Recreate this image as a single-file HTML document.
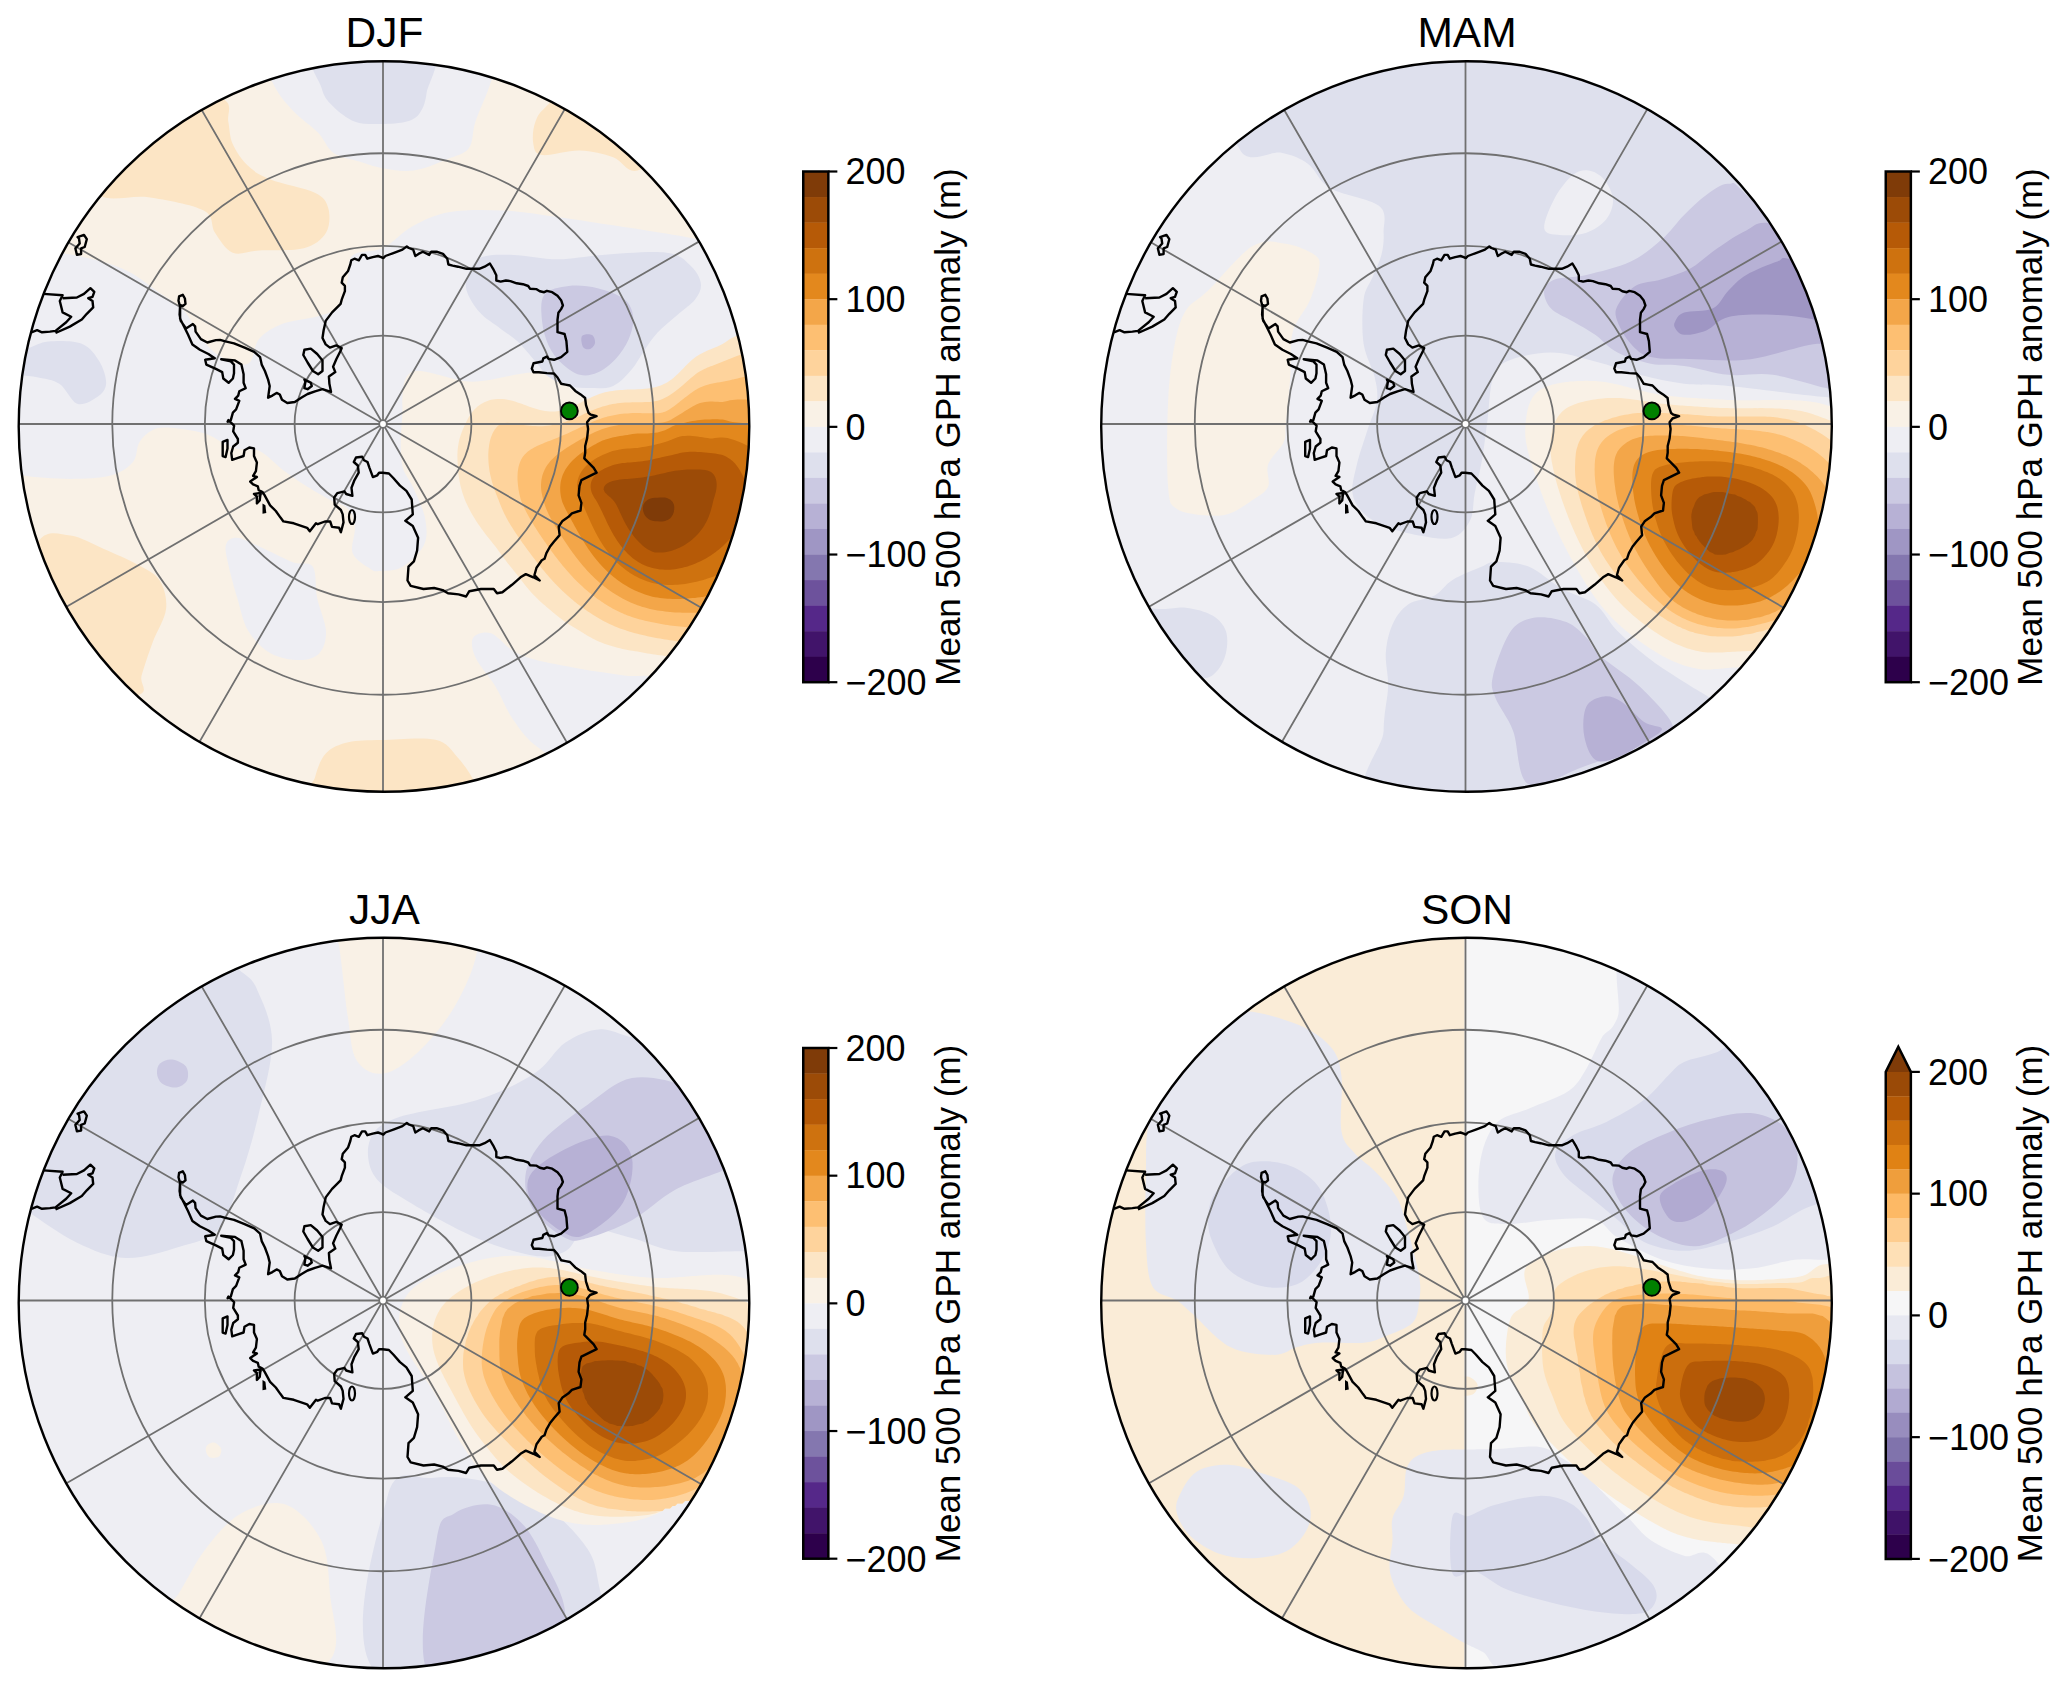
<!DOCTYPE html><html><head><meta charset="utf-8"><style>html,body{margin:0;padding:0;background:#fff;overflow:hidden}svg{display:block}</style></head><body>
<svg xmlns="http://www.w3.org/2000/svg" width="2067" height="1688" viewBox="0 0 2067 1688">
<defs><clipPath id="cc"><circle cx="384.0" cy="426.5" r="365.3"/></clipPath>
<g id="coast"><path d="M180.1 305.5 L179.6 314.5 L180.7 320.9 L186.0 328.4 L192.9 324.1 L195.1 326.3 L195.6 331.6 L200.9 339.1 L207.3 342.5 L215.9 340.1 L220.1 339.9 L225.4 341.4 L234.0 343.3 L244.6 347.6 L254.2 351.8 L260.1 357.2 L261.7 364.6 L264.9 371.0 L268.1 379.6 L269.7 386.0 L268.1 397.7 L272.4 395.6 L276.6 392.9 L279.8 394.5 L282.0 399.8 L287.3 403.0 L294.8 402.0 L301.2 397.7 L307.6 394.0 L315.0 391.3 L322.5 389.2 L331.0 391.8 L329.4 383.8 L328.9 376.4 L335.3 372.1 L333.1 366.8 L336.3 359.3 L340.6 350.8 L341.7 348.1 L336.3 345.4 L329.9 347.6 L325.7 344.4 L322.5 338.0 L323.6 330.5 L325.7 320.9 L332.1 312.4 L340.6 303.9 L341.7 299.7 L344.9 291.2 L344.9 285.9 L341.7 282.7 L342.8 277.3 L348.1 270.9 L350.3 264.5 L351.3 260.3 L354.5 258.7 L358.8 260.3 L362.0 254.9 L365.2 254.9 L367.3 258.7 L372.7 257.1 L378.0 256.0 L381.2 257.1 L383.3 258.1 L385.4 256.0 L394.0 252.8 L402.5 249.6 L406.8 246.4 L408.9 248.0 L413.2 249.6 L415.3 256.0 L418.5 253.9 L422.8 251.7 L429.2 254.9 L431.3 251.7 L436.6 251.7 L443.0 253.9 L447.3 258.7 L448.4 264.5 L452.6 265.6 L458.0 266.7 L466.5 268.8 L472.9 268.8 L479.3 268.8 L484.6 266.7 L489.9 263.5 L493.1 268.8 L496.3 275.2 L496.3 280.5 L500.6 281.6 L505.9 280.5 L510.4 281.1 L516.7 283.3 L522.9 284.2 L528.2 286.0 L530.0 288.7 L536.2 289.1 L539.8 291.3 L544.2 292.2 L546.9 290.9 L552.2 292.2 L557.5 295.8 L561.1 300.2 L562.9 305.5 L561.1 309.1 L558.4 312.7 L557.5 319.8 L557.5 326.9 L557.5 332.2 L564.6 334.0 L566.4 341.1 L567.3 351.8 L561.1 357.1 L554.0 359.8 L548.7 358.9 L546.9 356.6 L543.3 358.4 L542.4 361.5 L533.5 363.3 L531.8 368.6 L533.5 372.2 L538.9 372.2 L546.9 373.1 L554.0 373.5 L557.5 377.5 L561.1 383.7 L565.5 384.6 L570.0 385.5 L575.3 390.9 L580.6 394.4 L585.1 398.0 L586.0 405.1 L588.6 413.1 L590.9 414.7 L596.6 416.2 L590.0 418.5 L587.1 422.3 L588.1 429.0 L587.1 438.4 L585.2 446.0 L585.2 452.7 L584.3 458.3 L589.0 463.1 L593.7 467.8 L596.6 472.6 L589.0 476.4 L581.4 480.1 L579.5 485.8 L578.6 495.3 L581.4 502.9 L580.5 510.5 L571.9 513.3 L568.2 517.1 L562.5 520.9 L558.7 526.6 L559.6 535.1 L553.9 541.8 L550.1 546.5 L546.4 553.1 L544.5 558.8 L541.8 560.2 L536.5 567.7 L534.4 575.2 L539.7 580.5 L533.3 577.3 L525.8 574.1 L520.5 577.3 L512.0 584.8 L502.4 592.2 L497.0 593.3 L493.8 589.0 L481.0 589.0 L469.3 591.2 L466.1 596.5 L458.6 594.4 L448.0 593.3 L442.7 590.1 L434.1 588.0 L423.5 589.0 L410.7 585.8 L407.5 580.5 L408.5 566.6 L413.9 561.3 L417.1 550.6 L418.1 537.8 L412.8 526.1 L405.3 520.8 L412.8 514.4 L411.7 499.5 L406.4 490.9 L400.0 485.6 L393.3 478.0 L388.9 473.5 L382.6 472.7 L379.1 472.7 L377.3 475.3 L372.9 477.1 L369.3 467.3 L367.5 462.0 L364.0 460.2 L362.2 456.7 L356.0 457.5 L353.8 462.0 L357.8 465.5 L358.7 472.7 L354.2 480.7 L351.5 487.8 L352.4 495.8 L346.2 494.0 L344.4 491.3 L337.3 493.1 L334.2 497.5 L334.7 504.6 L340.9 510.0 L342.7 514.4 L343.5 522.4 L340.9 532.2 L339.1 527.8 L332.0 526.9 L330.2 521.5 L324.9 521.5 L317.8 524.2 L316.0 523.3 L309.8 531.3 L307.1 527.8 L293.8 523.3 L283.4 521.4 L280.5 517.6 L275.8 511.0 L270.1 505.3 L264.4 494.9 L262.5 492.0 L258.7 490.1 L257.8 486.3 L253.1 484.4 L250.2 481.6 L256.9 476.9 L253.1 475.9 L255.9 471.2 L256.9 462.6 L254.0 456.0 L254.0 448.4 L249.3 447.5 L244.5 450.3 L243.6 456.0 L237.9 457.9 L232.2 459.8 L231.3 453.2 L233.2 446.5 L237.9 442.7 L237.9 439.0 L233.2 431.4 L234.1 425.7 L228.4 420.0 L227.6 421.7 L230.8 420.1 L232.9 412.6 L236.1 409.4 L239.3 400.9 L235.0 398.8 L238.2 395.6 L239.3 391.3 L245.7 388.1 L243.6 382.8 L243.6 374.2 L241.4 364.6 L235.0 360.4 L221.2 359.3 L230.8 361.4 L234.0 364.6 L234.0 373.2 L232.9 378.5 L228.6 382.8 L223.3 378.5 L222.2 372.1 L215.9 368.9 L206.3 364.6 L205.2 359.8 L214.8 358.2 L208.4 354.0 L199.9 349.7 L192.4 344.4 L188.1 334.8 L183.9 326.3 L180.1 318.8 L180.1 305.5Z M179.1 296.4 L182.8 294.8 L184.9 298.5 L185.5 303.9 L182.8 306.0 L179.6 304.9 L178.5 300.7Z M304.4 349.7 L310.8 348.6 L317.2 354.0 L322.5 360.4 L322.5 371.0 L318.2 374.2 L312.9 371.0 L307.6 362.5 L303.3 355.0Z M304.4 379.6 L310.8 382.8 L311.8 386.0 L307.6 389.2 L304.4 388.1 L305.4 381.7Z M222.7 441.8 L227.5 439.9 L227.5 448.4 L225.6 457.0 L222.7 456.0 L222.7 448.4Z M254.0 493.9 L260.6 493.0 L259.7 500.5 L256.9 503.4 L256.9 496.7Z M77.6 237.1 L84.0 234.9 L86.8 239.2 L84.7 247.0 L81.1 248.4 L81.1 254.1 L76.9 254.8 L75.4 248.4 L79.7 243.5 L79.0 238.5Z M43.5 293.9 L62.6 295.3 L59.8 301.0 L62.6 312.4 L71.2 316.7 L66.2 322.3 L55.5 330.9 L49.9 331.6 L42.0 332.3 L37.1 330.2 L31.4 332.3 M62.6 298.2 L76.9 297.5 L84.0 293.9 L90.4 288.2 L94.3 291.8 L92.5 296.8 L88.2 298.2 L92.5 301.0 L93.2 307.4 L86.8 313.8 L81.8 319.5 L69.8 326.6 L55.5 333.0" fill="none" stroke="#000" stroke-width="2.4" stroke-linejoin="round"/><path d="M262.5 503.4 L265.4 505.3 L266.3 512.9 L262.5 513.8Z" fill="#000"/><g fill="none" stroke="#000" stroke-width="2.2"><ellipse cx="352" cy="517" rx="3" ry="7"/></g></g>
<g id="grid" fill="none" stroke="#707070" stroke-width="1.8"><path d="M-17.00 424.00 L783.00 424.00 M36.59 224.00 L729.41 624.00 M183.00 77.59 L583.00 770.41 M383.00 24.00 L383.00 824.00 M583.00 77.59 L183.00 770.41 M729.41 224.00 L36.59 624.00"/><circle cx="383.0" cy="424.0" r="88.40"/><circle cx="383.0" cy="424.0" r="178.16"/><circle cx="383.0" cy="424.0" r="270.74"/><circle cx="383.0" cy="424.0" r="3.8" fill="#fff" stroke-width="1.8"/></g>
</defs>
<g transform="translate(0.0,0.0)">
<text x="384.5" y="47" font-family="Liberation Sans, sans-serif" font-size="42.5" text-anchor="middle">DJF</text>
<g clip-path="url(#cc)">
<rect x="0" y="0" width="800" height="820" fill="#f9f1e6"/><path d="M260.0 40.0 C222.1 47.1 267.2 71.0 272.7 82.8 C278.1 94.5 285.1 102.2 292.7 110.5 C300.3 118.8 311.4 125.8 318.2 132.8 C325.0 139.9 326.4 148.0 333.3 152.8 C340.2 157.6 351.3 159.1 359.4 161.6 C367.4 164.1 372.6 166.5 381.6 168.0 C390.6 169.5 402.5 171.9 413.3 170.5 C424.1 169.1 437.4 163.1 446.6 159.4 C455.9 155.7 464.0 154.6 468.8 148.3 C473.6 142.0 471.8 132.7 475.5 121.6 C479.2 110.5 486.9 95.2 491.0 81.6 C495.1 68.0 538.5 46.9 500.0 40.0 C461.5 33.1 297.9 32.9 260.0 40.0Z" fill="#eeeef3"/><path d="M259.0 339.0 C264.2 332.7 272.7 327.7 282.0 324.0 C291.3 320.3 306.2 319.3 315.0 317.0 C323.8 314.7 330.2 313.0 335.0 310.0 C339.8 307.0 341.8 304.5 344.0 299.0 C346.2 293.5 346.5 284.3 348.0 277.0 C349.5 269.7 347.2 259.8 353.0 255.0 C358.8 250.2 373.0 252.8 383.0 248.0 C393.0 243.2 401.8 232.0 413.0 226.0 C424.2 220.0 434.8 214.6 450.0 212.0 C465.2 209.4 486.1 209.7 504.0 210.5 C522.0 211.3 541.4 214.9 557.7 217.1 C574.0 219.3 587.2 221.6 602.0 223.8 C616.8 226.0 630.6 227.8 646.5 230.4 C662.4 233.0 683.7 236.0 697.6 239.3 C711.5 242.6 719.6 239.9 730.0 250.0 C740.4 260.1 758.3 285.8 760.0 300.0 C761.7 314.2 746.9 327.0 740.0 335.0 C733.1 343.0 732.6 339.0 718.8 347.8 C705.0 356.6 677.5 379.3 657.0 388.0 C636.5 396.7 611.0 400.5 595.6 400.0 C580.2 399.5 575.1 389.4 564.8 384.8 C554.5 380.2 549.5 373.0 534.0 372.5 C518.5 372.0 492.5 381.7 472.0 381.7 C451.5 381.7 422.7 366.1 411.0 372.5 C399.3 378.9 403.5 404.8 402.0 420.0 C400.5 435.2 400.2 452.8 402.0 464.0 C403.8 475.2 409.2 478.0 413.0 487.0 C416.8 496.0 423.2 508.3 425.0 518.0 C426.8 527.7 427.8 536.8 424.0 545.0 C420.2 553.2 409.3 562.7 402.0 567.0 C394.7 571.3 385.2 570.7 380.0 571.0 C374.8 571.3 375.1 571.9 370.5 568.9 C365.9 565.9 355.3 560.3 352.7 553.3 C350.1 546.2 355.7 534.0 355.0 526.6 C354.3 519.2 352.4 513.3 348.3 508.9 C344.2 504.5 337.9 504.1 330.5 500.0 C323.1 495.9 311.9 489.6 303.8 484.4 C295.7 479.2 289.0 474.4 281.6 468.9 C274.2 463.3 266.8 454.4 259.4 451.1 C252.0 447.8 242.8 450.0 237.2 448.9 C231.6 447.8 231.7 447.0 226.1 444.4 C220.5 441.8 213.1 436.1 203.8 433.3 C194.5 430.5 179.0 428.4 170.5 427.8 C162.0 427.2 157.9 427.6 152.7 430.0 C147.5 432.4 142.7 436.8 139.4 442.2 C136.1 447.6 137.6 456.6 132.8 462.2 C128.0 467.8 120.9 472.7 110.5 475.5 C100.1 478.3 85.3 478.9 70.5 478.9 C55.7 478.9 32.6 477.0 21.7 475.5 C10.8 474.0 7.8 507.6 5.0 470.0 C2.2 432.4 -5.2 286.0 5.0 250.0 C15.2 214.0 46.7 250.8 66.1 253.8 C85.5 256.9 106.0 261.8 121.6 268.3 C137.2 274.8 149.0 285.7 159.4 292.7 C169.8 299.7 177.2 303.5 183.9 310.5 C190.6 317.5 194.2 327.9 199.4 334.9 C204.6 341.9 208.7 347.9 215.0 352.7 C221.3 357.5 231.3 362.3 237.2 363.8 C243.1 365.3 246.9 365.7 250.5 361.6 C254.1 357.5 253.8 345.3 259.0 339.0Z" fill="#eeeef3"/><path d="M226.0 544.4 C227.5 540.0 231.6 537.4 237.2 537.8 C242.8 538.2 250.1 542.5 259.4 546.6 C268.6 550.7 283.8 558.9 292.7 562.2 C301.6 565.5 308.6 560.7 312.7 566.6 C316.8 572.5 314.9 587.0 317.1 597.7 C319.3 608.4 325.6 621.8 326.0 631.0 C326.4 640.2 323.8 648.4 319.4 653.2 C315.0 658.0 307.5 660.0 299.4 660.0 C291.2 660.0 279.0 658.0 270.5 653.2 C262.0 648.4 253.9 640.2 248.3 631.0 C242.8 621.8 240.5 608.8 237.2 597.7 C233.9 586.6 230.2 573.3 228.3 564.4 C226.4 555.5 224.5 548.8 226.0 544.4Z" fill="#eeeef3"/><path d="M473.3 637.6 C475.9 633.5 484.4 631.0 491.0 633.2 C497.6 635.4 505.8 646.6 513.2 651.0 C520.6 655.4 524.4 656.8 535.5 659.8 C546.6 662.8 565.1 666.1 579.9 668.7 C594.7 671.3 610.9 673.5 624.3 675.4 C637.6 677.3 650.7 672.6 660.0 680.0 C669.3 687.4 690.0 703.3 680.0 720.0 C670.0 736.7 623.4 775.2 600.0 780.0 C576.6 784.8 554.4 758.7 539.9 748.7 C525.4 738.7 520.6 730.2 513.2 719.8 C505.8 709.4 501.8 696.9 495.5 686.5 C489.2 676.1 479.2 665.8 475.5 657.6 C471.8 649.5 470.7 641.7 473.3 637.6Z" fill="#eeeef3"/><path d="M318.0 50.0 C300.3 56.3 319.2 78.7 321.6 88.0 C324.1 97.3 327.1 100.4 332.7 106.0 C338.3 111.6 346.9 118.7 355.0 121.7 C363.1 124.7 373.0 124.0 381.6 124.0 C390.2 124.0 400.2 123.5 406.6 121.6 C413.0 119.7 416.7 117.5 420.0 112.7 C423.3 107.9 425.3 103.2 426.6 92.8 C427.9 82.3 446.1 57.1 428.0 50.0 C409.9 42.9 335.7 43.7 318.0 50.0Z" fill="#dee0ed"/><path d="M5.0 355.0 C8.9 351.1 21.1 350.5 28.3 348.3 C35.5 346.1 39.4 342.4 48.3 341.6 C57.2 340.9 73.2 340.5 81.7 343.8 C90.2 347.1 95.3 354.9 99.4 361.6 C103.5 368.3 106.5 377.9 106.1 383.8 C105.7 389.7 102.0 393.8 97.2 397.1 C92.4 400.4 83.5 406.0 77.2 403.8 C70.9 401.6 66.1 388.2 59.4 383.8 C52.7 379.4 46.3 379.2 37.2 377.2 C28.1 375.2 10.4 375.7 5.0 372.0 C-0.4 368.3 1.1 358.9 5.0 355.0Z" fill="#dee0ed"/><path d="M482.2 257.1 C489.6 254.2 500.6 254.5 513.2 254.9 C525.8 255.3 542.9 259.3 557.7 259.3 C572.5 259.3 584.0 256.0 602.1 254.9 C620.2 253.8 651.7 250.8 666.5 252.7 C681.3 254.5 685.2 260.8 690.9 266.0 C696.6 271.2 700.2 278.1 700.9 283.7 C701.6 289.2 699.2 294.1 695.3 299.3 C691.4 304.5 683.9 309.2 677.6 314.8 C671.3 320.4 663.2 326.7 657.6 332.6 C652.0 338.5 648.7 344.1 644.3 350.4 C639.9 356.7 636.2 364.4 631.0 370.3 C625.8 376.2 619.9 382.9 613.2 385.9 C606.5 388.9 598.4 388.1 591.0 388.1 C583.6 388.1 575.8 387.8 568.8 385.9 C561.8 384.0 554.3 381.1 548.8 377.0 C543.2 372.9 540.7 367.4 535.5 361.5 C530.3 355.6 523.6 347.1 517.7 341.5 C511.8 335.9 506.2 333.0 499.9 328.2 C493.6 323.4 485.4 318.9 479.9 312.6 C474.3 306.3 468.5 297.1 466.6 290.4 C464.8 283.7 466.2 278.2 468.8 272.6 C471.4 267.1 474.8 260.1 482.2 257.1Z" fill="#dee0ed"/><path d="M544.3 294.8 C548.8 288.9 559.9 287.1 568.8 286.0 C577.7 284.9 588.4 286.0 597.6 288.2 C606.9 290.4 618.4 294.5 624.3 299.3 C630.2 304.1 632.5 310.3 633.2 317.0 C633.9 323.7 631.7 332.3 628.7 339.3 C625.7 346.3 620.6 353.6 615.4 359.2 C610.2 364.8 603.5 370.0 597.6 372.6 C591.7 375.2 585.8 376.3 579.9 374.8 C574.0 373.3 567.3 368.5 562.1 363.7 C556.9 358.9 552.1 352.9 548.8 345.9 C545.5 338.9 542.9 330.0 542.1 321.5 C541.4 313.0 539.8 300.7 544.3 294.8Z" fill="#cbc9e2"/><path d="M582.0 336.0 C583.5 334.0 589.8 333.8 592.0 335.0 C594.2 336.2 595.3 340.7 595.0 343.0 C594.7 345.3 592.0 348.3 590.0 349.0 C588.0 349.7 584.3 349.2 583.0 347.0 C581.7 344.8 580.5 338.0 582.0 336.0Z" fill="#b7b1d5"/><path d="M99.4 195.0 C110.8 202.9 130.9 194.6 148.3 197.2 C165.7 199.8 192.7 204.6 203.8 210.5 C214.9 216.4 210.2 225.7 215.0 232.7 C219.8 239.7 225.3 249.7 232.7 252.7 C240.1 255.7 247.5 251.2 259.4 250.5 C271.2 249.8 292.7 251.3 303.8 248.3 C314.9 245.3 321.9 239.4 326.0 232.7 C330.1 226.0 330.2 215.0 328.3 208.3 C326.4 201.6 324.5 197.5 314.9 192.7 C305.3 187.9 281.6 183.8 270.5 179.4 C259.4 175.0 254.6 172.0 248.3 166.1 C242.0 160.2 236.0 151.3 232.7 143.9 C229.4 136.5 229.8 129.1 228.3 121.7 C226.8 114.3 233.4 104.7 223.8 99.4 C214.2 94.1 194.5 81.6 170.5 90.0 C146.5 98.4 91.8 132.5 80.0 150.0 C68.2 167.5 88.0 187.1 99.4 195.0Z" fill="#fce5c5"/><path d="M600.0 60.0 C578.1 54.0 559.5 93.6 548.8 103.9 C538.0 114.2 538.1 114.9 535.5 121.6 C532.9 128.2 532.2 138.2 533.3 143.8 C534.4 149.4 534.3 153.9 542.1 155.0 C549.9 156.1 568.0 150.1 579.9 150.5 C591.8 150.9 603.6 153.9 613.2 157.2 C622.8 160.5 626.5 173.4 637.6 170.5 C648.7 167.6 686.3 158.4 680.0 140.0 C673.7 121.6 621.9 66.0 600.0 60.0Z" fill="#fce5c5"/><path d="M20.0 600.0 C16.6 573.3 31.0 550.8 39.4 540.0 C47.8 529.2 59.8 534.0 70.5 535.5 C81.2 537.0 92.8 544.1 103.9 548.9 C115.0 553.7 127.9 559.2 137.2 564.4 C146.4 569.6 154.6 572.6 159.4 580.0 C164.2 587.4 167.2 598.4 166.1 608.8 C165.0 619.2 156.8 631.1 152.7 642.2 C148.6 653.3 144.2 666.6 141.6 675.5 C139.0 684.4 150.8 691.4 137.2 695.5 C123.6 699.6 79.5 715.9 60.0 700.0 C40.5 684.1 23.4 626.7 20.0 600.0Z" fill="#fce5c5"/><path d="M314.9 777.7 C317.6 768.2 320.4 759.1 326.0 753.2 C331.6 747.3 339.0 744.4 348.3 742.2 C357.6 740.0 367.1 740.4 381.6 740.0 C396.1 739.6 422.8 736.9 435.5 739.8 C448.2 742.7 451.0 750.2 457.7 757.6 C464.4 765.0 471.8 775.5 475.5 784.2 C479.2 792.9 507.6 805.7 480.0 810.0 C452.4 814.3 337.5 815.4 310.0 810.0 C282.5 804.6 312.2 787.2 314.9 777.7Z" fill="#fce5c5"/><clipPath id="clp40709"><path d="M440.0 380.0 C456.7 365.0 493.3 368.3 520.0 360.0 C546.7 351.7 570.0 345.0 600.0 330.0 C630.0 315.0 670.0 283.3 700.0 270.0 C730.0 256.7 765.0 178.3 780.0 250.0 C795.0 321.7 813.3 621.7 790.0 700.0 C766.7 778.3 688.3 726.7 640.0 720.0 C591.7 713.3 535.0 686.7 500.0 660.0 C465.0 633.3 443.3 595.0 430.0 560.0 C416.7 525.0 418.3 480.0 420.0 450.0 C421.7 420.0 423.3 395.0 440.0 380.0Z"/></clipPath><g clip-path="url(#clp40709)"><path d="M756.6 324.5 L757.5 323.8 L757.5 324.5 L757.5 327.0 L757.5 329.5 L757.5 332.0 L757.5 334.5 L757.5 337.0 L757.5 339.5 L757.5 342.0 L757.5 344.5 L757.5 347.0 L757.5 349.5 L757.5 352.0 L757.5 354.5 L757.5 357.0 L757.5 359.5 L757.5 362.0 L757.5 364.5 L757.5 367.0 L757.5 369.5 L757.5 372.0 L757.5 374.5 L757.5 377.0 L757.5 379.5 L757.5 382.0 L757.5 384.5 L757.5 387.0 L757.5 389.5 L757.5 392.0 L757.5 394.5 L757.5 397.0 L757.5 399.5 L757.5 402.0 L757.5 404.5 L757.5 407.0 L757.5 409.5 L757.5 412.0 L757.5 414.5 L757.5 417.0 L757.5 419.5 L757.5 422.0 L757.5 424.5 L757.5 427.0 L757.5 429.5 L757.5 432.0 L757.5 434.5 L757.5 437.0 L757.5 439.5 L757.5 442.0 L757.5 444.5 L757.5 447.0 L757.5 449.5 L757.5 452.0 L757.5 454.5 L757.5 457.0 L757.5 459.5 L757.5 462.0 L757.5 464.5 L757.5 467.0 L757.5 469.5 L757.5 472.0 L757.5 474.5 L757.5 477.0 L757.5 479.5 L757.5 482.0 L757.5 484.5 L757.5 487.0 L757.5 489.5 L757.5 492.0 L757.5 494.5 L757.5 497.0 L757.5 499.5 L757.5 502.0 L757.5 504.5 L757.5 507.0 L757.5 509.5 L757.5 512.0 L757.5 514.5 L757.5 517.0 L757.5 519.5 L757.5 522.0 L757.5 524.5 L757.5 527.0 L757.5 529.5 L757.5 532.0 L757.5 534.5 L757.5 537.0 L757.5 539.5 L757.5 542.0 L757.5 544.5 L757.5 547.0 L757.5 549.5 L757.5 552.0 L757.5 554.5 L757.5 557.0 L757.5 559.5 L757.5 562.0 L757.5 564.5 L757.5 567.0 L757.5 569.5 L757.5 572.0 L757.5 574.5 L757.5 577.0 L757.5 579.5 L757.5 582.0 L757.5 584.5 L757.5 587.0 L757.5 589.5 L757.5 592.0 L757.5 594.5 L757.5 597.0 L757.5 599.5 L757.5 602.0 L757.5 604.5 L757.5 607.0 L757.5 609.5 L757.5 612.0 L757.5 614.5 L757.5 617.0 L757.5 619.5 L757.5 622.0 L757.5 624.5 L757.5 627.0 L757.5 629.5 L757.5 632.0 L757.5 634.5 L757.5 637.0 L757.5 639.5 L757.5 642.0 L757.5 644.5 L757.5 647.0 L757.5 649.5 L757.5 652.0 L757.5 654.5 L757.5 657.0 L757.5 659.5 L757.5 662.0 L757.5 664.5 L757.5 667.0 L757.5 669.5 L757.5 672.0 L757.5 674.5 L757.5 677.0 L757.5 679.5 L757.5 681.8 L755.0 681.0 L752.5 680.2 L750.5 679.5 L750.0 679.4 L747.5 678.6 L745.0 677.7 L742.7 677.0 L742.5 676.9 L740.0 676.1 L737.5 675.3 L735.0 674.5 L735.0 674.5 L732.5 673.7 L730.0 672.9 L727.5 672.1 L727.1 672.0 L725.0 671.4 L722.5 670.6 L720.0 669.8 L718.8 669.5 L717.5 669.1 L715.0 668.4 L712.5 667.7 L710.0 667.0 L709.8 667.0 L707.5 666.4 L705.0 665.8 L702.5 665.1 L700.0 664.5 L700.0 664.5 L697.5 663.9 L695.0 663.3 L692.5 662.7 L690.0 662.0 L689.9 662.0 L687.5 661.4 L685.0 660.7 L682.5 660.1 L680.3 659.5 L680.0 659.4 L677.5 658.8 L675.0 658.2 L672.5 657.6 L670.1 657.0 L670.0 657.0 L667.5 656.5 L665.0 656.0 L662.5 655.6 L660.0 655.2 L657.5 654.9 L655.0 654.6 L654.1 654.5 L652.5 654.3 L650.0 653.8 L647.5 653.4 L645.0 652.9 L642.5 652.5 L640.0 652.0 L639.8 652.0 L637.5 651.6 L635.0 651.2 L632.5 650.8 L630.0 650.4 L627.5 649.9 L625.5 649.5 L625.0 649.4 L622.5 648.9 L620.0 648.3 L617.5 647.7 L615.0 647.0 L615.0 647.0 L612.5 646.3 L610.0 645.6 L607.5 644.8 L606.7 644.5 L605.0 643.9 L602.5 643.0 L600.1 642.0 L600.0 642.0 L597.5 640.9 L595.0 639.7 L594.6 639.5 L592.5 638.4 L590.0 637.1 L589.9 637.0 L587.5 635.7 L585.6 634.5 L585.0 634.2 L582.5 632.6 L581.5 632.0 L580.0 631.1 L577.5 629.6 L577.4 629.5 L575.0 628.1 L573.2 627.0 L572.5 626.6 L570.0 625.0 L569.2 624.5 L567.5 623.4 L565.5 622.0 L565.0 621.7 L562.5 619.9 L562.0 619.5 L560.0 618.0 L558.7 617.0 L557.5 616.1 L555.5 614.5 L555.0 614.1 L552.5 612.0 L552.5 612.0 L550.0 609.8 L549.6 609.5 L547.5 607.7 L546.6 607.0 L545.0 605.6 L543.7 604.5 L542.5 603.4 L540.9 602.0 L540.0 601.2 L538.2 599.5 L537.5 598.8 L535.7 597.0 L535.0 596.3 L533.2 594.5 L532.5 593.7 L530.9 592.0 L530.0 590.9 L528.7 589.5 L527.5 588.0 L526.6 587.0 L525.0 585.0 L524.6 584.5 L522.7 582.0 L522.5 581.8 L520.7 579.5 L520.0 578.5 L518.8 577.0 L517.5 575.3 L516.9 574.5 L515.0 572.2 L514.8 572.0 L512.8 569.5 L512.5 569.1 L510.8 567.0 L510.0 566.0 L508.8 564.5 L507.5 562.9 L506.8 562.0 L505.0 559.6 L504.9 559.5 L503.1 557.0 L502.5 556.2 L501.2 554.5 L500.0 552.8 L499.4 552.0 L497.6 549.5 L497.5 549.3 L495.8 547.0 L495.0 546.0 L493.8 544.5 L492.5 542.9 L491.8 542.0 L490.0 539.8 L489.8 539.5 L487.8 537.0 L487.5 536.7 L485.8 534.5 L485.0 533.4 L483.9 532.0 L482.5 530.1 L482.0 529.5 L480.3 527.0 L480.0 526.6 L478.5 524.5 L477.5 523.0 L476.8 522.0 L475.2 519.5 L475.0 519.1 L473.7 517.0 L472.5 515.0 L472.2 514.5 L470.8 512.0 L470.0 510.5 L469.5 509.5 L468.2 507.0 L467.5 505.6 L467.0 504.5 L465.8 502.0 L465.0 500.0 L464.8 499.5 L463.9 497.0 L463.0 494.5 L462.5 492.9 L462.2 492.0 L461.5 489.5 L460.8 487.0 L460.2 484.5 L460.0 483.3 L459.7 482.0 L459.3 479.5 L458.9 477.0 L458.5 474.5 L458.2 472.0 L458.0 469.5 L457.8 467.0 L457.7 464.5 L457.6 462.0 L457.5 460.5 L457.5 459.5 L457.4 457.0 L457.4 454.5 L457.5 453.2 L457.5 452.0 L457.7 449.5 L458.0 447.0 L458.4 444.5 L458.8 442.0 L459.4 439.5 L460.0 437.3 L460.1 437.0 L460.9 434.5 L461.8 432.0 L462.5 430.2 L462.8 429.5 L463.9 427.0 L465.0 424.7 L465.1 424.5 L466.3 422.0 L467.5 419.6 L467.5 419.5 L468.9 417.0 L470.0 415.2 L470.5 414.5 L472.3 412.0 L472.5 411.7 L474.4 409.5 L475.0 408.9 L477.0 407.0 L477.5 406.6 L480.0 404.7 L480.3 404.5 L482.5 403.2 L484.8 402.0 L485.0 401.9 L487.5 400.9 L490.0 400.1 L492.5 399.5 L492.8 399.5 L495.0 399.2 L497.5 399.0 L500.0 398.9 L502.5 399.0 L505.0 399.3 L506.3 399.5 L507.5 399.7 L510.0 400.2 L512.5 400.8 L515.0 401.6 L516.4 402.0 L517.5 402.4 L520.0 403.2 L522.5 404.1 L523.4 404.5 L525.0 405.1 L527.5 406.0 L530.0 406.9 L530.2 407.0 L532.5 407.8 L535.0 408.6 L537.5 409.3 L538.1 409.5 L540.0 410.0 L542.5 410.5 L545.0 411.0 L547.5 411.3 L550.0 411.5 L552.5 411.5 L555.0 411.4 L557.5 411.2 L560.0 410.8 L562.5 410.3 L565.0 409.6 L565.3 409.5 L567.5 408.7 L570.0 407.8 L571.8 407.0 L572.5 406.7 L575.0 405.5 L577.0 404.5 L577.5 404.2 L580.0 402.9 L581.8 402.0 L582.5 401.6 L585.0 400.3 L586.7 399.5 L587.5 399.1 L590.0 397.9 L591.9 397.0 L592.5 396.7 L595.0 395.7 L597.5 394.7 L598.0 394.5 L600.0 393.8 L602.5 393.0 L605.0 392.3 L606.5 392.0 L607.5 391.8 L610.0 391.3 L612.5 390.9 L615.0 390.6 L617.5 390.3 L620.0 390.1 L622.5 389.9 L625.0 389.8 L627.5 389.6 L630.0 389.5 L631.5 389.5 L632.5 389.5 L635.0 389.4 L637.5 389.3 L640.0 389.2 L642.5 389.0 L645.0 388.8 L647.5 388.6 L650.0 388.2 L652.5 387.8 L655.0 387.2 L655.8 387.0 L657.5 386.5 L660.0 385.7 L662.5 384.7 L662.9 384.5 L665.0 383.5 L667.5 382.2 L667.8 382.0 L670.0 380.6 L671.5 379.5 L672.5 378.7 L674.5 377.0 L675.0 376.6 L677.2 374.5 L677.5 374.2 L679.8 372.0 L680.0 371.8 L682.2 369.5 L682.5 369.2 L684.7 367.0 L685.0 366.6 L687.1 364.5 L687.5 364.1 L689.7 362.0 L690.0 361.7 L692.4 359.5 L692.5 359.4 L695.0 357.4 L695.6 357.0 L697.5 355.7 L699.5 354.5 L700.0 354.2 L702.5 352.9 L704.4 352.0 L705.0 351.7 L707.5 350.6 L710.0 349.6 L710.2 349.5 L712.5 348.5 L715.0 347.5 L716.2 347.0 L717.5 346.4 L720.0 345.3 L721.5 344.5 L722.5 344.0 L725.0 342.4 L725.7 342.0 L727.5 340.8 L729.3 339.5 L730.0 339.1 L732.5 337.7 L733.9 337.0 L735.0 336.5 L737.5 335.4 L739.4 334.5 L740.0 334.2 L742.5 333.0 L744.6 332.0 L745.0 331.8 L747.5 330.4 L749.1 329.5 L750.0 329.0 L752.5 327.4 L753.1 327.0 L755.0 325.7 L756.6 324.5Z" fill="#fce5c5"/><path d="M749.7 352.0 L750.0 351.9 L752.5 351.2 L755.0 350.5 L757.5 349.8 L757.5 352.0 L757.5 354.5 L757.5 357.0 L757.5 359.5 L757.5 362.0 L757.5 364.5 L757.5 367.0 L757.5 369.5 L757.5 372.0 L757.5 374.5 L757.5 377.0 L757.5 379.5 L757.5 382.0 L757.5 384.5 L757.5 387.0 L757.5 389.5 L757.5 392.0 L757.5 394.5 L757.5 397.0 L757.5 399.5 L757.5 402.0 L757.5 404.5 L757.5 407.0 L757.5 409.5 L757.5 412.0 L757.5 414.5 L757.5 417.0 L757.5 419.5 L757.5 422.0 L757.5 424.5 L757.5 427.0 L757.5 429.5 L757.5 432.0 L757.5 434.5 L757.5 437.0 L757.5 439.5 L757.5 442.0 L757.5 444.5 L757.5 447.0 L757.5 449.5 L757.5 452.0 L757.5 454.5 L757.5 457.0 L757.5 459.5 L757.5 462.0 L757.5 464.5 L757.5 467.0 L757.5 469.5 L757.5 472.0 L757.5 474.5 L757.5 477.0 L757.5 479.5 L757.5 482.0 L757.5 484.5 L757.5 487.0 L757.5 489.5 L757.5 492.0 L757.5 494.5 L757.5 497.0 L757.5 499.5 L757.5 502.0 L757.5 504.5 L757.5 507.0 L757.5 509.5 L757.5 512.0 L757.5 514.5 L757.5 517.0 L757.5 519.5 L757.5 522.0 L757.5 524.5 L757.5 527.0 L757.5 529.5 L757.5 532.0 L757.5 534.5 L757.5 537.0 L757.5 539.5 L757.5 542.0 L757.5 544.5 L757.5 547.0 L757.5 549.5 L757.5 552.0 L757.5 554.5 L757.5 557.0 L757.5 559.5 L757.5 562.0 L757.5 564.5 L757.5 567.0 L757.5 569.5 L757.5 572.0 L757.5 574.5 L757.5 577.0 L757.5 579.5 L757.5 582.0 L757.5 584.5 L757.5 587.0 L757.5 589.5 L757.5 592.0 L757.5 594.5 L757.5 597.0 L757.5 599.5 L757.5 602.0 L757.5 604.5 L757.5 607.0 L757.5 609.5 L757.5 612.0 L757.5 614.5 L757.5 617.0 L757.5 619.5 L757.5 622.0 L757.5 624.5 L757.5 627.0 L757.5 629.5 L757.5 632.0 L757.5 634.5 L757.5 637.0 L757.5 639.5 L757.5 642.0 L757.5 644.5 L757.5 647.0 L757.5 649.5 L757.5 651.8 L755.0 651.5 L752.5 651.2 L750.0 650.9 L747.5 650.6 L745.0 650.3 L742.5 650.0 L740.0 649.7 L738.5 649.5 L737.5 649.4 L735.0 649.1 L732.5 648.7 L730.0 648.4 L727.5 648.1 L725.0 647.8 L722.5 647.4 L720.0 647.1 L719.3 647.0 L717.5 646.8 L715.0 646.4 L712.5 646.1 L710.0 645.8 L707.5 645.5 L705.0 645.1 L702.5 644.8 L700.4 644.5 L700.0 644.5 L697.5 644.1 L695.0 643.8 L692.5 643.4 L690.0 643.1 L687.5 642.7 L685.0 642.4 L682.5 642.0 L682.3 642.0 L680.0 641.7 L677.5 641.3 L675.0 640.9 L672.5 640.6 L670.0 640.2 L667.5 639.8 L665.4 639.5 L665.0 639.4 L662.5 639.0 L660.0 638.6 L657.5 638.2 L655.0 637.7 L652.5 637.2 L651.5 637.0 L650.0 636.7 L647.5 636.2 L645.0 635.6 L642.5 635.0 L640.3 634.5 L640.0 634.4 L637.5 633.8 L635.0 633.2 L632.5 632.5 L630.9 632.0 L630.0 631.7 L627.5 631.0 L625.0 630.1 L623.1 629.5 L622.5 629.3 L620.0 628.4 L617.5 627.4 L616.5 627.0 L615.0 626.4 L612.5 625.3 L610.7 624.5 L610.0 624.2 L607.5 623.0 L605.6 622.0 L605.0 621.7 L602.5 620.4 L600.9 619.5 L600.0 619.0 L597.5 617.5 L596.6 617.0 L595.0 616.0 L592.6 614.5 L592.5 614.5 L590.0 612.8 L588.7 612.0 L587.5 611.2 L585.1 609.5 L585.0 609.4 L582.5 607.6 L581.6 607.0 L580.0 605.8 L578.3 604.5 L577.5 603.9 L575.1 602.0 L575.0 601.9 L572.5 599.8 L572.1 599.5 L570.0 597.7 L569.2 597.0 L567.5 595.5 L566.4 594.5 L565.0 593.2 L563.7 592.0 L562.5 590.9 L561.0 589.5 L560.0 588.5 L558.5 587.0 L557.5 586.0 L556.1 584.5 L555.0 583.4 L553.7 582.0 L552.5 580.7 L551.4 579.5 L550.0 578.0 L549.1 577.0 L547.5 575.1 L547.0 574.5 L545.0 572.2 L544.9 572.0 L542.8 569.5 L542.5 569.2 L540.7 567.0 L540.0 566.1 L538.8 564.5 L537.5 562.9 L536.8 562.0 L535.0 559.7 L534.9 559.5 L532.9 557.0 L532.5 556.4 L531.0 554.5 L530.0 553.1 L529.2 552.0 L527.5 549.8 L527.3 549.5 L525.5 547.0 L525.0 546.3 L523.7 544.5 L522.5 542.9 L521.9 542.0 L520.1 539.5 L520.0 539.3 L518.4 537.0 L517.5 535.7 L516.7 534.5 L515.0 532.0 L515.0 532.0 L513.4 529.5 L512.5 528.1 L511.8 527.0 L510.2 524.5 L510.0 524.1 L508.7 522.0 L507.5 519.8 L507.3 519.5 L506.0 517.0 L505.0 515.1 L504.7 514.5 L503.5 512.0 L502.5 509.8 L502.4 509.5 L501.3 507.0 L500.3 504.5 L500.0 503.7 L499.3 502.0 L498.4 499.5 L497.5 497.4 L497.4 497.0 L496.3 494.5 L495.4 492.0 L495.0 491.0 L494.4 489.5 L493.6 487.0 L492.8 484.5 L492.5 483.5 L492.0 482.0 L491.4 479.5 L490.8 477.0 L490.2 474.5 L490.0 473.4 L489.7 472.0 L489.3 469.5 L489.0 467.0 L488.7 464.5 L488.5 462.0 L488.4 459.5 L488.3 457.0 L488.3 454.5 L488.4 452.0 L488.6 449.5 L488.9 447.0 L489.2 444.5 L489.7 442.0 L490.0 440.8 L490.3 439.5 L491.1 437.0 L492.1 434.5 L492.5 433.5 L493.3 432.0 L494.8 429.5 L495.0 429.2 L496.8 427.0 L497.5 426.3 L499.7 424.5 L500.0 424.3 L502.5 423.3 L505.0 422.9 L507.5 422.8 L510.0 423.0 L512.5 423.2 L515.0 423.6 L517.5 424.0 L520.0 424.4 L520.7 424.5 L522.5 424.8 L525.0 425.2 L527.5 425.5 L530.0 425.8 L532.5 426.0 L535.0 426.1 L537.5 426.2 L540.0 426.2 L542.5 426.2 L545.0 426.0 L547.5 425.8 L550.0 425.5 L552.5 425.1 L555.0 424.6 L555.6 424.5 L557.5 424.1 L560.0 423.5 L562.5 422.8 L564.9 422.0 L565.0 422.0 L567.5 421.1 L570.0 420.2 L571.7 419.5 L572.5 419.2 L575.0 418.1 L577.5 417.0 L577.6 417.0 L580.0 415.9 L582.5 414.7 L583.0 414.5 L585.0 413.6 L587.5 412.5 L588.5 412.0 L590.0 411.3 L592.5 410.3 L594.4 409.5 L595.0 409.3 L597.5 408.3 L600.0 407.4 L601.3 407.0 L602.5 406.6 L605.0 405.9 L607.5 405.2 L610.0 404.6 L610.7 404.5 L612.5 404.1 L615.0 403.7 L617.5 403.3 L620.0 403.0 L622.5 402.8 L625.0 402.6 L627.5 402.5 L630.0 402.4 L632.5 402.3 L635.0 402.2 L637.5 402.2 L640.0 402.2 L642.5 402.2 L645.0 402.1 L647.5 402.0 L647.9 402.0 L650.0 401.9 L652.5 401.6 L655.0 401.2 L657.5 400.7 L660.0 400.0 L661.3 399.5 L662.5 399.0 L665.0 397.8 L666.5 397.0 L667.5 396.5 L670.0 394.9 L670.6 394.5 L672.5 393.3 L674.3 392.0 L675.0 391.5 L677.5 389.6 L677.6 389.5 L680.0 387.5 L680.7 387.0 L682.5 385.4 L683.6 384.5 L685.0 383.2 L686.4 382.0 L687.5 381.0 L689.3 379.5 L690.0 378.8 L692.2 377.0 L692.5 376.7 L695.0 374.7 L695.2 374.5 L697.5 372.8 L698.8 372.0 L700.0 371.2 L702.5 369.9 L703.4 369.5 L705.0 368.7 L707.5 367.6 L709.1 367.0 L710.0 366.6 L712.5 365.7 L715.0 364.7 L715.5 364.5 L717.5 363.7 L720.0 362.8 L721.9 362.0 L722.5 361.8 L725.0 360.8 L727.5 359.7 L728.0 359.5 L730.0 358.7 L732.5 357.7 L734.3 357.0 L735.0 356.7 L737.5 355.8 L740.0 355.0 L741.4 354.5 L742.5 354.1 L745.0 353.4 L747.5 352.6 L749.7 352.0Z" fill="#fed39c"/><path d="M743.6 377.0 L745.0 376.7 L747.5 376.2 L750.0 375.8 L752.5 375.3 L755.0 374.9 L757.5 374.6 L757.5 377.0 L757.5 379.5 L757.5 382.0 L757.5 384.5 L757.5 387.0 L757.5 389.5 L757.5 392.0 L757.5 394.5 L757.5 397.0 L757.5 399.5 L757.5 402.0 L757.5 404.5 L757.5 407.0 L757.5 409.5 L757.5 412.0 L757.5 414.5 L757.5 417.0 L757.5 419.5 L757.5 422.0 L757.5 424.5 L757.5 427.0 L757.5 429.5 L757.5 432.0 L757.5 434.5 L757.5 437.0 L757.5 439.5 L757.5 442.0 L757.5 444.5 L757.5 447.0 L757.5 449.5 L757.5 452.0 L757.5 454.5 L757.5 457.0 L757.5 459.5 L757.5 462.0 L757.5 464.5 L757.5 467.0 L757.5 469.5 L757.5 472.0 L757.5 474.5 L757.5 477.0 L757.5 479.5 L757.5 482.0 L757.5 484.5 L757.5 487.0 L757.5 489.5 L757.5 492.0 L757.5 494.5 L757.5 497.0 L757.5 499.5 L757.5 502.0 L757.5 504.5 L757.5 507.0 L757.5 509.5 L757.5 512.0 L757.5 514.5 L757.5 517.0 L757.5 519.5 L757.5 522.0 L757.5 524.5 L757.5 527.0 L757.5 529.5 L757.5 532.0 L757.5 534.5 L757.5 537.0 L757.5 539.5 L757.5 542.0 L757.5 544.5 L757.5 547.0 L757.5 549.5 L757.5 552.0 L757.5 554.5 L757.5 557.0 L757.5 559.5 L757.5 562.0 L757.5 564.5 L757.5 567.0 L757.5 569.5 L757.5 572.0 L757.5 574.5 L757.5 577.0 L757.5 579.5 L757.5 582.0 L757.5 584.5 L757.5 587.0 L757.5 589.5 L757.5 592.0 L757.5 594.5 L757.5 597.0 L757.5 599.5 L757.5 602.0 L757.5 604.5 L757.5 607.0 L757.5 609.5 L757.5 612.0 L757.5 614.5 L757.5 617.0 L757.5 619.5 L757.5 622.0 L757.5 624.5 L757.5 627.0 L757.5 627.8 L755.0 628.0 L752.5 628.1 L750.0 628.2 L747.5 628.2 L745.0 628.3 L742.5 628.4 L740.0 628.4 L737.5 628.5 L735.0 628.5 L732.5 628.5 L730.0 628.5 L727.5 628.6 L725.0 628.5 L722.5 628.5 L720.0 628.5 L717.5 628.5 L715.0 628.4 L712.5 628.4 L710.0 628.3 L707.5 628.2 L705.0 628.1 L702.5 628.1 L700.0 627.9 L697.5 627.8 L695.0 627.7 L692.5 627.5 L690.0 627.4 L687.5 627.2 L685.0 627.0 L685.0 627.0 L682.5 626.8 L680.0 626.6 L677.5 626.3 L675.0 626.0 L672.5 625.7 L670.0 625.4 L667.5 625.1 L665.0 624.7 L664.0 624.5 L662.5 624.3 L660.0 623.8 L657.5 623.3 L655.0 622.8 L652.5 622.3 L650.9 622.0 L650.0 621.8 L647.5 621.3 L645.0 620.8 L642.5 620.1 L640.0 619.5 L640.0 619.5 L637.5 618.8 L635.0 618.0 L632.5 617.2 L631.9 617.0 L630.0 616.3 L627.5 615.4 L625.3 614.5 L625.0 614.4 L622.5 613.3 L620.0 612.2 L619.7 612.0 L617.5 611.0 L615.0 609.7 L614.6 609.5 L612.5 608.4 L610.1 607.0 L610.0 607.0 L607.5 605.5 L605.9 604.5 L605.0 603.9 L602.5 602.3 L602.0 602.0 L600.0 600.6 L598.4 599.5 L597.5 598.9 L595.0 597.0 L595.0 597.0 L592.5 595.1 L591.7 594.5 L590.0 593.1 L588.6 592.0 L587.5 591.0 L585.7 589.5 L585.0 588.9 L582.9 587.0 L582.5 586.6 L580.2 584.5 L580.0 584.3 L577.6 582.0 L577.5 581.9 L575.1 579.5 L575.0 579.4 L572.7 577.0 L572.5 576.7 L570.4 574.5 L570.0 574.0 L568.2 572.0 L567.5 571.2 L566.0 569.5 L565.0 568.3 L563.9 567.0 L562.5 565.4 L561.8 564.5 L560.0 562.3 L559.8 562.0 L557.8 559.5 L557.5 559.1 L555.9 557.0 L555.0 555.9 L554.0 554.5 L552.5 552.5 L552.1 552.0 L550.3 549.5 L550.0 549.1 L548.4 547.0 L547.5 545.7 L546.7 544.5 L545.0 542.1 L544.9 542.0 L543.2 539.5 L542.5 538.5 L541.5 537.0 L540.0 534.8 L539.8 534.5 L538.1 532.0 L537.5 531.0 L536.5 529.5 L535.0 527.1 L534.9 527.0 L533.4 524.5 L532.5 523.0 L531.9 522.0 L530.5 519.5 L530.0 518.7 L529.0 517.0 L527.7 514.5 L527.5 514.2 L526.3 512.0 L525.1 509.5 L525.0 509.4 L523.9 507.0 L522.7 504.5 L522.5 504.0 L521.7 502.0 L520.8 499.5 L520.1 497.0 L520.0 496.6 L519.5 494.5 L519.0 492.0 L518.5 489.5 L518.2 487.0 L517.9 484.5 L517.7 482.0 L517.5 479.5 L517.5 477.1 L517.5 477.0 L517.5 476.9 L517.6 474.5 L517.7 472.0 L518.1 469.5 L518.5 467.0 L519.2 464.5 L520.0 462.2 L520.1 462.0 L521.2 459.5 L522.5 457.3 L522.7 457.0 L524.7 454.5 L525.0 454.2 L527.3 452.0 L527.5 451.8 L530.0 450.0 L530.7 449.5 L532.5 448.4 L535.0 447.0 L535.1 447.0 L537.5 445.8 L540.0 444.7 L540.5 444.5 L542.5 443.7 L545.0 442.6 L546.6 442.0 L547.5 441.6 L550.0 440.7 L552.5 439.7 L552.9 439.5 L555.0 438.7 L557.5 437.7 L559.1 437.0 L560.0 436.6 L562.5 435.6 L565.0 434.5 L565.0 434.5 L567.5 433.4 L570.0 432.3 L570.6 432.0 L572.5 431.1 L575.0 430.0 L576.0 429.5 L577.5 428.8 L580.0 427.6 L581.2 427.0 L582.5 426.4 L585.0 425.2 L586.5 424.5 L587.5 424.1 L590.0 422.9 L592.1 422.0 L592.5 421.8 L595.0 420.8 L597.5 419.8 L598.4 419.5 L600.0 418.9 L602.5 418.1 L605.0 417.3 L606.2 417.0 L607.5 416.6 L610.0 416.0 L612.5 415.4 L615.0 414.9 L617.5 414.5 L617.6 414.5 L620.0 414.1 L622.5 413.8 L625.0 413.6 L627.5 413.4 L630.0 413.2 L632.5 413.1 L635.0 413.1 L637.5 413.1 L640.0 413.1 L642.5 413.2 L645.0 413.2 L647.5 413.3 L650.0 413.3 L652.5 413.3 L655.0 413.3 L657.5 413.2 L660.0 412.9 L662.5 412.4 L664.0 412.0 L665.0 411.7 L667.5 410.6 L669.3 409.5 L670.0 409.1 L672.5 407.3 L673.0 407.0 L675.0 405.5 L676.3 404.5 L677.5 403.6 L679.5 402.0 L680.0 401.6 L682.5 399.6 L682.6 399.5 L685.0 397.6 L685.8 397.0 L687.5 395.7 L689.1 394.5 L690.0 393.8 L692.5 392.0 L692.5 392.0 L695.0 390.3 L696.4 389.5 L697.5 388.8 L700.0 387.6 L701.3 387.0 L702.5 386.5 L705.0 385.6 L707.5 384.8 L708.6 384.5 L710.0 384.1 L712.5 383.6 L715.0 383.1 L717.5 382.6 L720.0 382.2 L721.2 382.0 L722.5 381.8 L725.0 381.3 L727.5 380.8 L730.0 380.2 L732.5 379.6 L733.1 379.5 L735.0 379.0 L737.5 378.4 L740.0 377.8 L742.5 377.2 L743.6 377.0Z" fill="#fdbf72"/><path d="M704.9 402.0 L705.0 402.0 L707.5 401.7 L710.0 401.6 L712.5 401.6 L715.0 401.7 L717.5 401.8 L720.0 401.9 L722.5 401.9 L725.0 401.5 L727.5 400.9 L730.0 400.3 L732.5 399.9 L735.0 399.7 L737.5 399.6 L740.0 399.5 L742.5 399.5 L745.0 399.5 L747.5 399.5 L750.0 399.6 L752.5 399.6 L755.0 399.7 L757.5 399.8 L757.5 402.0 L757.5 404.5 L757.5 407.0 L757.5 409.5 L757.5 412.0 L757.5 414.5 L757.5 417.0 L757.5 419.5 L757.5 422.0 L757.5 424.5 L757.5 427.0 L757.5 429.5 L757.5 432.0 L757.5 434.5 L757.5 437.0 L757.5 439.5 L757.5 442.0 L757.5 444.5 L757.5 447.0 L757.5 449.5 L757.5 452.0 L757.5 454.5 L757.5 457.0 L757.5 459.5 L757.5 462.0 L757.5 464.5 L757.5 467.0 L757.5 469.5 L757.5 472.0 L757.5 474.5 L757.5 477.0 L757.5 479.5 L757.5 482.0 L757.5 484.5 L757.5 487.0 L757.5 489.5 L757.5 492.0 L757.5 494.5 L757.5 497.0 L757.5 499.5 L757.5 502.0 L757.5 504.5 L757.5 507.0 L757.5 509.5 L757.5 512.0 L757.5 514.5 L757.5 517.0 L757.5 519.5 L757.5 522.0 L757.5 524.5 L757.5 527.0 L757.5 529.5 L757.5 532.0 L757.5 534.5 L757.5 537.0 L757.5 539.5 L757.5 542.0 L757.5 544.5 L757.5 547.0 L757.5 549.5 L757.5 552.0 L757.5 554.5 L757.5 557.0 L757.5 559.5 L757.5 562.0 L757.5 564.5 L757.5 567.0 L757.5 569.5 L757.5 572.0 L757.5 574.5 L757.5 577.0 L757.5 579.5 L757.5 582.0 L757.5 584.5 L757.5 587.0 L757.5 589.5 L757.5 592.0 L757.5 594.5 L757.5 597.0 L757.5 599.5 L757.5 602.0 L757.5 604.5 L757.5 605.1 L755.0 605.7 L752.5 606.2 L750.0 606.7 L748.4 607.0 L747.5 607.2 L745.0 607.6 L742.5 608.1 L740.0 608.5 L737.5 608.9 L735.0 609.3 L733.3 609.5 L732.5 609.6 L730.0 610.0 L727.5 610.3 L725.0 610.6 L722.5 610.9 L720.0 611.1 L717.5 611.4 L715.0 611.6 L712.5 611.8 L710.2 612.0 L710.0 612.0 L707.5 612.2 L705.0 612.3 L702.5 612.5 L700.0 612.6 L697.5 612.7 L695.0 612.7 L692.5 612.8 L690.0 612.8 L687.5 612.8 L685.0 612.8 L682.5 612.7 L680.0 612.6 L677.5 612.5 L675.0 612.4 L672.5 612.2 L670.4 612.0 L670.0 612.0 L667.5 611.7 L665.0 611.5 L662.5 611.1 L660.0 610.8 L657.5 610.4 L655.0 610.0 L652.5 609.5 L652.5 609.5 L650.0 608.9 L647.5 608.3 L645.0 607.6 L642.9 607.0 L642.5 606.9 L640.0 606.1 L637.5 605.2 L635.7 604.5 L635.0 604.3 L632.5 603.2 L630.0 602.2 L629.7 602.0 L627.5 601.0 L625.0 599.8 L624.5 599.5 L622.5 598.5 L620.0 597.1 L619.9 597.0 L617.5 595.6 L615.7 594.5 L615.0 594.1 L612.5 592.5 L611.8 592.0 L610.0 590.7 L608.3 589.5 L607.5 588.9 L605.0 587.0 L604.9 587.0 L602.5 585.1 L601.8 584.5 L600.0 583.0 L598.9 582.0 L597.5 580.8 L596.1 579.5 L595.0 578.5 L593.5 577.0 L592.5 576.0 L590.9 574.5 L590.0 573.5 L588.5 572.0 L587.5 570.9 L586.2 569.5 L585.0 568.1 L584.0 567.0 L582.5 565.2 L581.9 564.5 L580.0 562.2 L579.8 562.0 L577.9 559.5 L577.5 559.0 L575.9 557.0 L575.0 555.8 L574.1 554.5 L572.5 552.4 L572.2 552.0 L570.4 549.5 L570.0 548.9 L568.7 547.0 L567.5 545.2 L567.0 544.5 L565.3 542.0 L565.0 541.6 L563.6 539.5 L562.5 537.8 L562.0 537.0 L560.4 534.5 L560.0 533.9 L558.8 532.0 L557.5 529.9 L557.2 529.5 L555.7 527.0 L555.0 525.9 L554.2 524.5 L552.7 522.0 L552.5 521.6 L551.3 519.5 L550.0 517.0 L550.0 517.0 L548.7 514.5 L547.6 512.0 L547.5 511.8 L546.5 509.5 L545.5 507.0 L545.0 505.4 L544.7 504.5 L543.9 502.0 L543.2 499.5 L542.5 497.0 L542.5 496.9 L542.0 494.5 L541.5 492.0 L541.2 489.5 L541.0 487.0 L541.0 484.5 L541.2 482.0 L541.5 479.5 L542.0 477.0 L542.5 475.1 L542.7 474.5 L543.6 472.0 L544.7 469.5 L545.0 468.9 L546.0 467.0 L547.5 464.8 L547.7 464.5 L549.7 462.0 L550.0 461.6 L551.9 459.5 L552.5 458.9 L554.5 457.0 L555.0 456.6 L557.4 454.5 L557.5 454.4 L560.0 452.5 L560.7 452.0 L562.5 450.7 L564.2 449.5 L565.0 449.0 L567.5 447.3 L568.0 447.0 L570.0 445.7 L572.0 444.5 L572.5 444.2 L575.0 442.7 L576.2 442.0 L577.5 441.2 L580.0 439.8 L580.5 439.5 L582.5 438.4 L585.0 437.0 L585.0 437.0 L587.5 435.7 L589.8 434.5 L590.0 434.4 L592.5 433.2 L595.0 432.0 L595.0 432.0 L597.5 430.9 L600.0 429.9 L601.1 429.5 L602.5 429.0 L605.0 428.2 L607.5 427.5 L609.2 427.0 L610.0 426.8 L612.5 426.2 L615.0 425.7 L617.5 425.2 L620.0 424.7 L621.4 424.5 L622.5 424.3 L625.0 424.0 L627.5 423.7 L630.0 423.4 L632.5 423.2 L635.0 423.1 L637.5 423.0 L640.0 423.0 L642.5 423.1 L645.0 423.2 L647.5 423.2 L650.0 423.3 L652.5 423.3 L655.0 423.2 L657.5 423.1 L660.0 422.8 L662.5 422.5 L664.9 422.0 L665.0 422.0 L667.5 421.3 L670.0 420.3 L671.4 419.5 L672.5 418.8 L675.0 417.2 L675.4 417.0 L677.5 415.7 L679.5 414.5 L680.0 414.2 L682.5 412.7 L683.6 412.0 L685.0 411.1 L687.5 409.6 L687.7 409.5 L690.0 408.1 L691.8 407.0 L692.5 406.6 L695.0 405.2 L696.3 404.5 L697.5 403.9 L700.0 403.0 L702.5 402.4 L704.9 402.0Z" fill="#f3a649"/><path d="M706.5 419.5 L707.5 419.4 L710.0 419.4 L712.5 419.3 L715.0 419.3 L717.5 419.3 L720.0 419.4 L721.5 419.5 L722.5 419.6 L725.0 420.1 L727.5 420.8 L730.0 421.5 L732.5 422.0 L732.7 422.0 L735.0 422.3 L737.5 422.5 L740.0 422.7 L742.5 423.0 L745.0 423.3 L747.5 423.6 L750.0 424.0 L752.5 424.4 L752.8 424.5 L755.0 424.9 L757.5 425.5 L757.5 427.0 L757.5 429.5 L757.5 432.0 L757.5 434.5 L757.5 437.0 L757.5 439.5 L757.5 442.0 L757.5 444.5 L757.5 447.0 L757.5 449.5 L757.5 452.0 L757.5 454.5 L757.5 457.0 L757.5 459.5 L757.5 462.0 L757.5 464.5 L757.5 467.0 L757.5 469.5 L757.5 472.0 L757.5 474.5 L757.5 477.0 L757.5 479.5 L757.5 482.0 L757.5 484.5 L757.5 487.0 L757.5 489.5 L757.5 492.0 L757.5 494.5 L757.5 497.0 L757.5 499.5 L757.5 502.0 L757.5 504.5 L757.5 507.0 L757.5 509.5 L757.5 512.0 L757.5 514.5 L757.5 517.0 L757.5 519.5 L757.5 522.0 L757.5 524.5 L757.5 527.0 L757.5 529.5 L757.5 532.0 L757.5 534.5 L757.5 537.0 L757.5 539.5 L757.5 542.0 L757.5 544.5 L757.5 547.0 L757.5 549.5 L757.5 552.0 L757.5 554.5 L757.5 557.0 L757.5 559.5 L757.5 562.0 L757.5 564.5 L757.5 567.0 L757.5 569.5 L757.5 572.0 L757.5 574.5 L757.5 577.0 L757.5 579.5 L757.5 580.9 L755.0 582.0 L755.0 582.0 L752.5 583.1 L750.0 584.1 L749.0 584.5 L747.5 585.1 L745.0 586.0 L742.5 586.9 L742.2 587.0 L740.0 587.8 L737.5 588.6 L735.0 589.4 L734.7 589.5 L732.5 590.2 L730.0 590.9 L727.5 591.6 L726.0 592.0 L725.0 592.3 L722.5 592.9 L720.0 593.5 L717.5 594.1 L715.6 594.5 L715.0 594.6 L712.5 595.1 L710.0 595.6 L707.5 596.1 L705.0 596.5 L702.5 596.9 L701.7 597.0 L700.0 597.2 L697.5 597.6 L695.0 597.9 L692.5 598.1 L690.0 598.3 L687.5 598.5 L685.0 598.7 L682.5 598.8 L680.0 598.9 L677.5 598.9 L675.0 598.9 L672.5 598.9 L670.0 598.8 L667.5 598.7 L665.0 598.5 L662.5 598.3 L660.0 598.0 L657.5 597.6 L655.0 597.2 L654.0 597.0 L652.5 596.7 L650.0 596.0 L647.5 595.3 L645.0 594.5 L645.0 594.5 L642.5 593.6 L640.0 592.6 L638.5 592.0 L637.5 591.6 L635.0 590.5 L633.0 589.5 L632.5 589.2 L630.0 587.9 L628.3 587.0 L627.5 586.5 L625.0 585.1 L624.1 584.5 L622.5 583.5 L620.3 582.0 L620.0 581.8 L617.5 580.0 L616.8 579.5 L615.0 578.1 L613.6 577.0 L612.5 576.1 L610.6 574.5 L610.0 573.9 L607.9 572.0 L607.5 571.7 L605.3 569.5 L605.0 569.2 L602.8 567.0 L602.5 566.7 L600.5 564.5 L600.0 563.9 L598.3 562.0 L597.5 561.1 L596.2 559.5 L595.0 558.0 L594.2 557.0 L592.5 554.7 L592.3 554.5 L590.5 552.0 L590.0 551.3 L588.7 549.5 L587.5 547.7 L587.1 547.0 L585.4 544.5 L585.0 543.8 L583.9 542.0 L582.5 539.8 L582.3 539.5 L580.8 537.0 L580.0 535.5 L579.4 534.5 L578.0 532.0 L577.5 531.2 L576.6 529.5 L575.2 527.0 L575.0 526.7 L573.8 524.5 L572.5 522.1 L572.4 522.0 L571.1 519.5 L570.0 517.5 L569.7 517.0 L568.4 514.5 L567.5 512.9 L567.0 512.0 L565.7 509.5 L565.0 508.0 L564.5 507.0 L563.4 504.5 L562.5 502.4 L562.3 502.0 L561.6 499.5 L561.0 497.0 L560.6 494.5 L560.3 492.0 L560.2 489.5 L560.2 487.0 L560.4 484.5 L560.7 482.0 L561.3 479.5 L562.0 477.0 L562.5 475.6 L562.9 474.5 L564.1 472.0 L565.0 470.3 L565.4 469.5 L567.1 467.0 L567.5 466.4 L569.0 464.5 L570.0 463.3 L571.1 462.0 L572.5 460.6 L573.6 459.5 L575.0 458.2 L576.3 457.0 L577.5 456.0 L579.4 454.5 L580.0 454.1 L582.5 452.2 L582.8 452.0 L585.0 450.5 L586.5 449.5 L587.5 448.9 L590.0 447.3 L590.5 447.0 L592.5 445.8 L594.8 444.5 L595.0 444.4 L597.5 443.0 L599.5 442.0 L600.0 441.8 L602.5 440.6 L605.0 439.7 L605.6 439.5 L607.5 438.9 L610.0 438.2 L612.5 437.6 L615.0 437.1 L615.4 437.0 L617.5 436.6 L620.0 436.1 L622.5 435.7 L625.0 435.3 L627.5 434.9 L629.7 434.5 L630.0 434.5 L632.5 434.1 L635.0 433.8 L637.5 433.5 L640.0 433.4 L642.5 433.4 L645.0 433.5 L647.5 433.4 L650.0 433.3 L652.5 433.1 L655.0 432.8 L657.5 432.4 L659.3 432.0 L660.0 431.8 L662.5 431.1 L665.0 430.2 L666.5 429.5 L667.5 429.0 L670.0 427.7 L671.1 427.0 L672.5 426.3 L675.0 425.3 L677.5 424.5 L677.5 424.5 L680.0 423.9 L682.5 423.3 L685.0 422.7 L687.5 422.1 L688.0 422.0 L690.0 421.6 L692.5 421.1 L695.0 420.7 L697.5 420.3 L700.0 420.0 L702.5 419.8 L705.0 419.6 L706.5 419.5Z" fill="#e3881d"/><path d="M678.6 437.0 L680.0 436.6 L682.5 436.1 L685.0 435.9 L687.5 435.8 L690.0 435.8 L692.5 435.9 L695.0 436.2 L697.5 436.5 L700.0 436.9 L700.7 437.0 L702.5 437.3 L705.0 437.7 L707.5 438.1 L710.0 438.4 L712.5 438.4 L715.0 438.1 L717.5 437.8 L720.0 437.5 L722.5 437.4 L725.0 437.7 L727.5 438.1 L730.0 438.7 L732.5 439.4 L732.7 439.5 L735.0 440.3 L737.5 441.2 L739.6 442.0 L740.0 442.2 L742.5 443.3 L745.0 444.4 L745.1 444.5 L747.5 445.7 L749.7 447.0 L750.0 447.2 L752.5 448.7 L753.7 449.5 L755.0 450.4 L757.2 452.0 L757.5 452.2 L757.5 454.5 L757.5 457.0 L757.5 459.5 L757.5 462.0 L757.5 464.5 L757.5 467.0 L757.5 469.5 L757.5 472.0 L757.5 474.5 L757.5 477.0 L757.5 479.5 L757.5 482.0 L757.5 484.5 L757.5 487.0 L757.5 489.5 L757.5 492.0 L757.5 494.5 L757.5 497.0 L757.5 499.5 L757.5 502.0 L757.5 504.5 L757.5 507.0 L757.5 509.5 L757.5 512.0 L757.5 514.5 L757.5 517.0 L757.5 519.5 L757.5 522.0 L757.5 524.5 L757.5 527.0 L757.5 529.5 L757.5 532.0 L757.5 534.5 L757.5 537.0 L757.5 539.5 L757.5 542.0 L757.5 544.5 L757.5 547.0 L757.5 549.5 L757.5 550.2 L755.5 552.0 L755.0 552.4 L752.6 554.5 L752.5 554.5 L750.0 556.5 L749.4 557.0 L747.5 558.4 L746.0 559.5 L745.0 560.2 L742.5 561.9 L742.3 562.0 L740.0 563.5 L738.4 564.5 L737.5 565.0 L735.0 566.5 L734.2 567.0 L732.5 567.9 L730.0 569.2 L729.5 569.5 L727.5 570.5 L725.0 571.7 L724.4 572.0 L722.5 572.9 L720.0 574.0 L718.7 574.5 L717.5 575.0 L715.0 576.0 L712.5 576.9 L712.3 577.0 L710.0 577.8 L707.5 578.6 L705.0 579.4 L704.8 579.5 L702.5 580.2 L700.0 580.8 L697.5 581.5 L695.3 582.0 L695.0 582.1 L692.5 582.6 L690.0 583.1 L687.5 583.5 L685.0 583.9 L682.5 584.2 L680.0 584.5 L679.6 584.5 L677.5 584.7 L675.0 584.8 L672.5 584.9 L670.0 584.9 L667.5 584.9 L665.0 584.8 L662.5 584.6 L661.9 584.5 L660.0 584.3 L657.5 583.9 L655.0 583.4 L652.5 582.9 L650.0 582.2 L649.5 582.0 L647.5 581.4 L645.0 580.5 L642.5 579.5 L642.5 579.5 L640.0 578.4 L637.5 577.2 L637.2 577.0 L635.0 575.9 L632.6 574.5 L632.5 574.4 L630.0 572.9 L628.7 572.0 L627.5 571.2 L625.2 569.5 L625.0 569.3 L622.5 567.3 L622.1 567.0 L620.0 565.2 L619.2 564.5 L617.5 562.9 L616.6 562.0 L615.0 560.3 L614.2 559.5 L612.5 557.6 L611.9 557.0 L610.0 554.7 L609.8 554.5 L607.9 552.0 L607.5 551.5 L606.0 549.5 L605.0 548.1 L604.2 547.0 L602.6 544.5 L602.5 544.4 L601.0 542.0 L600.0 540.4 L599.5 539.5 L598.0 537.0 L597.5 536.0 L596.7 534.5 L595.3 532.0 L595.0 531.3 L594.1 529.5 L592.9 527.0 L592.5 526.2 L591.7 524.5 L590.5 522.0 L590.0 520.8 L589.4 519.5 L588.3 517.0 L587.5 515.2 L587.2 514.5 L586.1 512.0 L585.0 509.5 L585.0 509.5 L583.9 507.0 L582.7 504.5 L582.5 503.9 L581.6 502.0 L580.5 499.5 L580.0 498.3 L579.4 497.0 L578.5 494.5 L577.8 492.0 L577.5 490.5 L577.3 489.5 L577.1 487.0 L577.1 484.5 L577.4 482.0 L577.5 481.4 L577.9 479.5 L578.7 477.0 L579.8 474.5 L580.0 474.1 L581.2 472.0 L582.5 470.1 L582.9 469.5 L585.0 467.0 L585.0 467.0 L587.5 464.6 L587.6 464.5 L590.0 462.5 L590.7 462.0 L592.5 460.7 L594.3 459.5 L595.0 459.1 L597.5 457.6 L598.7 457.0 L600.0 456.3 L602.5 455.1 L603.8 454.5 L605.0 453.9 L607.5 452.9 L609.8 452.0 L610.0 451.9 L612.5 451.1 L615.0 450.5 L617.5 449.9 L619.7 449.5 L620.0 449.4 L622.5 449.1 L625.0 448.8 L627.5 448.5 L630.0 448.4 L632.5 448.2 L635.0 448.1 L637.5 447.9 L640.0 447.6 L642.5 447.1 L643.2 447.0 L645.0 446.7 L647.5 446.2 L650.0 445.7 L652.5 445.2 L655.0 444.7 L655.9 444.5 L657.5 444.1 L660.0 443.5 L662.5 442.8 L665.0 442.0 L665.1 442.0 L667.5 441.2 L670.0 440.3 L672.1 439.5 L672.5 439.3 L675.0 438.3 L677.5 437.3 L678.6 437.0Z" fill="#ce720f"/><path d="M687.1 452.0 L687.5 452.0 L690.0 451.8 L692.5 451.7 L695.0 451.8 L697.5 451.9 L699.9 452.0 L700.0 452.0 L702.5 452.2 L705.0 452.4 L707.5 452.7 L710.0 452.9 L712.5 453.2 L715.0 453.5 L717.5 453.9 L720.0 454.4 L720.5 454.5 L722.5 455.1 L725.0 456.1 L726.8 457.0 L727.5 457.4 L730.0 459.0 L730.6 459.5 L732.5 461.1 L733.5 462.0 L735.0 463.6 L735.8 464.5 L737.5 466.7 L737.7 467.0 L739.4 469.5 L740.0 470.6 L740.8 472.0 L742.2 474.5 L742.5 475.1 L743.4 477.0 L744.5 479.5 L745.0 481.0 L745.4 482.0 L746.1 484.5 L746.7 487.0 L747.1 489.5 L747.4 492.0 L747.5 492.9 L747.6 494.5 L747.7 497.0 L747.6 499.5 L747.5 500.2 L747.3 502.0 L747.0 504.5 L746.5 507.0 L746.0 509.5 L745.3 512.0 L745.0 512.8 L744.4 514.5 L743.5 517.0 L742.5 519.4 L742.4 519.5 L741.3 522.0 L740.0 524.4 L740.0 524.5 L738.5 527.0 L737.5 528.7 L737.0 529.5 L735.3 532.0 L735.0 532.4 L733.5 534.5 L732.5 535.7 L731.5 537.0 L730.0 538.7 L729.4 539.5 L727.5 541.5 L727.0 542.0 L725.0 544.0 L724.5 544.5 L722.5 546.4 L721.8 547.0 L720.0 548.6 L718.9 549.5 L717.5 550.6 L715.7 552.0 L715.0 552.5 L712.5 554.3 L712.1 554.5 L710.0 555.9 L708.2 557.0 L707.5 557.4 L705.0 558.9 L703.9 559.5 L702.5 560.2 L700.0 561.5 L698.9 562.0 L697.5 562.6 L695.0 563.7 L693.0 564.5 L692.5 564.7 L690.0 565.6 L687.5 566.4 L685.5 567.0 L685.0 567.1 L682.5 567.8 L680.0 568.3 L677.5 568.8 L675.0 569.2 L672.5 569.5 L672.5 569.5 L670.0 569.7 L667.5 569.8 L665.0 569.8 L662.5 569.6 L661.4 569.5 L660.0 569.4 L657.5 569.0 L655.0 568.5 L652.5 567.9 L650.0 567.2 L649.3 567.0 L647.5 566.4 L645.0 565.5 L642.8 564.5 L642.5 564.4 L640.0 563.0 L638.2 562.0 L637.5 561.5 L635.0 559.8 L634.5 559.5 L632.5 557.9 L631.4 557.0 L630.0 555.8 L628.6 554.5 L627.5 553.4 L626.2 552.0 L625.0 550.7 L623.9 549.5 L622.5 547.8 L621.8 547.0 L620.0 544.7 L619.9 544.5 L618.1 542.0 L617.5 541.2 L616.4 539.5 L615.0 537.3 L614.8 537.0 L613.3 534.5 L612.5 533.1 L611.9 532.0 L610.6 529.5 L610.0 528.4 L609.3 527.0 L608.0 524.5 L607.5 523.4 L606.8 522.0 L605.7 519.5 L605.0 518.1 L604.5 517.0 L603.3 514.5 L602.5 512.7 L602.2 512.0 L600.9 509.5 L600.0 507.6 L599.7 507.0 L598.4 504.5 L597.5 502.8 L597.1 502.0 L595.6 499.5 L595.0 498.7 L593.9 497.0 L592.6 494.5 L592.5 494.4 L591.5 492.0 L590.9 489.5 L590.6 487.0 L590.7 484.5 L591.2 482.0 L592.2 479.5 L592.5 478.9 L593.7 477.0 L595.0 475.4 L595.8 474.5 L597.5 472.9 L598.7 472.0 L600.0 471.1 L602.5 469.7 L602.8 469.5 L605.0 468.3 L607.5 467.2 L607.9 467.0 L610.0 466.2 L612.5 465.3 L615.0 464.6 L615.3 464.5 L617.5 464.0 L620.0 463.5 L622.5 463.1 L625.0 462.9 L627.5 462.6 L630.0 462.4 L632.5 462.3 L635.0 462.1 L635.8 462.0 L637.5 461.8 L640.0 461.6 L642.5 461.2 L645.0 460.8 L647.5 460.4 L650.0 459.9 L651.9 459.5 L652.5 459.4 L655.0 458.8 L657.5 458.3 L660.0 457.7 L662.5 457.1 L663.0 457.0 L665.0 456.5 L667.5 456.0 L670.0 455.4 L672.5 454.9 L674.1 454.5 L675.0 454.3 L677.5 453.7 L680.0 453.1 L682.5 452.6 L685.0 452.2 L687.1 452.0Z" fill="#b65a07"/><path d="M690.0 469.5 L690.0 469.5 L692.5 469.4 L695.0 469.4 L697.5 469.4 L699.7 469.5 L700.0 469.5 L702.5 469.7 L705.0 470.1 L707.5 470.6 L710.0 471.4 L711.0 472.0 L712.5 473.2 L713.7 474.5 L715.0 476.7 L715.2 477.0 L716.0 479.5 L716.5 482.0 L716.7 484.5 L716.6 487.0 L716.3 489.5 L715.8 492.0 L715.1 494.5 L715.0 494.9 L714.4 497.0 L713.6 499.5 L713.0 502.0 L712.5 503.9 L712.4 504.5 L711.8 507.0 L711.1 509.5 L710.4 512.0 L710.0 513.1 L709.5 514.5 L708.6 517.0 L707.5 519.5 L707.5 519.5 L706.3 522.0 L705.0 524.3 L704.9 524.5 L703.4 527.0 L702.5 528.2 L701.6 529.5 L700.0 531.6 L699.7 532.0 L697.5 534.5 L697.5 534.5 L695.0 537.0 L695.0 537.0 L692.5 539.3 L692.3 539.5 L690.0 541.3 L689.1 542.0 L687.5 543.1 L685.4 544.5 L685.0 544.7 L682.5 546.2 L680.9 547.0 L680.0 547.4 L677.5 548.6 L675.3 549.5 L675.0 549.6 L672.5 550.4 L670.0 551.2 L667.5 551.8 L666.3 552.0 L665.0 552.2 L662.5 552.5 L660.0 552.6 L657.5 552.6 L655.0 552.4 L653.4 552.0 L652.5 551.8 L650.0 550.6 L648.0 549.5 L647.5 549.2 L645.0 547.5 L644.4 547.0 L642.5 545.4 L641.5 544.5 L640.0 543.1 L638.9 542.0 L637.5 540.6 L636.5 539.5 L635.0 537.8 L634.4 537.0 L632.5 534.6 L632.4 534.5 L630.6 532.0 L630.0 531.1 L628.9 529.5 L627.5 527.2 L627.4 527.0 L625.9 524.5 L625.0 522.8 L624.6 522.0 L623.3 519.5 L622.5 517.8 L622.1 517.0 L621.0 514.5 L620.0 512.4 L619.8 512.0 L618.7 509.5 L617.5 507.1 L617.5 507.0 L616.2 504.5 L615.0 502.5 L614.6 502.0 L612.6 499.5 L612.5 499.4 L610.0 497.1 L609.9 497.0 L607.5 494.9 L607.1 494.5 L605.0 492.4 L604.7 492.0 L603.6 489.5 L604.0 487.0 L605.0 485.4 L605.8 484.5 L607.5 483.2 L609.8 482.0 L610.0 481.9 L612.5 481.1 L615.0 480.4 L617.5 479.9 L620.0 479.6 L620.5 479.5 L622.5 479.3 L625.0 479.1 L627.5 478.9 L630.0 478.7 L632.5 478.5 L635.0 478.3 L637.5 478.1 L640.0 477.8 L642.5 477.4 L645.0 477.0 L645.0 477.0 L647.5 476.6 L650.0 476.2 L652.5 475.7 L655.0 475.2 L657.5 474.6 L658.1 474.5 L660.0 474.1 L662.5 473.5 L665.0 472.9 L667.5 472.3 L668.8 472.0 L670.0 471.7 L672.5 471.2 L675.0 470.8 L677.5 470.5 L680.0 470.2 L682.5 470.0 L685.0 469.8 L687.5 469.6 L690.0 469.5Z" fill="#9c4b07"/><path d="M648.2 499.5 L650.0 498.7 L652.5 498.0 L655.0 497.7 L657.5 497.7 L660.0 497.5 L662.5 497.4 L665.0 497.6 L667.5 498.2 L670.0 499.4 L670.2 499.5 L672.5 501.7 L672.7 502.0 L673.9 504.5 L674.3 507.0 L674.2 509.5 L673.8 512.0 L672.9 514.5 L672.5 515.2 L671.3 517.0 L670.0 518.4 L668.5 519.5 L667.5 520.1 L665.0 521.0 L662.5 521.4 L660.0 521.4 L657.5 521.2 L655.0 521.2 L652.5 520.8 L650.0 520.0 L649.2 519.5 L647.5 518.3 L646.1 517.0 L645.0 515.5 L644.4 514.5 L643.4 512.0 L642.9 509.5 L642.9 507.0 L643.5 504.5 L645.0 502.0 L645.0 502.0 L647.5 499.9 L648.2 499.5Z" fill="#7f3b08"/></g>
<use href="#grid"/><use href="#coast"/>
</g>
<circle cx="569.4" cy="410.9" r="8.4" fill="#008000" stroke="#000" stroke-width="1.9"/>
<circle cx="384.0" cy="426.5" r="365.3" fill="none" stroke="#000" stroke-width="2.4"/>
<rect x="803.25" y="171.50" width="25.10" height="25.84" fill="#7f3b08"/>
<rect x="803.25" y="197.03" width="25.10" height="25.84" fill="#9c4b07"/>
<rect x="803.25" y="222.57" width="25.10" height="25.84" fill="#b65a07"/>
<rect x="803.25" y="248.11" width="25.10" height="25.84" fill="#ce720f"/>
<rect x="803.25" y="273.64" width="25.10" height="25.84" fill="#e3881d"/>
<rect x="803.25" y="299.18" width="25.10" height="25.84" fill="#f3a649"/>
<rect x="803.25" y="324.71" width="25.10" height="25.84" fill="#fdbf72"/>
<rect x="803.25" y="350.25" width="25.10" height="25.84" fill="#fed39c"/>
<rect x="803.25" y="375.78" width="25.10" height="25.84" fill="#fce5c5"/>
<rect x="803.25" y="401.32" width="25.10" height="25.84" fill="#f9f1e6"/>
<rect x="803.25" y="426.85" width="25.10" height="25.84" fill="#eeeef3"/>
<rect x="803.25" y="452.39" width="25.10" height="25.84" fill="#dee0ed"/>
<rect x="803.25" y="477.92" width="25.10" height="25.84" fill="#cbc9e2"/>
<rect x="803.25" y="503.46" width="25.10" height="25.84" fill="#b7b1d5"/>
<rect x="803.25" y="528.99" width="25.10" height="25.84" fill="#9f96c4"/>
<rect x="803.25" y="554.53" width="25.10" height="25.84" fill="#8477af"/>
<rect x="803.25" y="580.06" width="25.10" height="25.84" fill="#6d529c"/>
<rect x="803.25" y="605.60" width="25.10" height="25.84" fill="#552889"/>
<rect x="803.25" y="631.13" width="25.10" height="25.84" fill="#41146a"/>
<rect x="803.25" y="656.67" width="25.10" height="25.84" fill="#2d004b"/>
<rect x="803.25" y="171.5" width="25.10" height="510.70" fill="none" stroke="#000" stroke-width="2.5"/>
<path d="M828.35 171.50 H837.35" stroke="#000" stroke-width="2.2"/>
<text x="845.5" y="184.30" font-family="Liberation Sans, sans-serif" font-size="36">200</text>
<path d="M828.35 299.18 H837.35" stroke="#000" stroke-width="2.2"/>
<text x="845.5" y="311.98" font-family="Liberation Sans, sans-serif" font-size="36">100</text>
<path d="M828.35 426.85 H837.35" stroke="#000" stroke-width="2.2"/>
<text x="845.5" y="439.65" font-family="Liberation Sans, sans-serif" font-size="36">0</text>
<path d="M828.35 554.53 H837.35" stroke="#000" stroke-width="2.2"/>
<text x="845.5" y="567.33" font-family="Liberation Sans, sans-serif" font-size="36">−100</text>
<path d="M828.35 682.20 H837.35" stroke="#000" stroke-width="2.2"/>
<text x="845.5" y="695.00" font-family="Liberation Sans, sans-serif" font-size="36">−200</text>
<text transform="translate(959.5,427.0) rotate(-90)" x="0" y="0" font-family="Liberation Sans, sans-serif" font-size="35" text-anchor="middle">Mean 500 hPa GPH anomaly (m)</text>
</g>
<g transform="translate(1082.5,0.0)">
<text x="384.5" y="47" font-family="Liberation Sans, sans-serif" font-size="42.5" text-anchor="middle">MAM</text>
<g clip-path="url(#cc)">
<rect x="0" y="0" width="800" height="820" fill="#eeeef3"/><path d="M85.6 401.6 C86.7 377.8 89.3 359.0 92.3 343.8 C95.3 328.6 97.9 319.4 103.4 310.5 C109.0 301.6 114.5 301.2 125.6 290.5 C136.7 279.8 157.1 253.9 170.1 246.1 C183.1 238.3 193.1 242.3 203.4 243.8 C213.8 245.3 226.6 250.9 232.2 255.0 C237.8 259.1 237.4 260.9 236.7 268.3 C236.0 275.7 232.2 288.7 227.8 299.4 C223.4 310.1 213.3 319.7 210.0 332.7 C206.7 345.7 208.9 361.9 207.8 377.2 C206.7 392.5 204.4 413.6 203.3 424.4 C202.2 435.2 204.1 435.5 201.1 442.2 C198.1 448.9 188.2 457.0 185.6 464.4 C183.0 471.8 188.2 480.8 185.6 486.7 C183.0 492.6 176.3 495.6 170.0 500.0 C163.7 504.4 155.2 510.7 147.8 513.3 C140.4 515.9 134.5 516.2 125.6 515.5 C116.7 514.8 101.2 513.7 94.5 508.9 C87.8 504.1 87.1 504.6 85.6 486.7 C84.1 468.8 84.5 425.4 85.6 401.6Z" fill="#f9f1e6"/><path d="M150.0 40.0 C44.5 58.0 148.5 129.5 156.7 148.3 C164.8 167.1 187.4 150.2 198.9 152.8 C210.4 155.4 217.4 158.0 225.6 163.9 C233.8 169.8 236.0 181.3 247.8 188.3 C259.7 195.3 287.8 198.7 296.7 206.1 C305.6 213.5 300.7 224.5 301.1 232.7 C301.5 240.8 300.8 247.6 298.9 255.0 C297.0 262.4 293.0 269.8 290.0 277.2 C287.0 284.6 282.6 288.3 281.1 299.4 C279.6 310.5 279.2 330.8 281.1 343.8 C283.0 356.8 290.0 367.6 292.2 377.2 C294.4 386.8 295.6 392.8 294.4 401.6 C293.2 410.4 288.3 419.5 285.0 430.0 C281.7 440.5 276.9 453.8 274.4 464.4 C271.9 474.9 268.9 485.2 270.0 493.3 C271.1 501.4 275.6 507.7 281.1 513.3 C286.7 518.8 294.0 522.9 303.3 526.6 C312.6 530.3 325.6 533.6 336.7 535.5 C347.8 537.4 361.5 540.4 370.0 537.8 C378.5 535.2 384.1 527.4 387.8 520.0 C391.5 512.6 390.2 503.3 392.2 493.3 C394.1 483.3 397.4 472.2 399.5 460.0 C401.6 447.8 403.2 433.3 405.0 420.0 C406.8 406.7 406.9 389.8 410.0 380.0 C413.1 370.2 414.2 366.1 423.9 361.5 C433.6 356.9 453.5 352.6 468.3 352.6 C483.1 352.6 497.9 357.8 512.7 361.5 C527.5 365.2 542.4 371.1 557.2 374.8 C572.0 378.5 586.8 381.9 601.6 383.7 C616.4 385.5 622.3 383.7 646.0 385.9 C669.7 388.1 719.7 395.1 743.7 397.0 C767.7 398.9 782.3 456.5 790.0 397.0 C797.7 337.5 896.7 99.5 790.0 40.0 C683.3 -19.5 255.6 21.9 150.0 40.0Z" fill="#dee0ed"/><path d="M461.7 228.2 C461.0 221.9 468.0 206.0 472.8 197.1 C477.6 188.2 484.9 179.3 490.5 174.9 C496.1 170.5 500.9 169.8 506.1 170.5 C511.3 171.2 517.5 174.6 521.6 179.4 C525.7 184.2 530.1 192.7 530.5 199.3 C530.9 206.0 528.2 213.7 523.8 219.3 C519.4 224.9 511.7 230.1 503.9 232.7 C496.1 235.3 484.2 235.7 477.2 234.9 C470.2 234.2 462.4 234.5 461.7 228.2Z" fill="#eeeef3"/><path d="M461.7 290.4 C462.4 285.6 465.8 281.9 472.8 279.3 C479.8 276.7 491.3 277.9 503.9 274.9 C516.5 271.9 535.7 267.4 548.3 261.5 C560.9 255.6 570.5 247.1 579.4 239.3 C588.3 231.5 594.2 222.3 601.6 214.9 C609.0 207.5 616.4 200.1 623.8 194.9 C631.2 189.7 639.0 183.4 646.0 183.8 C653.0 184.2 647.0 177.7 666.0 197.1 C685.0 216.5 744.3 267.9 760.0 300.0 C775.7 332.1 762.7 375.3 760.0 390.0 C757.3 404.7 755.3 390.6 743.7 388.1 C732.1 385.6 706.7 377.0 690.4 374.8 C674.1 372.6 660.8 376.3 646.0 374.8 C631.2 373.3 614.6 367.8 601.6 365.9 C588.6 364.0 579.4 365.9 568.3 363.7 C557.2 361.5 544.3 357.4 535.0 352.6 C525.7 347.8 520.1 340.0 512.7 334.8 C505.3 329.6 497.9 325.9 490.5 321.5 C483.1 317.1 473.1 313.4 468.3 308.2 C463.5 303.0 460.9 295.2 461.7 290.4Z" fill="#cbc9e2"/><path d="M534.9 306.0 C537.9 300.1 545.3 290.4 552.7 286.0 C560.1 281.6 570.1 282.3 579.4 279.3 C588.6 276.3 599.0 273.4 608.2 268.2 C617.5 263.0 625.6 254.5 634.9 248.2 C644.2 241.9 654.5 234.5 663.8 230.4 C673.0 226.3 672.7 220.5 690.4 223.8 C708.1 227.1 756.7 229.0 770.0 250.0 C783.3 271.0 775.9 334.4 770.0 350.0 C764.1 365.6 751.8 342.2 734.8 343.7 C717.8 345.2 688.6 356.6 668.2 359.2 C647.9 361.8 629.4 359.6 612.7 359.2 C596.1 358.8 579.0 359.6 568.3 357.0 C557.6 354.4 553.8 349.6 548.3 343.7 C542.8 337.8 537.2 327.8 535.0 321.5 C532.8 315.2 531.9 311.9 534.9 306.0Z" fill="#b7b1d5"/><path d="M592.7 321.5 C594.2 318.9 595.3 314.8 601.6 312.6 C607.9 310.4 623.1 311.9 630.5 308.2 C637.9 304.5 640.5 295.9 646.0 290.4 C651.5 284.8 655.6 279.7 663.8 274.9 C671.9 270.1 687.5 264.1 694.9 261.5 C702.3 258.9 695.7 256.2 708.2 259.3 C720.7 262.4 759.7 268.2 770.0 280.0 C780.3 291.8 776.6 323.4 770.0 330.0 C763.4 336.6 743.7 321.8 730.4 319.3 C717.1 316.8 704.5 315.2 690.4 314.8 C676.3 314.4 657.1 314.4 646.0 317.0 C634.9 319.6 631.2 327.4 623.8 330.4 C616.4 333.4 606.8 335.2 601.6 334.8 C596.4 334.4 594.2 330.4 592.7 328.2 C591.2 326.0 591.2 324.1 592.7 321.5Z" fill="#9f96c4"/><path d="M399.5 566.6 C406.6 563.6 405.0 562.1 412.8 562.1 C420.6 562.1 435.0 562.2 446.1 566.6 C457.2 571.0 468.3 582.5 479.4 588.8 C490.5 595.1 503.4 597.3 512.7 604.3 C522.0 611.3 525.7 621.8 535.0 631.0 C544.3 640.2 557.2 651.3 568.3 659.8 C579.4 668.3 592.4 676.1 601.6 682.0 C610.9 687.9 616.4 690.9 623.8 695.4 C631.2 699.9 636.6 704.6 646.0 708.7 C655.4 712.8 687.7 703.1 680.0 720.0 C672.3 736.9 662.8 795.0 600.0 810.0 C537.2 825.0 353.1 823.2 303.3 810.0 C253.5 796.8 300.7 751.6 301.1 731.0 C301.5 710.4 305.2 699.6 305.6 686.6 C306.0 673.6 302.6 663.7 303.3 653.3 C304.0 642.9 306.3 632.5 310.0 624.4 C313.7 616.2 318.6 609.2 325.6 604.4 C332.6 599.6 344.8 599.6 352.2 595.5 C359.6 591.4 362.1 584.8 370.0 580.0 C377.9 575.2 392.4 569.6 399.5 566.6Z" fill="#dee0ed"/><path d="M410.6 675.4 C413.2 664.3 421.4 640.6 428.4 631.0 C435.4 621.4 443.6 619.1 452.8 617.6 C462.1 616.1 475.4 618.8 483.9 622.1 C492.4 625.4 498.3 632.1 503.9 637.6 C509.4 643.1 508.3 647.2 517.2 655.4 C526.1 663.5 545.0 674.6 557.2 686.5 C569.4 698.4 588.6 717.2 590.5 726.5 C592.4 735.8 583.1 735.4 568.3 742.0 C553.5 748.6 522.0 759.4 501.6 766.4 C481.2 773.4 457.9 790.1 446.1 784.2 C434.3 778.3 436.2 745.3 430.6 730.9 C425.1 716.5 416.1 706.9 412.8 697.6 C409.5 688.4 408.0 686.5 410.6 675.4Z" fill="#cbc9e2"/><path d="M503.9 706.5 C507.2 700.0 515.7 697.2 521.6 696.5 C527.5 695.8 532.7 697.8 539.4 702.0 C546.1 706.2 554.9 717.5 561.6 722.0 C568.3 726.5 578.6 725.7 579.4 728.7 C580.1 731.7 573.5 735.0 566.1 739.8 C558.7 744.6 543.9 754.3 535.0 757.6 C526.1 760.9 518.3 763.5 512.7 759.8 C507.1 756.1 503.1 744.2 501.6 735.3 C500.1 726.4 500.6 713.0 503.9 706.5Z" fill="#b7b1d5"/><path d="M5.0 600.0 C12.1 586.5 55.9 607.5 72.3 608.8 C88.7 610.1 93.8 606.6 103.4 607.7 C113.0 608.8 123.3 611.6 130.0 615.5 C136.7 619.4 141.2 624.8 143.4 631.1 C145.6 637.4 144.9 646.6 143.4 653.3 C141.9 660.0 138.2 667.0 134.5 671.1 C130.8 675.2 127.1 678.8 121.2 677.7 C115.3 676.6 105.6 670.3 98.9 664.4 C92.2 658.5 92.7 637.9 81.2 642.2 C69.7 646.5 42.7 697.0 30.0 690.0 C17.3 683.0 -2.0 613.5 5.0 600.0Z" fill="#dee0ed"/><clipPath id="clp98479"><path d="M430.0 400.0 C445.8 386.7 483.3 373.3 520.0 370.0 C556.7 366.7 603.3 376.7 650.0 380.0 C696.7 383.3 775.0 320.0 800.0 390.0 C825.0 460.0 816.7 743.3 800.0 800.0 C783.3 856.7 733.3 748.3 700.0 730.0 C666.7 711.7 633.3 710.0 600.0 690.0 C566.7 670.0 528.3 638.3 500.0 610.0 C471.7 581.7 442.5 546.7 430.0 520.0 C417.5 493.3 425.0 470.0 425.0 450.0 C425.0 430.0 414.2 413.3 430.0 400.0Z"/></clipPath><g clip-path="url(#clp98479)"><path d="M483.9 382.0 L485.0 381.9 L487.5 381.6 L490.0 381.4 L492.5 381.2 L495.0 381.1 L497.5 381.0 L500.0 380.9 L502.5 380.8 L505.0 380.8 L507.5 380.9 L510.0 380.9 L512.5 381.0 L515.0 381.2 L517.5 381.4 L520.0 381.7 L522.4 382.0 L522.5 382.0 L525.0 382.4 L527.5 382.9 L530.0 383.4 L532.5 383.9 L535.0 384.5 L535.0 384.5 L537.5 385.1 L540.0 385.7 L542.5 386.4 L544.9 387.0 L545.0 387.0 L547.5 387.7 L550.0 388.4 L552.5 389.0 L554.4 389.5 L555.0 389.7 L557.5 390.3 L560.0 391.0 L562.5 391.6 L564.3 392.0 L565.0 392.2 L567.5 392.7 L570.0 393.3 L572.5 393.8 L575.0 394.3 L576.5 394.5 L577.5 394.7 L580.0 395.1 L582.5 395.4 L585.0 395.7 L587.5 396.0 L590.0 396.3 L592.5 396.6 L595.0 396.8 L596.9 397.0 L597.5 397.0 L600.0 397.3 L602.5 397.5 L605.0 397.7 L607.5 397.8 L610.0 398.0 L612.5 398.1 L615.0 398.3 L617.5 398.4 L620.0 398.6 L622.5 398.7 L625.0 398.8 L627.5 399.0 L630.0 399.1 L632.5 399.2 L635.0 399.3 L637.5 399.5 L637.9 399.5 L640.0 399.6 L642.5 399.8 L645.0 399.9 L647.5 400.0 L650.0 400.1 L652.5 400.2 L655.0 400.3 L657.5 400.3 L660.0 400.3 L662.5 400.3 L665.0 400.3 L667.5 400.3 L670.0 400.3 L672.5 400.2 L675.0 400.2 L677.5 400.2 L680.0 400.1 L682.5 400.0 L685.0 400.0 L687.5 400.0 L690.0 400.0 L692.5 399.9 L695.0 400.0 L697.5 400.0 L700.0 400.0 L702.5 400.0 L705.0 400.1 L707.5 400.1 L710.0 400.2 L712.5 400.3 L715.0 400.5 L717.5 400.6 L720.0 400.8 L722.5 401.0 L725.0 401.3 L727.5 401.6 L730.0 401.9 L730.5 402.0 L732.5 402.3 L735.0 402.8 L737.5 403.3 L740.0 404.0 L742.0 404.5 L742.5 404.7 L745.0 405.4 L747.5 406.1 L750.0 406.9 L750.6 407.0 L752.5 407.5 L755.0 408.2 L757.5 408.8 L757.5 409.5 L757.5 412.0 L757.5 414.5 L757.5 417.0 L757.5 419.5 L757.5 422.0 L757.5 424.5 L757.5 427.0 L757.5 429.5 L757.5 432.0 L757.5 434.5 L757.5 437.0 L757.5 439.5 L757.5 442.0 L757.5 444.5 L757.5 447.0 L757.5 449.5 L757.5 452.0 L757.5 454.5 L757.5 457.0 L757.5 459.5 L757.5 462.0 L757.5 464.5 L757.5 467.0 L757.5 469.5 L757.5 472.0 L757.5 474.5 L757.5 477.0 L757.5 479.5 L757.5 482.0 L757.5 484.5 L757.5 487.0 L757.5 489.5 L757.5 492.0 L757.5 494.5 L757.5 497.0 L757.5 499.5 L757.5 502.0 L757.5 504.5 L757.5 507.0 L757.5 509.5 L757.5 512.0 L757.5 514.5 L757.5 517.0 L757.5 519.5 L757.5 522.0 L757.5 524.5 L757.5 527.0 L757.5 529.5 L757.5 532.0 L757.5 534.5 L757.5 537.0 L757.5 539.5 L757.5 542.0 L757.5 544.5 L757.5 547.0 L757.5 549.5 L757.5 552.0 L757.5 554.5 L757.5 557.0 L757.5 559.5 L757.5 562.0 L757.5 564.5 L757.5 567.0 L757.5 569.5 L757.5 572.0 L757.5 574.5 L757.5 577.0 L757.5 579.5 L757.5 582.0 L757.5 584.5 L757.5 587.0 L757.5 589.5 L757.5 592.0 L757.5 594.5 L757.5 597.0 L757.5 599.5 L757.5 602.0 L757.5 604.5 L757.5 607.0 L757.5 609.5 L757.5 612.0 L757.5 614.5 L757.5 617.0 L757.5 619.5 L757.5 622.0 L757.5 624.5 L757.5 627.0 L757.5 629.5 L757.5 632.0 L757.5 634.5 L757.5 637.0 L757.5 639.5 L757.5 642.0 L757.5 644.5 L757.5 647.0 L757.5 649.5 L757.5 652.0 L757.5 654.5 L757.5 657.0 L757.5 659.5 L757.5 662.0 L757.5 664.5 L757.5 667.0 L757.5 669.5 L757.5 669.7 L755.0 670.1 L752.5 670.4 L750.0 670.6 L747.5 670.8 L745.0 670.9 L742.5 671.1 L740.0 671.2 L737.5 671.3 L735.0 671.3 L732.5 671.3 L730.0 671.3 L727.5 671.2 L725.0 671.2 L722.5 671.2 L720.0 671.1 L717.5 671.0 L715.0 670.8 L712.5 670.7 L710.0 670.6 L707.5 670.5 L705.0 670.3 L702.5 670.1 L700.0 669.9 L697.5 669.7 L695.0 669.5 L694.3 669.5 L692.5 669.4 L690.0 669.2 L687.5 668.9 L685.0 668.7 L682.5 668.5 L680.0 668.4 L677.5 668.2 L675.0 668.0 L672.5 667.7 L670.0 667.6 L667.5 667.6 L665.0 667.4 L662.5 667.3 L660.0 667.2 L657.5 667.3 L655.0 667.4 L652.5 667.4 L650.0 667.6 L647.5 667.8 L645.0 668.0 L642.5 668.3 L640.0 668.5 L637.5 668.7 L635.0 668.9 L632.5 669.1 L630.0 669.3 L627.5 669.5 L627.4 669.5 L625.0 669.6 L622.5 669.6 L620.0 669.5 L619.7 669.5 L617.5 669.3 L615.0 668.8 L612.5 668.3 L610.0 667.7 L607.5 667.1 L607.2 667.0 L605.0 666.4 L602.5 665.7 L600.0 664.9 L598.9 664.5 L597.5 664.0 L595.0 663.1 L592.5 662.0 L592.4 662.0 L590.0 661.0 L587.5 659.8 L586.9 659.5 L585.0 658.6 L582.5 657.3 L581.9 657.0 L580.0 656.0 L577.5 654.6 L577.3 654.5 L575.0 653.1 L573.1 652.0 L572.5 651.6 L570.0 650.1 L569.1 649.5 L567.5 648.5 L565.3 647.0 L565.0 646.8 L562.5 645.1 L561.7 644.5 L560.0 643.3 L558.1 642.0 L557.5 641.5 L555.0 639.7 L554.7 639.5 L552.5 637.9 L551.3 637.0 L550.0 636.0 L548.1 634.5 L547.5 634.0 L545.0 632.0 L545.0 632.0 L542.5 630.0 L542.0 629.5 L540.0 627.8 L539.1 627.0 L537.5 625.6 L536.3 624.5 L535.0 623.3 L533.6 622.0 L532.5 620.9 L531.1 619.5 L530.0 618.4 L528.6 617.0 L527.5 615.8 L526.3 614.5 L525.0 613.1 L524.0 612.0 L522.5 610.3 L521.8 609.5 L520.0 607.3 L519.7 607.0 L517.7 604.5 L517.5 604.2 L515.8 602.0 L515.0 600.9 L514.0 599.5 L512.5 597.5 L512.2 597.0 L510.4 594.5 L510.0 593.9 L508.7 592.0 L507.5 590.2 L507.1 589.5 L505.4 587.0 L505.0 586.3 L503.8 584.5 L502.5 582.4 L502.3 582.0 L500.7 579.5 L500.0 578.3 L499.2 577.0 L497.7 574.5 L497.5 574.1 L496.2 572.0 L495.0 569.8 L494.8 569.5 L493.4 567.0 L492.5 565.5 L492.0 564.5 L490.6 562.0 L490.0 561.0 L489.2 559.5 L487.8 557.0 L487.5 556.4 L486.5 554.5 L485.2 552.0 L485.0 551.7 L483.9 549.5 L482.5 547.0 L482.5 546.9 L481.3 544.5 L480.0 542.0 L480.0 542.0 L478.7 539.5 L477.5 537.0 L477.5 537.0 L476.3 534.5 L475.1 532.0 L475.0 531.8 L473.9 529.5 L472.8 527.0 L472.5 526.4 L471.6 524.5 L470.5 522.0 L470.0 520.8 L469.4 519.5 L468.4 517.0 L467.5 514.9 L467.3 514.5 L466.3 512.0 L465.3 509.5 L465.0 508.8 L464.3 507.0 L463.3 504.5 L462.5 502.5 L462.3 502.0 L461.3 499.5 L460.4 497.0 L460.0 495.9 L459.5 494.5 L458.5 492.0 L457.6 489.5 L457.5 489.1 L456.8 487.0 L455.9 484.5 L455.0 482.0 L455.0 482.0 L454.2 479.5 L453.3 477.0 L452.5 474.5 L452.5 474.5 L451.7 472.0 L450.9 469.5 L450.1 467.0 L450.0 466.7 L449.3 464.5 L448.5 462.0 L447.8 459.5 L447.5 458.6 L447.0 457.0 L446.3 454.5 L445.7 452.0 L445.0 449.5 L445.0 449.3 L444.5 447.0 L444.0 444.5 L443.5 442.0 L443.2 439.5 L442.9 437.0 L442.8 434.5 L442.7 432.0 L442.7 429.5 L442.8 427.0 L443.0 424.5 L443.2 422.0 L443.5 419.5 L443.8 417.0 L444.2 414.5 L444.7 412.0 L445.0 410.4 L445.2 409.5 L445.9 407.0 L446.7 404.5 L447.5 402.4 L447.7 402.0 L448.9 399.5 L450.0 397.6 L450.4 397.0 L452.2 394.5 L452.5 394.2 L454.7 392.0 L455.0 391.7 L457.5 389.9 L458.1 389.5 L460.0 388.4 L462.5 387.2 L463.0 387.0 L465.0 386.2 L467.5 385.4 L470.0 384.6 L470.5 384.5 L472.5 384.0 L475.0 383.4 L477.5 383.0 L480.0 382.5 L482.5 382.2 L483.9 382.0Z" fill="#f9f1e6"/><path d="M512.1 399.5 L512.5 399.4 L515.0 399.1 L517.5 398.8 L520.0 398.5 L522.5 398.3 L525.0 398.1 L527.5 398.0 L530.0 397.9 L532.5 397.9 L535.0 398.0 L537.5 398.1 L540.0 398.3 L542.5 398.5 L545.0 398.8 L547.5 399.1 L550.0 399.4 L550.9 399.5 L552.5 399.7 L555.0 400.1 L557.5 400.5 L560.0 400.8 L562.5 401.2 L565.0 401.6 L567.5 402.0 L567.6 402.0 L570.0 402.4 L572.5 402.7 L575.0 403.1 L577.5 403.4 L580.0 403.7 L582.5 404.0 L585.0 404.2 L587.5 404.5 L587.8 404.5 L590.0 404.7 L592.5 404.9 L595.0 405.2 L597.5 405.4 L600.0 405.6 L602.5 405.8 L605.0 405.9 L607.5 406.1 L610.0 406.3 L612.5 406.5 L615.0 406.6 L617.5 406.8 L620.0 406.9 L620.8 407.0 L622.5 407.1 L625.0 407.2 L627.5 407.4 L630.0 407.5 L632.5 407.7 L635.0 407.8 L637.5 407.9 L640.0 408.0 L642.5 408.1 L645.0 408.1 L647.5 408.2 L650.0 408.2 L652.5 408.3 L655.0 408.2 L657.5 408.3 L660.0 408.3 L662.5 408.2 L665.0 408.2 L667.5 408.2 L670.0 408.2 L672.5 408.1 L675.0 408.2 L677.5 408.1 L680.0 408.1 L682.5 408.2 L685.0 408.2 L687.5 408.2 L690.0 408.3 L692.5 408.4 L695.0 408.5 L697.5 408.6 L700.0 408.8 L702.5 408.9 L705.0 409.1 L707.5 409.4 L708.5 409.5 L710.0 409.7 L712.5 410.0 L715.0 410.4 L717.5 410.8 L720.0 411.3 L722.5 411.9 L723.0 412.0 L725.0 412.5 L727.5 413.2 L730.0 414.0 L731.4 414.5 L732.5 414.9 L735.0 415.8 L737.5 416.8 L738.1 417.0 L740.0 417.7 L742.5 418.6 L744.8 419.5 L745.0 419.6 L747.5 420.5 L750.0 421.5 L751.3 422.0 L752.5 422.5 L755.0 423.6 L756.9 424.5 L757.5 424.8 L757.5 427.0 L757.5 429.5 L757.5 432.0 L757.5 434.5 L757.5 437.0 L757.5 439.5 L757.5 442.0 L757.5 444.5 L757.5 447.0 L757.5 449.5 L757.5 452.0 L757.5 454.5 L757.5 457.0 L757.5 459.5 L757.5 462.0 L757.5 464.5 L757.5 467.0 L757.5 469.5 L757.5 472.0 L757.5 474.5 L757.5 477.0 L757.5 479.5 L757.5 482.0 L757.5 484.5 L757.5 487.0 L757.5 489.5 L757.5 492.0 L757.5 494.5 L757.5 497.0 L757.5 499.5 L757.5 502.0 L757.5 504.5 L757.5 507.0 L757.5 509.5 L757.5 512.0 L757.5 514.5 L757.5 517.0 L757.5 519.5 L757.5 522.0 L757.5 524.5 L757.5 527.0 L757.5 529.5 L757.5 532.0 L757.5 534.5 L757.5 537.0 L757.5 539.5 L757.5 542.0 L757.5 544.5 L757.5 547.0 L757.5 549.5 L757.5 552.0 L757.5 554.5 L757.5 557.0 L757.5 559.5 L757.5 562.0 L757.5 564.5 L757.5 567.0 L757.5 569.5 L757.5 572.0 L757.5 574.5 L757.5 577.0 L757.5 579.5 L757.5 582.0 L757.5 584.5 L757.5 587.0 L757.5 589.5 L757.5 592.0 L757.5 594.5 L757.5 597.0 L757.5 599.5 L757.5 602.0 L757.5 604.5 L757.5 607.0 L757.5 609.5 L757.5 612.0 L757.5 614.5 L757.5 617.0 L757.5 619.5 L757.5 622.0 L757.5 624.5 L757.5 627.0 L757.5 629.5 L757.5 632.0 L757.5 634.5 L757.5 637.0 L757.5 639.5 L757.5 642.0 L757.5 642.6 L755.0 643.3 L752.5 643.9 L750.0 644.5 L750.0 644.5 L747.5 645.1 L745.0 645.5 L742.5 645.9 L740.0 646.3 L737.5 646.6 L735.0 646.9 L734.4 647.0 L732.5 647.2 L730.0 647.4 L727.5 647.6 L725.0 647.8 L722.5 648.0 L720.0 648.1 L717.5 648.3 L715.0 648.4 L712.5 648.5 L710.0 648.7 L707.5 648.9 L705.0 649.0 L702.5 649.1 L700.0 649.3 L697.5 649.5 L697.0 649.5 L695.0 649.6 L692.5 649.7 L690.0 649.9 L687.5 650.0 L685.0 650.2 L682.5 650.3 L680.0 650.4 L677.5 650.5 L675.0 650.7 L672.5 650.8 L670.0 650.9 L667.5 651.0 L665.0 651.1 L662.5 651.3 L660.0 651.3 L657.5 651.4 L655.0 651.6 L652.5 651.7 L650.0 651.8 L647.5 652.0 L647.1 652.0 L645.0 652.1 L642.5 652.2 L640.0 652.4 L637.5 652.5 L635.0 652.5 L632.5 652.6 L630.0 652.6 L627.5 652.6 L625.0 652.5 L622.5 652.3 L620.0 652.0 L619.9 652.0 L617.5 651.6 L615.0 651.0 L612.5 650.5 L610.0 649.8 L608.8 649.5 L607.5 649.1 L605.0 648.4 L602.5 647.5 L601.0 647.0 L600.0 646.6 L597.5 645.6 L595.0 644.6 L594.9 644.5 L592.5 643.4 L590.0 642.2 L589.5 642.0 L587.5 641.0 L585.0 639.6 L584.8 639.5 L582.5 638.2 L580.4 637.0 L580.0 636.7 L577.5 635.2 L576.4 634.5 L575.0 633.6 L572.5 632.0 L572.5 632.0 L570.0 630.3 L568.9 629.5 L567.5 628.5 L565.4 627.0 L565.0 626.7 L562.5 624.9 L562.0 624.5 L560.0 623.0 L558.7 622.0 L557.5 621.1 L555.5 619.5 L555.0 619.1 L552.5 617.0 L552.5 617.0 L550.0 614.9 L549.6 614.5 L547.5 612.6 L546.8 612.0 L545.0 610.3 L544.1 609.5 L542.5 607.9 L541.5 607.0 L540.0 605.5 L539.1 604.5 L537.5 602.9 L536.7 602.0 L535.0 600.2 L534.4 599.5 L532.5 597.4 L532.2 597.0 L530.0 594.5 L530.0 594.5 L528.0 592.0 L527.5 591.4 L526.0 589.5 L525.0 588.2 L524.1 587.0 L522.5 584.9 L522.2 584.5 L520.4 582.0 L520.0 581.5 L518.6 579.5 L517.5 577.9 L516.9 577.0 L515.2 574.5 L515.0 574.2 L513.5 572.0 L512.5 570.4 L511.9 569.5 L510.3 567.0 L510.0 566.4 L508.8 564.5 L507.5 562.3 L507.3 562.0 L505.9 559.5 L505.0 558.0 L504.4 557.0 L503.1 554.5 L502.5 553.5 L501.7 552.0 L500.4 549.5 L500.0 548.7 L499.1 547.0 L497.9 544.5 L497.5 543.8 L496.6 542.0 L495.4 539.5 L495.0 538.6 L494.3 537.0 L493.1 534.5 L492.5 533.2 L492.0 532.0 L490.9 529.5 L490.0 527.5 L489.8 527.0 L488.7 524.5 L487.7 522.0 L487.5 521.4 L486.7 519.5 L485.7 517.0 L485.0 515.1 L484.8 514.5 L483.8 512.0 L482.9 509.5 L482.5 508.5 L482.0 507.0 L481.1 504.5 L480.2 502.0 L480.0 501.4 L479.3 499.5 L478.5 497.0 L477.7 494.5 L477.5 494.0 L476.9 492.0 L476.1 489.5 L475.3 487.0 L475.0 485.9 L474.6 484.5 L473.9 482.0 L473.2 479.5 L472.6 477.0 L472.5 476.7 L472.0 474.5 L471.4 472.0 L470.8 469.5 L470.3 467.0 L470.0 465.6 L469.8 464.5 L469.3 462.0 L468.9 459.5 L468.6 457.0 L468.3 454.5 L468.1 452.0 L468.0 449.5 L467.9 447.0 L467.9 444.5 L468.1 442.0 L468.3 439.5 L468.6 437.0 L469.0 434.5 L469.4 432.0 L470.0 429.5 L470.0 429.5 L470.7 427.0 L471.5 424.5 L472.5 422.1 L472.5 422.0 L473.8 419.5 L475.0 417.4 L475.2 417.0 L477.0 414.5 L477.5 413.9 L479.3 412.0 L480.0 411.3 L482.2 409.5 L482.5 409.3 L485.0 407.6 L486.1 407.0 L487.5 406.3 L490.0 405.2 L491.6 404.5 L492.5 404.2 L495.0 403.3 L497.5 402.6 L499.6 402.0 L500.0 401.9 L502.5 401.3 L505.0 400.8 L507.5 400.3 L510.0 399.8 L512.1 399.5Z" fill="#fce5c5"/><path d="M545.2 414.5 L547.5 414.0 L550.0 413.6 L552.5 413.3 L555.0 413.1 L557.5 413.0 L560.0 412.8 L562.5 412.7 L565.0 412.7 L567.5 412.7 L570.0 412.7 L572.5 412.7 L575.0 412.8 L577.5 412.8 L580.0 412.9 L582.5 413.1 L585.0 413.2 L587.5 413.3 L590.0 413.5 L592.5 413.6 L595.0 413.7 L597.5 413.9 L600.0 414.0 L602.5 414.2 L605.0 414.3 L607.5 414.4 L608.2 414.5 L610.0 414.7 L612.5 414.9 L615.0 415.1 L617.5 415.3 L620.0 415.5 L622.5 415.7 L625.0 415.9 L627.5 416.0 L630.0 416.2 L632.5 416.3 L635.0 416.4 L637.5 416.4 L640.0 416.5 L642.5 416.5 L645.0 416.5 L647.5 416.5 L650.0 416.5 L652.5 416.5 L655.0 416.4 L657.5 416.5 L660.0 416.4 L662.5 416.4 L665.0 416.4 L667.5 416.4 L670.0 416.4 L672.5 416.4 L675.0 416.5 L677.5 416.5 L680.0 416.5 L682.5 416.6 L685.0 416.7 L687.5 416.8 L690.0 416.9 L690.8 417.0 L692.5 417.2 L695.0 417.6 L697.5 418.0 L700.0 418.4 L702.5 418.8 L705.0 419.2 L706.8 419.5 L707.5 419.7 L710.0 420.5 L712.5 421.3 L715.0 421.9 L715.2 422.0 L717.5 423.0 L720.0 424.0 L721.2 424.5 L722.5 425.1 L725.0 426.3 L726.5 427.0 L727.5 427.5 L730.0 428.8 L731.3 429.5 L732.5 430.1 L735.0 431.5 L735.8 432.0 L737.5 433.0 L740.0 434.5 L740.0 434.5 L742.5 436.2 L743.7 437.0 L745.0 437.9 L747.2 439.5 L747.5 439.7 L750.0 441.7 L750.4 442.0 L752.5 443.7 L753.4 444.5 L755.0 445.9 L756.1 447.0 L757.5 448.3 L757.5 449.5 L757.5 452.0 L757.5 454.5 L757.5 457.0 L757.5 459.5 L757.5 462.0 L757.5 464.5 L757.5 467.0 L757.5 469.5 L757.5 472.0 L757.5 474.5 L757.5 477.0 L757.5 479.5 L757.5 482.0 L757.5 484.5 L757.5 487.0 L757.5 489.5 L757.5 492.0 L757.5 494.5 L757.5 497.0 L757.5 499.5 L757.5 502.0 L757.5 504.5 L757.5 507.0 L757.5 509.5 L757.5 512.0 L757.5 514.5 L757.5 517.0 L757.5 519.5 L757.5 522.0 L757.5 524.5 L757.5 527.0 L757.5 529.5 L757.5 532.0 L757.5 534.5 L757.5 537.0 L757.5 539.5 L757.5 542.0 L757.5 544.5 L757.5 547.0 L757.5 549.5 L757.5 552.0 L757.5 554.5 L757.5 557.0 L757.5 559.5 L757.5 562.0 L757.5 564.5 L757.5 567.0 L757.5 569.5 L757.5 572.0 L757.5 574.5 L757.5 577.0 L757.5 579.5 L757.5 582.0 L757.5 584.5 L757.5 587.0 L757.5 589.5 L757.5 592.0 L757.5 594.5 L757.5 597.0 L757.5 599.5 L757.5 602.0 L757.5 604.5 L757.5 607.0 L757.5 609.5 L757.5 612.0 L757.5 614.5 L757.5 615.4 L755.0 616.4 L752.9 617.0 L752.5 617.1 L750.0 618.0 L747.5 618.7 L745.0 619.3 L743.6 619.5 L742.5 619.8 L740.0 620.5 L737.5 621.0 L735.0 621.4 L732.5 621.7 L730.0 621.9 L729.5 622.0 L727.5 622.5 L725.0 623.0 L722.5 623.4 L720.0 623.7 L717.5 624.0 L715.0 624.2 L712.5 624.3 L710.0 624.5 L709.6 624.5 L707.5 625.0 L705.0 625.6 L702.5 626.1 L700.0 626.4 L697.5 626.7 L695.0 626.9 L694.2 627.0 L692.5 627.6 L690.0 628.6 L687.5 629.1 L685.0 629.4 L684.4 629.5 L682.5 630.3 L680.0 631.2 L677.5 631.6 L675.0 631.9 L674.5 632.0 L672.5 632.8 L670.0 633.5 L667.5 634.0 L665.0 634.3 L662.5 634.5 L662.5 634.5 L660.0 635.3 L657.5 635.8 L655.0 636.1 L652.5 636.3 L650.0 636.4 L647.5 636.5 L645.0 636.6 L642.5 636.6 L640.0 636.6 L637.5 636.5 L635.0 636.5 L632.5 636.3 L630.0 636.2 L627.5 635.9 L625.0 635.5 L622.5 635.0 L620.7 634.5 L620.0 634.4 L617.5 634.1 L615.0 633.6 L612.5 632.9 L610.3 632.0 L610.0 631.9 L607.5 631.4 L605.0 630.5 L603.0 629.5 L602.5 629.3 L600.0 628.6 L597.5 627.1 L597.2 627.0 L595.0 626.2 L592.5 624.7 L592.1 624.5 L590.0 623.6 L587.6 622.0 L587.5 621.9 L585.0 620.7 L583.3 619.5 L582.5 619.0 L580.0 617.3 L579.5 617.0 L577.5 615.8 L575.8 614.5 L575.0 614.0 L572.5 612.0 L572.5 612.0 L570.0 610.3 L569.0 609.5 L567.5 608.4 L565.8 607.0 L565.0 606.3 L562.9 604.5 L562.5 604.2 L560.1 602.0 L560.0 601.9 L557.5 599.8 L557.2 599.5 L555.0 597.6 L554.4 597.0 L552.5 595.2 L551.8 594.5 L550.0 592.8 L549.2 592.0 L547.5 590.2 L546.8 589.5 L545.0 587.6 L544.4 587.0 L542.5 584.9 L542.1 584.5 L540.0 582.1 L539.9 582.0 L537.7 579.5 L537.5 579.2 L535.6 577.0 L535.0 576.3 L533.6 574.5 L532.5 573.1 L531.6 572.0 L530.0 569.9 L529.7 569.5 L527.9 567.0 L527.5 566.4 L526.2 564.5 L525.0 562.8 L524.5 562.0 L522.8 559.5 L522.5 559.0 L521.3 557.0 L520.0 554.9 L519.8 554.5 L518.3 552.0 L517.5 550.5 L517.0 549.5 L515.7 547.0 L515.0 545.7 L514.4 544.5 L513.2 542.0 L512.5 540.5 L512.1 539.5 L511.0 537.0 L510.0 534.9 L509.8 534.5 L508.8 532.0 L507.8 529.5 L507.5 528.8 L506.8 527.0 L505.9 524.5 L505.0 522.2 L504.9 522.0 L504.0 519.5 L503.2 517.0 L502.5 515.2 L502.3 514.5 L501.5 512.0 L500.6 509.5 L500.0 507.6 L499.8 507.0 L499.0 504.5 L498.3 502.0 L497.6 499.5 L497.5 499.3 L496.9 497.0 L496.2 494.5 L495.5 492.0 L495.0 489.7 L495.0 489.5 L494.4 487.0 L493.9 484.5 L493.5 482.0 L493.2 479.5 L492.9 477.0 L492.7 474.5 L492.6 472.0 L492.5 469.5 L492.5 467.0 L492.6 464.5 L492.7 462.0 L492.8 459.5 L493.0 457.0 L493.2 454.5 L493.5 452.0 L494.0 449.5 L494.8 447.0 L495.0 446.4 L495.5 444.5 L496.5 442.0 L497.5 440.2 L497.8 439.5 L499.4 437.0 L500.0 436.1 L501.2 434.5 L502.5 433.0 L503.4 432.0 L505.0 430.5 L506.1 429.5 L507.5 428.4 L509.8 427.0 L510.0 426.8 L512.5 425.1 L513.6 424.5 L515.0 423.7 L517.5 422.5 L518.9 422.0 L520.0 421.5 L522.5 420.3 L525.0 419.7 L525.5 419.5 L527.5 418.7 L530.0 417.8 L532.5 417.2 L533.5 417.0 L535.0 416.5 L537.5 415.8 L540.0 415.2 L542.5 414.8 L545.0 414.5 L545.2 414.5Z" fill="#fed39c"/><path d="M561.5 424.5 L562.5 424.4 L565.0 424.3 L567.5 424.2 L570.0 424.1 L572.5 424.0 L575.0 424.0 L577.5 424.0 L580.0 424.1 L582.5 424.1 L585.0 424.2 L587.5 424.3 L590.0 424.4 L591.5 424.5 L592.5 424.6 L595.0 424.7 L597.5 424.9 L600.0 425.0 L602.5 425.2 L605.0 425.4 L607.5 425.6 L610.0 425.8 L612.5 426.1 L615.0 426.3 L617.5 426.5 L620.0 426.8 L622.5 427.0 L622.7 427.0 L625.0 427.2 L627.5 427.4 L630.0 427.7 L632.5 427.9 L635.0 428.1 L637.5 428.3 L640.0 428.4 L642.5 428.6 L645.0 428.7 L647.5 428.9 L650.0 429.0 L652.5 429.1 L655.0 429.3 L657.5 429.4 L658.7 429.5 L660.0 429.6 L662.5 429.8 L665.0 429.9 L667.5 430.1 L670.0 430.3 L672.5 430.5 L675.0 430.8 L677.5 431.1 L680.0 431.4 L682.5 431.7 L684.2 432.0 L685.0 432.1 L687.5 432.6 L690.0 433.0 L692.5 433.6 L695.0 434.2 L696.4 434.5 L697.5 434.8 L700.0 435.5 L702.5 436.3 L704.4 437.0 L705.0 437.2 L707.5 438.2 L710.0 439.2 L710.7 439.5 L712.5 440.3 L715.0 441.4 L716.3 442.0 L717.5 442.6 L720.0 443.8 L721.3 444.5 L722.5 445.2 L725.0 446.6 L725.8 447.0 L727.5 448.0 L729.8 449.5 L730.0 449.6 L732.5 451.3 L733.5 452.0 L735.0 453.1 L736.9 454.5 L737.5 455.0 L739.9 457.0 L740.0 457.1 L742.5 459.3 L742.7 459.5 L745.0 461.7 L745.3 462.0 L747.5 464.3 L747.7 464.5 L749.9 467.0 L750.0 467.1 L751.9 469.5 L752.5 470.2 L753.8 472.0 L755.0 473.7 L755.5 474.5 L757.0 477.0 L757.5 477.9 L757.5 479.5 L757.5 482.0 L757.5 484.5 L757.5 487.0 L757.5 489.5 L757.5 492.0 L757.5 494.5 L757.5 497.0 L757.5 499.5 L757.5 502.0 L757.5 504.5 L757.5 507.0 L757.5 509.5 L757.5 512.0 L757.5 514.5 L757.5 517.0 L757.5 519.5 L757.5 522.0 L757.5 524.5 L757.5 527.0 L757.5 529.5 L757.5 532.0 L757.5 534.5 L757.5 537.0 L757.5 539.5 L757.5 542.0 L757.5 544.5 L757.5 547.0 L757.5 549.5 L757.5 552.0 L757.5 554.5 L757.5 557.0 L757.5 559.5 L757.5 562.0 L757.5 564.5 L757.5 567.0 L757.5 569.5 L757.5 572.0 L757.5 574.5 L757.5 577.0 L757.5 579.5 L757.5 582.0 L757.5 584.5 L757.5 587.0 L757.5 587.5 L756.2 589.5 L755.0 591.1 L754.2 592.0 L752.5 593.9 L751.9 594.5 L750.0 596.2 L749.1 597.0 L747.5 598.2 L745.7 599.5 L745.0 600.0 L742.5 601.5 L741.7 602.0 L740.0 602.9 L737.5 604.3 L737.0 604.5 L735.0 605.4 L732.5 606.6 L731.5 607.0 L730.0 607.6 L727.5 608.6 L725.2 609.5 L725.0 609.6 L722.5 610.5 L720.0 611.3 L718.2 612.0 L717.5 612.2 L715.0 613.0 L712.5 613.9 L710.6 614.5 L710.0 614.7 L707.5 615.5 L705.0 616.3 L702.7 617.0 L702.5 617.1 L700.0 617.8 L697.5 618.6 L695.0 619.3 L694.4 619.5 L692.5 620.0 L690.0 620.8 L687.5 621.5 L685.9 622.0 L685.0 622.3 L682.5 622.9 L680.0 623.6 L677.5 624.2 L676.2 624.5 L675.0 624.8 L672.5 625.4 L670.0 625.9 L667.5 626.4 L665.0 626.9 L664.2 627.0 L662.5 627.3 L660.0 627.6 L657.5 627.9 L655.0 628.2 L652.5 628.4 L650.0 628.5 L647.5 628.5 L645.0 628.5 L642.5 628.4 L640.0 628.3 L637.5 628.1 L635.0 627.9 L632.5 627.6 L630.0 627.3 L628.4 627.0 L627.5 626.8 L625.0 626.4 L622.5 625.8 L620.0 625.3 L617.5 624.6 L617.2 624.5 L615.0 623.9 L612.5 623.1 L610.0 622.2 L609.5 622.0 L607.5 621.2 L605.0 620.2 L603.4 619.5 L602.5 619.1 L600.0 617.9 L598.2 617.0 L597.5 616.6 L595.0 615.3 L593.7 614.5 L592.5 613.8 L590.0 612.3 L589.6 612.0 L587.5 610.6 L585.9 609.5 L585.0 608.8 L582.6 607.0 L582.5 607.0 L580.0 604.9 L579.5 604.5 L577.5 602.8 L576.6 602.0 L575.0 600.5 L573.9 599.5 L572.5 598.2 L571.3 597.0 L570.0 595.7 L568.8 594.5 L567.5 593.1 L566.4 592.0 L565.0 590.4 L564.1 589.5 L562.5 587.7 L561.9 587.0 L560.0 584.8 L559.7 584.5 L557.6 582.0 L557.5 581.9 L555.5 579.5 L555.0 578.9 L553.5 577.0 L552.5 575.8 L551.5 574.5 L550.0 572.5 L549.6 572.0 L547.8 569.5 L547.5 569.1 L546.0 567.0 L545.0 565.6 L544.2 564.5 L542.6 562.0 L542.5 561.9 L540.9 559.5 L540.0 558.0 L539.4 557.0 L537.9 554.5 L537.5 553.8 L536.4 552.0 L535.1 549.5 L535.0 549.4 L533.7 547.0 L532.5 544.6 L532.5 544.5 L531.3 542.0 L530.1 539.5 L530.0 539.2 L529.0 537.0 L527.9 534.5 L527.5 533.4 L526.9 532.0 L525.9 529.5 L525.0 527.1 L525.0 527.0 L524.0 524.5 L523.1 522.0 L522.5 520.2 L522.3 519.5 L521.4 517.0 L520.6 514.5 L520.0 512.7 L519.8 512.0 L519.0 509.5 L518.2 507.0 L517.5 504.5 L517.5 504.5 L516.8 502.0 L516.1 499.5 L515.5 497.0 L515.0 494.9 L514.9 494.5 L514.4 492.0 L513.9 489.5 L513.5 487.0 L513.1 484.5 L512.8 482.0 L512.6 479.5 L512.5 478.7 L512.4 477.0 L512.2 474.5 L512.2 472.0 L512.1 469.5 L512.2 467.0 L512.2 464.5 L512.4 462.0 L512.5 460.7 L512.6 459.5 L513.0 457.0 L513.5 454.5 L514.1 452.0 L515.0 449.6 L515.0 449.5 L516.1 447.0 L517.5 444.6 L517.6 444.5 L519.3 442.0 L520.0 441.2 L521.6 439.5 L522.5 438.6 L524.4 437.0 L525.0 436.5 L527.5 434.7 L527.8 434.5 L530.0 433.2 L532.1 432.0 L532.5 431.8 L535.0 430.6 L537.5 429.6 L537.7 429.5 L540.0 428.7 L542.5 427.8 L545.0 427.1 L545.5 427.0 L547.5 426.5 L550.0 426.0 L552.5 425.5 L555.0 425.2 L557.5 424.9 L560.0 424.6 L561.5 424.5Z" fill="#fdbf72"/><path d="M557.3 437.0 L557.5 437.0 L560.0 436.6 L562.5 436.3 L565.0 436.0 L567.5 435.8 L570.0 435.7 L572.5 435.6 L575.0 435.5 L577.5 435.4 L580.0 435.4 L582.5 435.5 L585.0 435.5 L587.5 435.6 L590.0 435.6 L592.5 435.7 L595.0 435.8 L597.5 436.0 L600.0 436.1 L602.5 436.3 L605.0 436.5 L607.5 436.7 L610.0 437.0 L610.3 437.0 L612.5 437.2 L615.0 437.5 L617.5 437.8 L620.0 438.1 L622.5 438.4 L625.0 438.7 L627.5 439.0 L630.0 439.3 L631.3 439.5 L632.5 439.6 L635.0 439.9 L637.5 440.3 L640.0 440.6 L642.5 440.9 L645.0 441.2 L647.5 441.6 L649.9 442.0 L650.0 442.0 L652.5 442.3 L655.0 442.6 L657.5 443.0 L660.0 443.4 L662.5 443.9 L665.0 444.4 L665.4 444.5 L667.5 444.8 L670.0 445.2 L672.5 445.7 L675.0 446.4 L676.9 447.0 L677.5 447.1 L680.0 447.6 L682.5 448.3 L685.0 449.1 L686.1 449.5 L687.5 449.8 L690.0 450.5 L692.5 451.4 L693.9 452.0 L695.0 452.3 L697.5 453.1 L700.0 454.2 L700.7 454.5 L702.5 455.1 L705.0 456.1 L706.7 457.0 L707.5 457.3 L710.0 458.4 L711.8 459.5 L712.5 459.8 L715.0 461.1 L716.4 462.0 L717.5 462.6 L720.0 464.4 L720.1 464.5 L722.5 466.0 L723.9 467.0 L725.0 467.8 L727.0 469.5 L727.5 469.9 L729.9 472.0 L730.0 472.1 L732.5 474.4 L732.6 474.5 L735.0 476.8 L735.2 477.0 L737.4 479.5 L737.5 479.6 L739.5 482.0 L740.0 482.7 L741.2 484.5 L742.5 486.7 L742.7 487.0 L744.0 489.5 L745.0 491.7 L745.1 492.0 L746.2 494.5 L747.2 497.0 L747.5 497.7 L748.2 499.5 L749.2 502.0 L750.0 503.9 L750.2 504.5 L751.2 507.0 L752.0 509.5 L752.5 510.9 L752.8 512.0 L753.5 514.5 L754.0 517.0 L754.4 519.5 L754.7 522.0 L754.7 524.5 L754.6 527.0 L754.3 529.5 L753.8 532.0 L753.3 534.5 L752.8 537.0 L752.5 538.0 L752.1 539.5 L751.3 542.0 L750.5 544.5 L750.0 545.9 L749.6 547.0 L748.7 549.5 L747.8 552.0 L747.5 552.8 L746.9 554.5 L746.0 557.0 L745.1 559.5 L745.0 559.7 L744.2 562.0 L743.3 564.5 L742.5 566.2 L742.2 567.0 L741.0 569.5 L740.0 571.4 L739.7 572.0 L738.2 574.5 L737.5 575.5 L736.5 577.0 L735.0 578.9 L734.5 579.5 L732.5 581.8 L732.3 582.0 L730.0 584.4 L729.9 584.5 L727.5 586.8 L727.3 587.0 L725.0 589.1 L724.6 589.5 L722.5 591.3 L721.7 592.0 L720.0 593.4 L718.6 594.5 L717.5 595.4 L715.4 597.0 L715.0 597.3 L712.5 599.2 L712.1 599.5 L710.0 601.0 L708.6 602.0 L707.5 602.7 L705.0 604.5 L705.0 604.5 L702.5 606.0 L701.1 607.0 L700.0 607.6 L697.5 609.2 L697.1 609.5 L695.0 610.4 L692.6 612.0 L692.5 612.0 L690.0 612.8 L687.5 614.0 L686.4 614.5 L685.0 614.8 L682.5 615.5 L680.0 616.4 L678.3 617.0 L677.5 617.2 L675.0 617.5 L672.5 617.9 L670.0 618.5 L667.5 619.3 L666.6 619.5 L665.0 619.7 L662.5 619.9 L660.0 620.1 L657.5 620.2 L655.0 620.4 L652.5 620.5 L650.0 620.5 L647.5 620.5 L645.0 620.4 L642.5 620.2 L640.0 620.0 L637.5 619.8 L635.0 619.6 L634.4 619.5 L632.5 619.0 L630.0 618.4 L627.5 617.8 L625.0 617.3 L623.6 617.0 L622.5 616.7 L620.0 615.7 L617.5 615.0 L615.8 614.5 L615.0 614.2 L612.5 613.0 L610.0 612.2 L609.6 612.0 L607.5 610.9 L605.0 609.8 L604.3 609.5 L602.5 608.4 L600.0 607.2 L599.6 607.0 L597.5 605.5 L595.7 604.5 L595.0 604.0 L592.5 602.3 L592.1 602.0 L590.0 600.2 L589.1 599.5 L587.5 598.0 L586.4 597.0 L585.0 595.6 L583.9 594.5 L582.5 593.0 L581.6 592.0 L580.0 590.2 L579.4 589.5 L577.5 587.2 L577.3 587.0 L575.5 584.5 L575.0 583.9 L573.6 582.0 L572.5 580.5 L571.8 579.5 L570.0 577.1 L569.9 577.0 L568.2 574.5 L567.5 573.4 L566.5 572.0 L565.0 569.8 L564.8 569.5 L563.2 567.0 L562.5 565.9 L561.6 564.5 L560.0 562.0 L560.0 561.9 L558.5 559.5 L557.5 557.7 L557.1 557.0 L555.6 554.5 L555.0 553.3 L554.3 552.0 L552.9 549.5 L552.5 548.6 L551.6 547.0 L550.4 544.5 L550.0 543.6 L549.2 542.0 L548.1 539.5 L547.5 538.1 L547.0 537.0 L546.0 534.5 L545.0 532.0 L545.0 532.0 L544.0 529.5 L543.1 527.0 L542.5 525.3 L542.2 524.5 L541.3 522.0 L540.5 519.5 L540.0 517.9 L539.7 517.0 L538.9 514.5 L538.1 512.0 L537.5 509.7 L537.4 509.5 L536.7 507.0 L536.0 504.5 L535.4 502.0 L535.0 500.1 L534.8 499.5 L534.3 497.0 L533.7 494.5 L533.3 492.0 L532.9 489.5 L532.6 487.0 L532.5 486.5 L532.2 484.5 L531.9 482.0 L531.7 479.5 L531.5 477.0 L531.3 474.5 L531.2 472.0 L531.2 469.5 L531.2 467.0 L531.4 464.5 L531.7 462.0 L532.1 459.5 L532.5 457.7 L532.7 457.0 L533.6 454.5 L534.8 452.0 L535.0 451.6 L536.5 449.5 L537.5 448.3 L538.7 447.0 L540.0 445.8 L541.5 444.5 L542.5 443.7 L544.8 442.0 L545.0 441.9 L547.5 440.6 L549.5 439.5 L550.0 439.3 L552.5 438.5 L555.0 437.7 L557.3 437.0Z" fill="#f3a649"/><path d="M580.5 449.5 L582.5 449.3 L585.0 449.2 L587.5 449.0 L590.0 449.0 L592.5 448.9 L595.0 448.8 L597.5 448.8 L600.0 448.8 L602.5 448.8 L605.0 448.8 L607.5 448.9 L610.0 448.9 L612.5 449.0 L615.0 449.1 L617.5 449.2 L620.0 449.4 L621.9 449.5 L622.5 449.5 L625.0 449.7 L627.5 449.9 L630.0 450.1 L632.5 450.4 L635.0 450.6 L637.5 450.9 L640.0 451.2 L642.5 451.5 L645.0 451.8 L646.7 452.0 L647.5 452.1 L650.0 452.5 L652.5 452.8 L655.0 453.2 L657.5 453.6 L660.0 454.1 L662.3 454.5 L662.5 454.5 L665.0 455.0 L667.5 455.6 L670.0 456.2 L672.5 456.8 L673.3 457.0 L675.0 457.4 L677.5 458.1 L680.0 458.9 L682.0 459.5 L682.5 459.7 L685.0 460.5 L687.5 461.3 L689.3 462.0 L690.0 462.3 L692.5 463.2 L695.0 464.3 L695.5 464.5 L697.5 465.4 L700.0 466.6 L700.8 467.0 L702.5 467.9 L705.0 469.3 L705.3 469.5 L707.5 470.9 L709.2 472.0 L710.0 472.6 L712.5 474.4 L712.6 474.5 L715.0 476.5 L715.6 477.0 L717.5 478.7 L718.3 479.5 L720.0 481.2 L720.7 482.0 L722.5 484.0 L722.9 484.5 L724.8 487.0 L725.0 487.3 L726.4 489.5 L727.5 491.5 L727.8 492.0 L728.9 494.5 L729.9 497.0 L730.0 497.2 L730.8 499.5 L731.6 502.0 L732.4 504.5 L732.5 504.9 L733.1 507.0 L733.7 509.5 L734.3 512.0 L734.8 514.5 L735.0 515.9 L735.2 517.0 L735.4 519.5 L735.5 522.0 L735.4 524.5 L735.2 527.0 L735.0 528.7 L734.9 529.5 L734.4 532.0 L733.9 534.5 L733.3 537.0 L732.6 539.5 L732.5 539.8 L731.8 542.0 L731.1 544.5 L730.2 547.0 L730.0 547.6 L729.4 549.5 L728.5 552.0 L727.6 554.5 L727.5 554.7 L726.6 557.0 L725.5 559.5 L725.0 560.6 L724.3 562.0 L723.0 564.5 L722.5 565.3 L721.4 567.0 L720.0 569.1 L719.7 569.5 L717.8 572.0 L717.5 572.4 L715.7 574.5 L715.0 575.3 L713.5 577.0 L712.5 578.1 L711.2 579.5 L710.0 580.7 L708.7 582.0 L707.5 583.1 L706.0 584.5 L705.0 585.4 L703.2 587.0 L702.5 587.6 L700.1 589.5 L700.0 589.6 L697.5 591.4 L696.6 592.0 L695.0 593.1 L692.7 594.5 L692.5 594.6 L690.0 596.1 L688.2 597.0 L687.5 597.4 L685.0 598.6 L682.8 599.5 L682.5 599.6 L680.0 600.6 L677.5 601.4 L675.4 602.0 L675.0 602.1 L672.5 602.7 L670.0 603.3 L667.5 603.8 L665.0 604.2 L663.4 604.5 L662.5 604.6 L660.0 605.0 L657.5 605.2 L655.0 605.4 L652.5 605.6 L650.0 605.6 L647.5 605.6 L645.0 605.6 L642.5 605.4 L640.0 605.2 L637.5 604.9 L635.0 604.5 L634.9 604.5 L632.5 604.1 L630.0 603.5 L627.5 602.8 L625.0 602.1 L624.7 602.0 L622.5 601.2 L620.0 600.3 L618.1 599.5 L617.5 599.2 L615.0 598.1 L612.8 597.0 L612.5 596.8 L610.0 595.5 L608.3 594.5 L607.5 594.0 L605.0 592.4 L604.4 592.0 L602.5 590.7 L600.9 589.5 L600.0 588.8 L597.9 587.0 L597.5 586.7 L595.1 584.5 L595.0 584.4 L592.7 582.0 L592.5 581.8 L590.4 579.5 L590.0 579.0 L588.3 577.0 L587.5 576.1 L586.3 574.5 L585.0 572.9 L584.3 572.0 L582.5 569.6 L582.4 569.5 L580.6 567.0 L580.0 566.1 L578.8 564.5 L577.5 562.6 L577.1 562.0 L575.5 559.5 L575.0 558.8 L573.9 557.0 L572.5 554.7 L572.4 554.5 L570.9 552.0 L570.0 550.5 L569.5 549.5 L568.1 547.0 L567.5 545.9 L566.8 544.5 L565.5 542.0 L565.0 540.9 L564.4 539.5 L563.2 537.0 L562.5 535.2 L562.2 534.5 L561.2 532.0 L560.2 529.5 L560.0 528.8 L559.3 527.0 L558.5 524.5 L557.6 522.0 L557.5 521.6 L556.8 519.5 L556.1 517.0 L555.4 514.5 L555.0 513.2 L554.7 512.0 L554.0 509.5 L553.4 507.0 L552.8 504.5 L552.5 503.0 L552.3 502.0 L551.8 499.5 L551.4 497.0 L551.1 494.5 L550.7 492.0 L550.5 489.5 L550.2 487.0 L550.0 484.5 L550.0 483.7 L549.9 482.0 L549.8 479.5 L549.8 477.0 L549.9 474.5 L550.0 473.2 L550.1 472.0 L550.5 469.5 L551.0 467.0 L551.8 464.5 L552.5 463.0 L553.0 462.0 L554.6 459.5 L555.0 459.1 L556.9 457.0 L557.5 456.5 L560.0 454.8 L560.6 454.5 L562.5 453.5 L565.0 452.5 L566.5 452.0 L567.5 451.7 L570.0 451.1 L572.5 450.5 L575.0 450.1 L577.5 449.8 L580.0 449.5 L580.5 449.5Z" fill="#e3881d"/><path d="M604.9 462.0 L605.0 462.0 L607.5 461.8 L610.0 461.7 L612.5 461.5 L615.0 461.4 L617.5 461.3 L620.0 461.2 L622.5 461.2 L625.0 461.2 L627.5 461.2 L630.0 461.2 L632.5 461.3 L635.0 461.4 L637.5 461.6 L640.0 461.8 L642.5 461.9 L643.0 462.0 L645.0 462.3 L647.5 462.7 L650.0 463.1 L652.5 463.5 L655.0 463.9 L657.5 464.2 L659.1 464.5 L660.0 464.7 L662.5 465.4 L665.0 466.0 L667.5 466.5 L669.9 467.0 L670.0 467.0 L672.5 468.0 L675.0 468.7 L677.5 469.4 L677.9 469.5 L680.0 470.4 L682.5 471.4 L684.4 472.0 L685.0 472.3 L687.5 473.5 L690.0 474.5 L690.0 474.5 L692.5 476.1 L694.3 477.0 L695.0 477.4 L697.5 479.1 L698.1 479.5 L700.0 481.0 L701.3 482.0 L702.5 483.1 L704.0 484.5 L705.0 485.5 L706.4 487.0 L707.5 488.4 L708.4 489.5 L710.0 491.7 L710.2 492.0 L711.6 494.5 L712.5 496.3 L712.8 497.0 L713.7 499.5 L714.5 502.0 L715.0 503.7 L715.2 504.5 L715.6 507.0 L715.9 509.5 L716.1 512.0 L716.3 514.5 L716.4 517.0 L716.3 519.5 L716.2 522.0 L716.0 524.5 L715.8 527.0 L715.4 529.5 L715.0 532.0 L715.0 532.0 L714.5 534.5 L713.9 537.0 L713.3 539.5 L712.6 542.0 L712.5 542.4 L711.8 544.5 L711.0 547.0 L710.0 549.5 L710.0 549.6 L708.9 552.0 L707.7 554.5 L707.5 554.9 L706.3 557.0 L705.0 559.3 L704.9 559.5 L703.2 562.0 L702.5 563.0 L701.5 564.5 L700.0 566.7 L699.8 567.0 L697.9 569.5 L697.5 570.0 L695.8 572.0 L695.0 572.9 L693.6 574.5 L692.5 575.6 L691.0 577.0 L690.0 577.9 L688.0 579.5 L687.5 579.9 L685.0 581.5 L684.1 582.0 L682.5 582.8 L680.0 584.0 L678.9 584.5 L677.5 585.0 L675.0 585.9 L672.5 586.8 L671.9 587.0 L670.0 587.5 L667.5 588.0 L665.0 588.6 L662.5 589.1 L660.2 589.5 L660.0 589.5 L657.5 589.8 L655.0 590.0 L652.5 590.1 L650.0 590.2 L647.5 590.3 L645.0 590.2 L642.5 590.1 L640.0 590.0 L637.5 589.7 L635.9 589.5 L635.0 589.4 L632.5 588.8 L630.0 588.1 L627.5 587.4 L626.5 587.0 L625.0 586.4 L622.5 585.2 L621.0 584.5 L620.0 584.0 L617.5 582.5 L616.7 582.0 L615.0 580.9 L613.0 579.5 L612.5 579.1 L610.0 577.3 L609.7 577.0 L607.5 575.1 L606.8 574.5 L605.0 572.9 L604.1 572.0 L602.5 570.4 L601.7 569.5 L600.0 567.7 L599.4 567.0 L597.5 564.9 L597.2 564.5 L595.1 562.0 L595.0 561.9 L593.1 559.5 L592.5 558.6 L591.3 557.0 L590.0 555.2 L589.5 554.5 L587.8 552.0 L587.5 551.5 L586.2 549.5 L585.0 547.5 L584.7 547.0 L583.3 544.5 L582.5 543.1 L581.9 542.0 L580.6 539.5 L580.0 538.2 L579.5 537.0 L578.4 534.5 L577.5 532.4 L577.3 532.0 L576.4 529.5 L575.5 527.0 L575.0 525.4 L574.7 524.5 L574.0 522.0 L573.2 519.5 L572.5 517.0 L572.5 517.0 L571.9 514.5 L571.3 512.0 L570.8 509.5 L570.3 507.0 L570.0 505.4 L569.9 504.5 L569.5 502.0 L569.3 499.5 L569.0 497.0 L568.8 494.5 L568.7 492.0 L568.6 489.5 L568.5 487.0 L568.5 484.5 L568.6 482.0 L568.8 479.5 L569.2 477.0 L569.8 474.5 L570.0 474.0 L570.9 472.0 L572.5 469.5 L572.5 469.5 L575.0 468.0 L576.9 467.0 L577.5 466.8 L580.0 466.0 L582.5 465.3 L585.0 464.6 L585.5 464.5 L587.5 464.2 L590.0 463.8 L592.5 463.4 L595.0 463.1 L597.5 462.8 L600.0 462.5 L602.5 462.3 L604.9 462.0Z" fill="#ce720f"/><path d="M620.8 477.0 L622.5 476.8 L625.0 476.6 L627.5 476.5 L630.0 476.4 L632.5 476.4 L635.0 476.5 L637.5 476.6 L640.0 476.8 L641.9 477.0 L642.5 477.1 L645.0 477.4 L647.5 477.7 L650.0 478.1 L652.5 478.6 L655.0 479.1 L656.6 479.5 L657.5 479.7 L660.0 480.4 L662.5 481.1 L665.0 481.9 L665.3 482.0 L667.5 482.8 L670.0 483.8 L671.8 484.5 L672.5 484.8 L675.0 486.0 L677.0 487.0 L677.5 487.3 L680.0 488.8 L681.1 489.5 L682.5 490.5 L684.5 492.0 L685.0 492.4 L687.3 494.5 L687.5 494.7 L689.6 497.0 L690.0 497.6 L691.4 499.5 L692.5 501.4 L692.8 502.0 L693.9 504.5 L694.8 507.0 L695.0 508.0 L695.3 509.5 L695.8 512.0 L696.0 514.5 L696.2 517.0 L696.2 519.5 L696.1 522.0 L695.9 524.5 L695.6 527.0 L695.2 529.5 L695.0 530.7 L694.7 532.0 L694.2 534.5 L693.5 537.0 L692.6 539.5 L692.5 539.9 L691.7 542.0 L690.5 544.5 L690.0 545.5 L689.2 547.0 L687.7 549.5 L687.5 549.8 L685.9 552.0 L685.0 553.1 L683.9 554.5 L682.5 556.1 L681.7 557.0 L680.0 558.8 L679.3 559.5 L677.5 561.1 L676.4 562.0 L675.0 563.1 L672.9 564.5 L672.5 564.7 L670.0 566.1 L668.1 567.0 L667.5 567.3 L665.0 568.3 L662.5 569.2 L661.5 569.5 L660.0 570.0 L657.5 570.6 L655.0 571.2 L652.5 571.7 L650.6 572.0 L650.0 572.1 L647.5 572.4 L645.0 572.6 L642.5 572.7 L640.0 572.7 L637.5 572.6 L635.0 572.3 L633.7 572.0 L632.5 571.8 L630.0 571.0 L627.5 570.1 L626.3 569.5 L625.0 568.8 L622.5 567.3 L622.0 567.0 L620.0 565.6 L618.5 564.5 L617.5 563.7 L615.5 562.0 L615.0 561.5 L612.9 559.5 L612.5 559.1 L610.4 557.0 L610.0 556.5 L608.2 554.5 L607.5 553.6 L606.2 552.0 L605.0 550.5 L604.2 549.5 L602.5 547.1 L602.4 547.0 L600.8 544.5 L600.0 543.3 L599.2 542.0 L597.8 539.5 L597.5 539.0 L596.5 537.0 L595.3 534.5 L595.0 533.7 L594.3 532.0 L593.4 529.5 L592.6 527.0 L592.5 526.6 L591.9 524.5 L591.3 522.0 L590.7 519.5 L590.2 517.0 L590.0 515.9 L589.7 514.5 L589.4 512.0 L589.1 509.5 L589.0 507.0 L589.0 504.5 L589.1 502.0 L589.2 499.5 L589.4 497.0 L589.7 494.5 L590.0 492.4 L590.1 492.0 L590.7 489.5 L591.8 487.0 L592.5 486.0 L594.1 484.5 L595.0 483.9 L597.5 482.5 L598.5 482.0 L600.0 481.4 L602.5 480.5 L605.0 479.8 L606.1 479.5 L607.5 479.2 L610.0 478.6 L612.5 478.2 L615.0 477.8 L617.5 477.4 L620.0 477.1 L620.8 477.0Z" fill="#b65a07"/><path d="M631.7 492.0 L632.5 492.0 L635.0 491.9 L637.5 491.9 L640.0 492.0 L640.2 492.0 L642.5 492.6 L645.0 493.3 L647.5 493.8 L650.0 494.2 L652.5 494.5 L652.6 494.5 L655.0 495.9 L657.5 496.7 L658.4 497.0 L660.0 498.0 L662.5 499.2 L663.2 499.5 L665.0 500.9 L667.5 502.0 L667.5 502.0 L670.0 504.4 L670.1 504.5 L672.5 507.0 L672.5 507.0 L673.3 509.5 L674.7 512.0 L675.0 513.0 L675.2 514.5 L675.4 517.0 L675.4 519.5 L675.4 522.0 L675.3 524.5 L675.2 527.0 L675.0 529.1 L674.9 529.5 L673.6 532.0 L672.8 534.5 L672.5 535.6 L671.6 537.0 L670.2 539.5 L670.0 539.8 L667.9 542.0 L667.5 542.3 L665.1 544.5 L665.0 544.6 L662.5 545.9 L661.0 547.0 L660.0 547.4 L657.5 548.9 L656.5 549.5 L655.0 550.0 L652.5 551.1 L650.9 552.0 L650.0 552.2 L647.5 552.8 L645.0 553.8 L643.2 554.5 L642.5 554.6 L640.0 554.8 L637.5 554.8 L635.0 554.8 L632.5 554.6 L632.3 554.5 L630.0 552.9 L627.5 552.0 L627.4 552.0 L625.0 549.8 L624.7 549.5 L622.5 547.4 L622.1 547.0 L620.0 544.8 L619.7 544.5 L617.5 542.1 L617.4 542.0 L615.8 539.5 L615.0 538.4 L614.4 537.0 L612.5 534.7 L612.4 534.5 L611.7 532.0 L610.3 529.5 L610.0 528.5 L609.8 527.0 L609.5 524.5 L609.3 522.0 L609.0 519.5 L608.8 517.0 L608.9 514.5 L609.4 512.0 L609.9 509.5 L610.0 509.2 L611.1 507.0 L612.0 504.5 L612.5 503.0 L613.0 502.0 L614.6 499.5 L615.0 499.0 L617.0 497.0 L617.5 496.7 L620.0 495.4 L621.6 494.5 L622.5 494.3 L625.0 493.8 L627.5 493.1 L630.0 492.3 L631.7 492.0Z" fill="#9c4b07"/></g>
<use href="#grid"/><use href="#coast"/>
</g>
<circle cx="569.4" cy="410.9" r="8.4" fill="#008000" stroke="#000" stroke-width="1.9"/>
<circle cx="384.0" cy="426.5" r="365.3" fill="none" stroke="#000" stroke-width="2.4"/>
<rect x="803.25" y="171.50" width="25.10" height="25.84" fill="#7f3b08"/>
<rect x="803.25" y="197.03" width="25.10" height="25.84" fill="#9c4b07"/>
<rect x="803.25" y="222.57" width="25.10" height="25.84" fill="#b65a07"/>
<rect x="803.25" y="248.11" width="25.10" height="25.84" fill="#ce720f"/>
<rect x="803.25" y="273.64" width="25.10" height="25.84" fill="#e3881d"/>
<rect x="803.25" y="299.18" width="25.10" height="25.84" fill="#f3a649"/>
<rect x="803.25" y="324.71" width="25.10" height="25.84" fill="#fdbf72"/>
<rect x="803.25" y="350.25" width="25.10" height="25.84" fill="#fed39c"/>
<rect x="803.25" y="375.78" width="25.10" height="25.84" fill="#fce5c5"/>
<rect x="803.25" y="401.32" width="25.10" height="25.84" fill="#f9f1e6"/>
<rect x="803.25" y="426.85" width="25.10" height="25.84" fill="#eeeef3"/>
<rect x="803.25" y="452.39" width="25.10" height="25.84" fill="#dee0ed"/>
<rect x="803.25" y="477.92" width="25.10" height="25.84" fill="#cbc9e2"/>
<rect x="803.25" y="503.46" width="25.10" height="25.84" fill="#b7b1d5"/>
<rect x="803.25" y="528.99" width="25.10" height="25.84" fill="#9f96c4"/>
<rect x="803.25" y="554.53" width="25.10" height="25.84" fill="#8477af"/>
<rect x="803.25" y="580.06" width="25.10" height="25.84" fill="#6d529c"/>
<rect x="803.25" y="605.60" width="25.10" height="25.84" fill="#552889"/>
<rect x="803.25" y="631.13" width="25.10" height="25.84" fill="#41146a"/>
<rect x="803.25" y="656.67" width="25.10" height="25.84" fill="#2d004b"/>
<rect x="803.25" y="171.5" width="25.10" height="510.70" fill="none" stroke="#000" stroke-width="2.5"/>
<path d="M828.35 171.50 H837.35" stroke="#000" stroke-width="2.2"/>
<text x="845.5" y="184.30" font-family="Liberation Sans, sans-serif" font-size="36">200</text>
<path d="M828.35 299.18 H837.35" stroke="#000" stroke-width="2.2"/>
<text x="845.5" y="311.98" font-family="Liberation Sans, sans-serif" font-size="36">100</text>
<path d="M828.35 426.85 H837.35" stroke="#000" stroke-width="2.2"/>
<text x="845.5" y="439.65" font-family="Liberation Sans, sans-serif" font-size="36">0</text>
<path d="M828.35 554.53 H837.35" stroke="#000" stroke-width="2.2"/>
<text x="845.5" y="567.33" font-family="Liberation Sans, sans-serif" font-size="36">−100</text>
<path d="M828.35 682.20 H837.35" stroke="#000" stroke-width="2.2"/>
<text x="845.5" y="695.00" font-family="Liberation Sans, sans-serif" font-size="36">−200</text>
<text transform="translate(959.5,427.0) rotate(-90)" x="0" y="0" font-family="Liberation Sans, sans-serif" font-size="35" text-anchor="middle">Mean 500 hPa GPH anomaly (m)</text>
</g>
<g transform="translate(0.0,876.5)">
<text x="384.5" y="47" font-family="Liberation Sans, sans-serif" font-size="42.5" text-anchor="middle">JJA</text>
<g clip-path="url(#cc)">
<rect x="0" y="0" width="800" height="820" fill="#eeeef3"/><path d="M5.0 320.0 C3.0 342.5 15.9 327.2 27.8 334.9 C39.7 342.6 60.3 358.2 76.6 366.0 C92.9 373.8 108.5 380.8 125.5 381.5 C142.5 382.2 163.2 375.2 178.8 370.4 C194.4 365.6 208.4 364.5 218.8 352.6 C229.2 340.8 234.3 318.6 241.0 299.3 C247.7 280.1 253.6 259.3 258.8 237.1 C264.0 214.9 272.1 186.0 272.1 166.0 C272.1 146.0 264.0 128.9 258.8 117.1 C253.6 105.2 254.1 104.4 241.0 94.9 C227.9 85.4 213.5 42.5 180.0 60.0 C146.5 77.5 69.2 156.7 40.0 200.0 C10.8 243.3 7.0 297.5 5.0 320.0Z" fill="#dee0ed"/><path d="M160.0 187.0 C162.5 184.7 167.7 182.5 172.0 183.0 C176.3 183.5 183.5 186.5 186.0 190.0 C188.5 193.5 188.7 200.5 187.0 204.0 C185.3 207.5 180.2 210.5 176.0 211.0 C171.8 211.5 165.2 209.3 162.0 207.0 C158.8 204.7 157.3 200.3 157.0 197.0 C156.7 193.7 157.5 189.3 160.0 187.0Z" fill="#cbc9e2"/><path d="M330.0 40.0 C308.1 44.7 335.9 51.7 338.8 68.3 C341.8 84.9 344.7 120.2 347.7 139.4 C350.7 158.7 350.7 174.2 356.6 183.8 C362.5 193.4 372.8 198.6 383.2 197.1 C393.6 195.6 406.9 186.0 418.8 174.9 C430.7 163.8 444.7 146.8 454.3 130.5 C463.9 114.2 473.9 92.3 476.5 77.2 C479.1 62.1 494.4 46.2 470.0 40.0 C445.6 33.8 351.9 35.3 330.0 40.0Z" fill="#f9f1e6"/><path d="M369.9 263.8 C373.6 254.2 378.7 248.2 396.5 241.5 C414.3 234.8 453.5 231.2 476.5 223.8 C499.5 216.4 519.5 206.7 534.3 197.1 C549.1 187.5 554.3 173.4 565.4 166.0 C576.5 158.6 588.3 153.4 600.9 152.7 C613.5 152.0 624.4 162.0 640.9 161.6 C657.4 161.2 676.8 126.9 700.0 150.0 C723.2 173.1 766.7 261.7 780.0 300.0 C793.3 338.3 785.4 367.5 780.0 380.0 C774.6 392.5 764.8 375.7 747.5 374.8 C730.2 373.9 695.8 377.0 676.5 374.8 C657.2 372.6 646.8 365.2 632.0 361.5 C617.2 357.8 598.7 350.4 587.6 352.6 C576.5 354.8 574.3 370.4 565.4 374.8 C556.5 379.2 549.1 381.5 534.3 379.3 C519.5 377.1 497.2 370.4 476.5 361.5 C455.8 352.6 426.9 336.4 409.9 326.0 C392.9 315.6 381.0 309.7 374.3 299.3 C367.6 288.9 366.2 273.4 369.9 263.8Z" fill="#dee0ed"/><path d="M525.4 299.3 C526.9 287.5 532.8 275.7 543.2 263.8 C553.6 252.0 572.8 238.6 587.6 228.2 C602.4 217.8 615.7 204.5 632.0 201.6 C648.3 198.7 670.6 203.8 685.4 210.5 C700.2 217.2 711.3 229.7 720.9 241.5 C730.5 253.3 750.5 269.6 743.1 281.5 C735.7 293.4 695.0 302.2 676.5 312.6 C658.0 323.0 646.8 335.6 632.0 343.7 C617.2 351.8 598.7 358.5 587.6 361.5 C576.5 364.5 574.3 365.9 565.4 361.5 C556.5 357.1 541.0 345.3 534.3 334.9 C527.6 324.5 523.9 311.1 525.4 299.3Z" fill="#cbc9e2"/><path d="M529.8 299.3 C535.0 289.7 552.1 279.3 565.4 272.6 C578.7 265.9 598.7 257.8 609.8 259.3 C620.9 260.8 629.8 270.4 632.0 281.5 C634.2 292.6 630.5 313.4 623.1 326.0 C615.7 338.6 597.2 351.8 587.6 357.0 C578.0 362.2 574.3 361.4 565.4 357.0 C556.5 352.6 540.2 340.0 534.3 330.4 C528.4 320.8 524.6 308.9 529.8 299.3Z" fill="#b7b1d5"/><path d="M387.7 619.2 C396.4 586.1 415.1 603.6 432.1 601.4 C449.1 599.2 471.4 601.4 489.9 605.9 C508.4 610.4 526.9 617.0 543.2 628.1 C559.5 639.2 578.0 657.7 587.6 672.5 C597.2 687.3 595.5 695.8 600.9 717.0 C606.3 738.2 656.8 786.2 620.0 800.0 C583.2 813.8 418.7 830.1 380.0 800.0 C341.3 769.9 379.0 652.3 387.7 619.2Z" fill="#dee0ed"/><path d="M436.5 663.6 C440.6 636.4 445.4 642.9 454.3 637.0 C463.2 631.1 478.8 626.6 489.9 628.1 C501.0 629.6 512.1 637.0 521.0 645.9 C529.9 654.8 535.8 665.8 543.2 681.4 C550.6 697.0 565.4 719.4 565.4 739.2 C565.4 759.0 565.8 789.9 543.2 800.0 C520.6 810.1 447.8 822.7 430.0 800.0 C412.2 777.3 432.4 690.8 436.5 663.6Z" fill="#cbc9e2"/><path d="M178.8 716.9 C188.1 702.3 195.1 685.8 205.5 672.5 C215.9 659.2 227.7 644.3 241.0 636.9 C254.3 629.5 272.2 623.6 285.5 628.1 C298.8 632.6 313.6 648.8 321.0 663.6 C328.4 678.4 328.4 696.9 329.9 716.9 C331.4 736.9 343.2 768.1 329.9 783.6 C316.6 799.1 280.0 813.9 250.0 810.0 C220.0 806.1 161.9 775.5 150.0 760.0 C138.1 744.5 169.6 731.5 178.8 716.9Z" fill="#f9f1e6"/><path d="M207.0 569.0 C208.3 567.5 211.7 565.5 214.0 566.0 C216.3 566.5 220.2 569.7 221.0 572.0 C221.8 574.3 220.8 578.5 219.0 580.0 C217.2 581.5 212.2 581.8 210.0 581.0 C207.8 580.2 206.5 577.0 206.0 575.0 C205.5 573.0 205.7 570.5 207.0 569.0Z" fill="#f9f1e6"/><clipPath id="clp17897"><path d="M400.0 400.0 C420.8 383.3 478.3 371.7 520.0 370.0 C561.7 368.3 603.3 386.7 650.0 390.0 C696.7 393.3 775.0 321.7 800.0 390.0 C825.0 458.3 820.0 738.3 800.0 800.0 C780.0 861.7 720.0 780.0 680.0 760.0 C640.0 740.0 595.0 703.3 560.0 680.0 C525.0 656.7 495.0 643.3 470.0 620.0 C445.0 596.7 422.5 565.0 410.0 540.0 C397.5 515.0 396.7 493.3 395.0 470.0 C393.3 446.7 379.2 416.7 400.0 400.0Z"/></clipPath><g clip-path="url(#clp17897)"><path d="M506.6 379.5 L507.5 379.4 L510.0 379.3 L512.5 379.2 L515.0 379.2 L517.5 379.2 L520.0 379.3 L522.5 379.4 L524.2 379.5 L525.0 379.6 L527.5 379.8 L530.0 380.1 L532.5 380.4 L535.0 380.8 L537.5 381.3 L540.0 381.7 L541.2 382.0 L542.5 382.3 L545.0 382.8 L547.5 383.4 L550.0 383.9 L552.4 384.5 L552.5 384.5 L555.0 385.1 L557.5 385.8 L560.0 386.4 L562.5 387.0 L562.5 387.0 L565.0 387.6 L567.5 388.2 L570.0 388.9 L572.5 389.4 L572.7 389.5 L575.0 390.0 L577.5 390.6 L580.0 391.1 L582.5 391.6 L584.5 392.0 L585.0 392.1 L587.5 392.6 L590.0 393.0 L592.5 393.4 L595.0 393.8 L597.5 394.3 L598.9 394.5 L600.0 394.7 L602.5 395.1 L605.0 395.5 L607.5 395.9 L610.0 396.4 L612.5 396.8 L613.9 397.0 L615.0 397.2 L617.5 397.5 L620.0 397.9 L622.5 398.3 L625.0 398.6 L627.5 399.0 L630.0 399.3 L631.9 399.5 L632.5 399.6 L635.0 399.9 L637.5 400.1 L640.0 400.4 L642.5 400.6 L645.0 400.8 L647.5 401.0 L650.0 401.2 L652.5 401.4 L655.0 401.5 L657.5 401.5 L660.0 401.6 L662.5 401.6 L665.0 401.5 L667.5 401.5 L670.0 401.3 L672.5 401.1 L675.0 401.0 L677.5 400.8 L680.0 400.6 L682.5 400.4 L685.0 400.2 L687.5 400.0 L690.0 399.8 L692.5 399.6 L693.5 399.5 L695.0 399.4 L697.5 399.2 L700.0 399.0 L702.5 398.8 L705.0 398.7 L707.5 398.5 L710.0 398.4 L712.5 398.3 L715.0 398.3 L717.5 398.2 L720.0 398.2 L722.5 398.3 L725.0 398.4 L727.5 398.6 L730.0 398.8 L732.5 399.1 L735.0 399.5 L735.2 399.5 L737.5 400.0 L740.0 400.6 L742.5 401.3 L744.6 402.0 L745.0 402.1 L747.5 403.0 L750.0 403.9 L751.6 404.5 L752.5 404.8 L755.0 405.8 L757.5 406.8 L757.5 407.0 L757.5 409.5 L757.5 412.0 L757.5 414.5 L757.5 417.0 L757.5 419.5 L757.5 422.0 L757.5 424.5 L757.5 427.0 L757.5 429.5 L757.5 432.0 L757.5 434.5 L757.5 437.0 L757.5 439.5 L757.5 442.0 L757.5 444.5 L757.5 447.0 L757.5 449.5 L757.5 452.0 L757.5 454.5 L757.5 457.0 L757.5 459.5 L757.5 462.0 L757.5 464.5 L757.5 467.0 L757.5 469.5 L757.5 472.0 L757.5 474.5 L757.5 477.0 L757.5 479.5 L757.5 482.0 L757.5 484.5 L757.5 487.0 L757.5 489.5 L757.5 492.0 L757.5 494.5 L757.5 497.0 L757.5 499.5 L757.5 502.0 L757.5 504.5 L757.5 507.0 L757.5 509.5 L757.5 512.0 L757.5 514.5 L757.5 517.0 L757.5 519.5 L757.5 522.0 L757.5 524.5 L757.5 527.0 L757.5 529.5 L757.5 532.0 L757.5 534.5 L757.5 537.0 L757.5 539.5 L757.5 542.0 L757.5 544.5 L757.5 547.0 L757.5 549.5 L757.5 552.0 L757.5 554.5 L757.5 557.0 L757.5 559.5 L757.5 562.0 L757.5 564.5 L757.5 567.0 L757.5 569.5 L757.5 572.0 L757.5 574.5 L757.5 577.0 L757.5 579.5 L757.5 582.0 L757.5 584.5 L757.5 587.0 L757.5 589.5 L757.5 592.0 L757.5 594.5 L757.5 597.0 L757.5 599.5 L757.5 602.0 L757.5 604.5 L757.5 607.0 L757.5 609.5 L757.5 612.0 L757.5 614.5 L757.5 617.0 L757.5 619.5 L757.5 622.0 L757.5 624.5 L757.5 627.0 L757.5 629.5 L757.5 632.0 L757.5 632.4 L755.0 632.1 L754.3 632.0 L752.5 631.7 L750.0 631.3 L747.5 630.9 L745.0 630.4 L742.5 629.9 L740.7 629.5 L740.0 629.4 L737.5 628.8 L735.0 628.2 L732.5 627.6 L730.0 627.1 L729.5 627.0 L727.5 626.6 L725.0 626.0 L722.5 625.4 L720.0 625.0 L717.5 624.6 L716.8 624.5 L715.0 624.1 L712.5 623.8 L710.0 623.5 L707.5 623.2 L705.0 623.1 L702.5 623.2 L700.0 623.2 L697.5 622.5 L695.0 622.0 L692.5 624.5 L692.5 624.5 L690.0 624.5 L687.5 624.5 L685.0 624.5 L682.5 627.0 L682.5 627.0 L680.0 627.0 L677.5 627.0 L675.0 629.5 L675.0 629.5 L672.5 629.5 L670.0 632.0 L670.0 632.0 L667.5 632.0 L665.0 632.0 L662.5 634.5 L662.5 634.8 L660.0 635.8 L657.7 637.0 L657.5 637.2 L655.0 638.2 L652.5 639.1 L651.3 639.5 L650.0 640.1 L647.5 641.0 L645.0 641.8 L644.2 642.0 L642.5 642.6 L640.0 643.3 L637.5 643.9 L635.0 644.4 L634.6 644.5 L632.5 644.9 L630.0 645.3 L627.5 645.7 L625.0 646.1 L622.5 646.4 L620.0 646.7 L617.9 647.0 L617.5 647.1 L615.0 647.3 L612.5 647.6 L610.0 647.8 L607.5 648.0 L605.0 648.1 L602.5 648.3 L600.0 648.4 L597.5 648.4 L595.0 648.4 L592.5 648.4 L590.0 648.3 L587.5 648.2 L585.0 648.1 L582.5 647.9 L580.0 647.6 L577.5 647.3 L575.5 647.0 L575.0 646.9 L572.5 646.5 L570.0 646.0 L567.5 645.5 L565.0 644.9 L563.5 644.5 L562.5 644.2 L560.0 643.5 L557.5 642.7 L555.3 642.0 L555.0 641.9 L552.5 641.0 L550.0 640.1 L548.5 639.5 L547.5 639.1 L545.0 638.1 L542.5 637.0 L542.5 637.0 L540.0 635.9 L537.5 634.7 L537.0 634.5 L535.0 633.6 L532.5 632.3 L531.8 632.0 L530.0 631.1 L527.5 629.8 L526.9 629.5 L525.0 628.4 L522.5 627.1 L522.3 627.0 L520.0 625.7 L517.9 624.5 L517.5 624.2 L515.0 622.8 L513.7 622.0 L512.5 621.2 L510.0 619.7 L509.7 619.5 L507.5 618.1 L505.9 617.0 L505.0 616.4 L502.5 614.7 L502.2 614.5 L500.0 612.9 L498.7 612.0 L497.5 611.1 L495.5 609.5 L495.0 609.1 L492.5 607.0 L492.5 607.0 L490.0 604.8 L489.7 604.5 L487.5 602.4 L487.1 602.0 L485.0 599.8 L484.7 599.5 L482.5 597.0 L482.5 597.0 L480.4 594.5 L480.0 594.0 L478.4 592.0 L477.5 590.8 L476.5 589.5 L475.0 587.4 L474.7 587.0 L472.9 584.5 L472.5 583.9 L471.2 582.0 L470.0 580.2 L469.5 579.5 L467.9 577.0 L467.5 576.5 L466.2 574.5 L465.0 572.7 L464.5 572.0 L462.9 569.5 L462.5 568.9 L461.2 567.0 L460.0 565.0 L459.7 564.5 L458.2 562.0 L457.5 560.8 L456.8 559.5 L455.4 557.0 L455.0 556.2 L454.1 554.5 L452.8 552.0 L452.5 551.4 L451.5 549.5 L450.3 547.0 L450.0 546.5 L449.0 544.5 L447.8 542.0 L447.5 541.4 L446.6 539.5 L445.4 537.0 L445.0 536.3 L444.1 534.5 L442.9 532.0 L442.5 531.3 L441.6 529.5 L440.3 527.0 L440.0 526.5 L439.0 524.5 L437.6 522.0 L437.5 521.9 L436.2 519.5 L435.0 517.5 L434.7 517.0 L433.2 514.5 L432.5 513.4 L431.6 512.0 L430.0 509.6 L430.0 509.5 L428.3 507.0 L427.5 505.8 L426.6 504.5 L425.0 502.2 L424.9 502.0 L423.2 499.5 L422.5 498.5 L421.5 497.0 L420.0 494.9 L419.8 494.5 L418.1 492.0 L417.5 491.2 L416.4 489.5 L415.0 487.4 L414.7 487.0 L413.1 484.5 L412.5 483.5 L411.5 482.0 L410.0 479.5 L410.0 479.5 L408.5 477.0 L407.5 475.1 L407.1 474.5 L405.8 472.0 L405.0 470.3 L404.6 469.5 L403.5 467.0 L402.5 464.6 L402.4 464.5 L401.6 462.0 L400.9 459.5 L400.3 457.0 L400.0 455.2 L399.9 454.5 L399.5 452.0 L399.2 449.5 L399.1 447.0 L399.0 444.5 L399.1 442.0 L399.3 439.5 L399.6 437.0 L400.0 435.0 L400.1 434.5 L400.7 432.0 L401.5 429.5 L402.4 427.0 L402.5 426.8 L403.5 424.5 L404.8 422.0 L405.0 421.7 L406.4 419.5 L407.5 417.9 L408.1 417.0 L410.0 414.7 L410.2 414.5 L412.5 412.2 L412.7 412.0 L415.0 410.0 L415.7 409.5 L417.5 408.2 L419.2 407.0 L420.0 406.5 L422.5 404.9 L423.2 404.5 L425.0 403.5 L427.5 402.1 L427.8 402.0 L430.0 400.9 L432.5 399.7 L432.9 399.5 L435.0 398.6 L437.5 397.5 L438.6 397.0 L440.0 396.4 L442.5 395.5 L444.9 394.5 L445.0 394.5 L447.5 393.5 L450.0 392.6 L451.8 392.0 L452.5 391.8 L455.0 390.9 L457.5 390.1 L459.2 389.5 L460.0 389.2 L462.5 388.4 L465.0 387.6 L467.0 387.0 L467.5 386.9 L470.0 386.1 L472.5 385.4 L475.0 384.8 L476.0 384.5 L477.5 384.1 L480.0 383.5 L482.5 382.9 L485.0 382.4 L487.1 382.0 L487.5 381.9 L490.0 381.5 L492.5 381.1 L495.0 380.7 L497.5 380.4 L500.0 380.1 L502.5 379.8 L505.0 379.6 L506.6 379.5Z" fill="#f9f1e6"/><path d="M523.0 392.0 L525.0 391.7 L527.5 391.5 L530.0 391.2 L532.5 391.1 L535.0 391.0 L537.5 391.0 L540.0 391.0 L542.5 391.1 L545.0 391.2 L547.5 391.4 L550.0 391.6 L552.5 391.9 L553.0 392.0 L555.0 392.3 L557.5 392.7 L560.0 393.1 L562.5 393.6 L565.0 394.1 L566.9 394.5 L567.5 394.6 L570.0 395.2 L572.5 395.7 L575.0 396.3 L577.5 396.9 L577.9 397.0 L580.0 397.5 L582.5 398.1 L585.0 398.6 L587.5 399.2 L588.9 399.5 L590.0 399.7 L592.5 400.2 L595.0 400.8 L597.5 401.3 L600.0 401.8 L601.2 402.0 L602.5 402.2 L605.0 402.7 L607.5 403.2 L610.0 403.6 L612.5 404.0 L615.0 404.5 L615.1 404.5 L617.5 404.9 L620.0 405.3 L622.5 405.7 L625.0 406.1 L627.5 406.5 L630.0 406.9 L630.4 407.0 L632.5 407.3 L635.0 407.7 L637.5 408.1 L640.0 408.4 L642.5 408.8 L645.0 409.1 L647.5 409.5 L647.7 409.5 L650.0 409.8 L652.5 410.1 L655.0 410.4 L657.5 410.7 L660.0 410.9 L662.5 411.2 L665.0 411.3 L667.5 411.5 L670.0 411.7 L672.5 411.8 L675.0 411.9 L676.3 412.0 L677.5 412.1 L680.0 412.2 L682.5 412.3 L685.0 412.4 L687.5 412.6 L690.0 412.7 L692.5 412.9 L695.0 413.0 L697.5 413.2 L700.0 413.4 L702.5 413.7 L705.0 413.9 L707.5 414.3 L709.3 414.5 L710.0 414.6 L712.5 415.0 L715.0 415.5 L717.5 416.0 L720.0 416.5 L721.8 417.0 L722.5 417.2 L725.0 417.9 L727.5 418.7 L730.0 419.4 L730.2 419.5 L732.5 420.3 L735.0 421.1 L737.5 421.9 L737.7 422.0 L740.0 422.9 L742.5 423.9 L744.0 424.5 L745.0 425.0 L747.5 426.2 L749.0 427.0 L750.0 427.6 L752.5 429.2 L753.0 429.5 L755.0 431.0 L756.2 432.0 L757.5 433.2 L757.5 434.5 L757.5 437.0 L757.5 439.5 L757.5 442.0 L757.5 444.5 L757.5 447.0 L757.5 449.5 L757.5 452.0 L757.5 454.5 L757.5 457.0 L757.5 459.5 L757.5 462.0 L757.5 464.5 L757.5 467.0 L757.5 469.5 L757.5 472.0 L757.5 474.5 L757.5 477.0 L757.5 479.5 L757.5 482.0 L757.5 484.5 L757.5 487.0 L757.5 489.5 L757.5 492.0 L757.5 494.5 L757.5 497.0 L757.5 499.5 L757.5 502.0 L757.5 504.5 L757.5 507.0 L757.5 509.5 L757.5 512.0 L757.5 514.5 L757.5 517.0 L757.5 519.5 L757.5 522.0 L757.5 524.5 L757.5 527.0 L757.5 529.5 L757.5 532.0 L757.5 534.5 L757.5 537.0 L757.5 539.5 L757.5 542.0 L757.5 544.5 L757.5 547.0 L757.5 549.5 L757.5 552.0 L757.5 554.5 L757.5 557.0 L757.5 559.5 L757.5 562.0 L757.5 564.5 L757.5 567.0 L757.5 569.5 L757.5 572.0 L757.5 574.5 L757.5 577.0 L757.5 579.5 L757.5 582.0 L757.5 584.5 L757.5 587.0 L757.5 589.5 L757.5 592.0 L757.5 594.5 L757.5 597.0 L757.5 599.5 L757.5 602.0 L757.5 604.5 L757.5 607.0 L757.5 607.4 L755.4 609.5 L755.0 609.9 L752.5 611.8 L752.2 612.0 L750.0 613.3 L747.5 614.5 L747.4 614.5 L745.0 615.3 L742.5 616.0 L740.0 616.6 L738.1 617.0 L737.5 617.1 L735.0 617.4 L732.5 617.7 L730.0 617.9 L727.5 618.1 L725.0 618.3 L722.5 618.6 L720.0 618.8 L717.5 619.1 L715.0 619.5 L714.9 619.5 L712.5 619.8 L710.0 620.2 L707.5 620.7 L705.0 621.3 L703.1 622.0 L702.5 622.1 L700.0 622.6 L697.5 622.3 L695.0 622.0 L692.5 624.5 L692.5 624.5 L690.0 624.5 L687.5 624.5 L685.0 624.5 L682.5 627.0 L682.5 627.0 L680.0 627.0 L677.5 627.0 L675.0 629.5 L675.0 629.5 L672.5 629.5 L670.0 632.0 L670.0 632.0 L667.5 632.0 L665.0 632.0 L662.5 634.5 L662.5 634.6 L660.0 635.2 L657.5 635.9 L655.0 636.9 L654.5 637.0 L652.5 637.5 L650.0 638.0 L647.5 638.4 L645.0 638.7 L642.5 639.1 L640.0 639.3 L638.3 639.5 L637.5 639.6 L635.0 639.8 L632.5 639.9 L630.0 640.0 L627.5 640.1 L625.0 640.1 L622.5 640.2 L620.0 640.2 L617.5 640.3 L615.0 640.3 L612.5 640.2 L610.0 640.2 L607.5 640.1 L605.0 640.0 L602.5 639.8 L600.0 639.6 L599.2 639.5 L597.5 639.3 L595.0 639.0 L592.5 638.6 L590.0 638.2 L587.5 637.7 L585.0 637.2 L584.3 637.0 L582.5 636.6 L580.0 635.9 L577.5 635.1 L575.4 634.5 L575.0 634.4 L572.5 633.5 L570.0 632.6 L568.5 632.0 L567.5 631.6 L565.0 630.5 L562.7 629.5 L562.5 629.4 L560.0 628.3 L557.5 627.1 L557.4 627.0 L555.0 625.8 L552.5 624.5 L552.5 624.5 L550.0 623.2 L547.9 622.0 L547.5 621.8 L545.0 620.3 L543.5 619.5 L542.5 618.9 L540.0 617.4 L539.3 617.0 L537.5 615.9 L535.3 614.5 L535.0 614.3 L532.5 612.7 L531.5 612.0 L530.0 611.0 L527.8 609.5 L527.5 609.3 L525.0 607.6 L524.2 607.0 L522.5 605.8 L520.8 604.5 L520.0 603.9 L517.5 602.1 L517.4 602.0 L515.0 600.1 L514.2 599.5 L512.5 598.1 L511.2 597.0 L510.0 596.0 L508.3 594.5 L507.5 593.7 L505.6 592.0 L505.0 591.4 L503.1 589.5 L502.5 588.9 L500.7 587.0 L500.0 586.3 L498.3 584.5 L497.5 583.6 L496.1 582.0 L495.0 580.7 L494.0 579.5 L492.5 577.7 L491.9 577.0 L490.0 574.7 L489.9 574.5 L487.9 572.0 L487.5 571.6 L485.9 569.5 L485.0 568.4 L483.9 567.0 L482.5 565.2 L481.9 564.5 L480.0 562.0 L480.0 562.0 L478.1 559.5 L477.5 558.7 L476.3 557.0 L475.0 555.2 L474.6 554.5 L472.9 552.0 L472.5 551.5 L471.2 549.5 L470.0 547.6 L469.6 547.0 L468.1 544.5 L467.5 543.5 L466.6 542.0 L465.2 539.5 L465.0 539.2 L463.7 537.0 L462.5 534.8 L462.3 534.5 L461.0 532.0 L460.0 530.3 L459.6 529.5 L458.2 527.0 L457.5 525.7 L456.9 524.5 L455.5 522.0 L455.0 521.0 L454.2 519.5 L452.8 517.0 L452.5 516.4 L451.5 514.5 L450.1 512.0 L450.0 511.8 L448.7 509.5 L447.5 507.2 L447.4 507.0 L446.0 504.5 L445.0 502.5 L444.7 502.0 L443.5 499.5 L442.5 497.5 L442.2 497.0 L441.0 494.5 L440.0 492.2 L439.9 492.0 L438.8 489.5 L437.8 487.0 L437.5 486.3 L436.8 484.5 L435.9 482.0 L435.1 479.5 L435.0 479.3 L434.3 477.0 L433.7 474.5 L433.1 472.0 L432.7 469.5 L432.5 467.8 L432.4 467.0 L432.2 464.5 L432.2 462.0 L432.2 459.5 L432.3 457.0 L432.5 455.0 L432.6 454.5 L432.9 452.0 L433.4 449.5 L433.9 447.0 L434.7 444.5 L435.0 443.5 L435.5 442.0 L436.5 439.5 L437.5 437.4 L437.7 437.0 L439.1 434.5 L440.0 433.0 L440.6 432.0 L442.4 429.5 L442.5 429.4 L444.5 427.0 L445.0 426.4 L446.9 424.5 L447.5 423.9 L449.6 422.0 L450.0 421.7 L452.5 419.6 L452.7 419.5 L455.0 417.8 L456.0 417.0 L457.5 416.0 L459.7 414.5 L460.0 414.3 L462.5 412.8 L463.8 412.0 L465.0 411.3 L467.5 409.9 L468.2 409.5 L470.0 408.6 L472.5 407.3 L473.1 407.0 L475.0 406.1 L477.5 405.0 L478.6 404.5 L480.0 403.9 L482.5 402.9 L484.6 402.0 L485.0 401.9 L487.5 400.9 L490.0 400.0 L491.5 399.5 L492.5 399.2 L495.0 398.4 L497.5 397.6 L499.6 397.0 L500.0 396.9 L502.5 396.2 L505.0 395.6 L507.5 394.9 L509.4 394.5 L510.0 394.4 L512.5 393.8 L515.0 393.3 L517.5 392.9 L520.0 392.4 L522.5 392.1 L523.0 392.0Z" fill="#fce5c5"/><path d="M543.2 402.0 L545.0 401.6 L547.5 401.1 L550.0 400.8 L552.5 400.6 L555.0 400.4 L557.5 400.4 L560.0 400.5 L562.5 400.7 L565.0 401.0 L567.5 401.3 L570.0 401.7 L571.9 402.0 L572.5 402.1 L575.0 402.7 L577.5 403.3 L580.0 403.9 L582.5 404.4 L582.9 404.5 L585.0 405.1 L587.5 405.8 L590.0 406.4 L592.5 407.0 L592.6 407.0 L595.0 407.7 L597.5 408.3 L600.0 408.9 L602.5 409.3 L603.3 409.5 L605.0 409.9 L607.5 410.5 L610.0 410.9 L612.5 411.4 L615.0 411.8 L616.0 412.0 L617.5 412.3 L620.0 412.9 L622.5 413.3 L625.0 413.8 L627.5 414.2 L629.2 414.5 L630.0 414.7 L632.5 415.2 L635.0 415.7 L637.5 416.2 L640.0 416.7 L641.6 417.0 L642.5 417.2 L645.0 417.8 L647.5 418.3 L650.0 418.9 L652.5 419.4 L652.9 419.5 L655.0 420.0 L657.5 420.5 L660.0 421.1 L662.5 421.8 L663.5 422.0 L665.0 422.3 L667.5 422.8 L670.0 423.5 L672.5 424.2 L673.6 424.5 L675.0 424.8 L677.5 425.3 L680.0 426.0 L682.5 426.9 L682.8 427.0 L685.0 427.4 L687.5 428.0 L690.0 428.9 L691.5 429.5 L692.5 429.8 L695.0 430.3 L697.5 431.2 L699.3 432.0 L700.0 432.2 L702.5 432.7 L705.0 433.3 L707.5 434.3 L708.0 434.5 L710.0 434.8 L712.5 435.4 L715.0 436.1 L717.2 437.0 L717.5 437.1 L720.0 437.6 L722.5 438.3 L725.0 439.5 L725.0 439.5 L727.5 440.2 L730.0 441.2 L731.5 442.0 L732.5 442.4 L735.0 443.7 L736.2 444.5 L737.5 445.2 L739.7 447.0 L740.0 447.2 L742.4 449.5 L742.5 449.6 L744.6 452.0 L745.0 452.6 L746.4 454.5 L747.5 456.7 L747.7 457.0 L749.1 459.5 L749.9 462.0 L750.0 462.1 L751.1 464.5 L751.9 467.0 L752.4 469.5 L752.5 469.8 L753.3 472.0 L754.0 474.5 L754.4 477.0 L754.7 479.5 L755.0 482.0 L755.0 482.4 L755.5 484.5 L756.0 487.0 L756.4 489.5 L756.7 492.0 L756.9 494.5 L757.0 497.0 L757.1 499.5 L757.1 502.0 L757.1 504.5 L757.1 507.0 L757.0 509.5 L756.9 512.0 L756.6 514.5 L756.3 517.0 L755.6 519.5 L755.0 521.4 L754.9 522.0 L754.8 524.5 L754.5 527.0 L754.1 529.5 L753.3 532.0 L752.5 533.9 L752.4 534.5 L752.2 537.0 L751.8 539.5 L750.9 542.0 L750.0 544.0 L749.9 544.5 L749.7 547.0 L749.1 549.5 L747.6 552.0 L747.5 552.2 L747.3 554.5 L746.7 557.0 L745.0 559.5 L745.0 559.5 L744.7 562.0 L743.8 564.5 L742.5 566.5 L742.3 567.0 L741.7 569.5 L740.0 571.8 L739.9 572.0 L739.2 574.5 L737.5 576.7 L737.4 577.0 L736.4 579.5 L735.0 581.3 L734.7 582.0 L732.5 584.5 L732.5 584.5 L731.8 587.0 L730.0 589.1 L729.8 589.5 L727.9 592.0 L727.5 592.6 L726.7 594.5 L725.0 596.5 L724.7 597.0 L722.5 599.4 L722.4 599.5 L720.9 602.0 L720.0 603.0 L719.0 604.5 L717.5 606.0 L716.7 607.0 L715.0 608.8 L714.4 609.5 L712.5 611.3 L711.9 612.0 L710.0 613.7 L709.2 614.5 L707.5 615.8 L706.1 617.0 L705.0 617.6 L702.9 619.5 L702.5 619.7 L700.0 621.7 L699.5 622.0 L697.5 622.0 L695.0 622.0 L692.5 624.5 L692.5 624.5 L690.0 624.5 L687.5 624.5 L685.0 624.5 L682.5 627.0 L682.5 627.0 L680.0 627.0 L677.5 627.0 L675.0 629.5 L675.0 629.5 L672.5 629.5 L670.0 632.0 L670.0 632.0 L667.5 632.0 L665.0 632.0 L662.5 634.5 L662.5 634.5 L660.0 634.5 L657.5 634.6 L655.0 634.7 L652.5 634.8 L650.0 634.9 L647.5 635.0 L645.0 635.0 L642.5 635.0 L640.0 635.0 L637.5 634.9 L635.0 634.8 L632.5 634.7 L630.0 634.6 L627.5 634.5 L627.3 634.5 L625.0 634.1 L622.5 633.7 L620.0 633.4 L617.5 633.1 L615.0 632.8 L612.5 632.5 L610.0 632.3 L607.5 632.0 L607.4 632.0 L605.0 631.3 L602.5 630.7 L600.0 630.2 L597.5 629.7 L596.8 629.5 L595.0 628.9 L592.5 628.0 L590.0 627.2 L589.3 627.0 L587.5 626.2 L585.0 625.1 L583.5 624.5 L582.5 624.0 L580.0 622.8 L578.4 622.0 L577.5 621.5 L575.0 620.1 L573.8 619.5 L572.5 618.7 L570.0 617.3 L569.6 617.0 L567.5 615.7 L565.6 614.5 L565.0 614.1 L562.5 612.5 L561.8 612.0 L560.0 610.8 L558.1 609.5 L557.5 609.1 L555.0 607.3 L554.6 607.0 L552.5 605.5 L551.1 604.5 L550.0 603.7 L547.8 602.0 L547.5 601.8 L545.0 599.9 L544.5 599.5 L542.5 597.9 L541.4 597.0 L540.0 595.9 L538.3 594.5 L537.5 593.8 L535.4 592.0 L535.0 591.7 L532.6 589.5 L532.5 589.4 L530.0 587.3 L529.7 587.0 L527.5 585.1 L526.9 584.5 L525.0 582.8 L524.1 582.0 L522.5 580.5 L521.4 579.5 L520.0 578.2 L518.8 577.0 L517.5 575.8 L516.2 574.5 L515.0 573.3 L513.6 572.0 L512.5 570.9 L511.1 569.5 L510.0 568.4 L508.7 567.0 L507.5 565.8 L506.2 564.5 L505.0 563.3 L503.8 562.0 L502.5 560.7 L501.4 559.5 L500.0 558.1 L499.0 557.0 L497.5 555.4 L496.7 554.5 L495.0 552.6 L494.5 552.0 L492.5 549.7 L492.3 549.5 L490.2 547.0 L490.0 546.8 L488.1 544.5 L487.5 543.7 L486.2 542.0 L485.0 540.4 L484.3 539.5 L482.5 537.0 L482.5 536.9 L480.9 534.5 L480.0 533.1 L479.3 532.0 L477.8 529.5 L477.5 529.1 L476.3 527.0 L475.0 524.8 L474.8 524.5 L473.5 522.0 L472.5 520.1 L472.2 519.5 L471.0 517.0 L470.0 515.0 L469.8 514.5 L468.7 512.0 L467.7 509.5 L467.5 509.1 L466.7 507.0 L465.9 504.5 L465.2 502.0 L465.0 501.3 L464.5 499.5 L464.0 497.0 L463.5 494.5 L463.2 492.0 L463.1 489.5 L463.0 487.0 L463.0 484.5 L463.1 482.0 L463.2 479.5 L463.4 477.0 L463.8 474.5 L464.3 472.0 L465.0 469.6 L465.0 469.5 L465.4 467.0 L465.8 464.5 L466.6 462.0 L467.5 460.0 L467.6 459.5 L468.2 457.0 L469.2 454.5 L470.0 453.0 L470.3 452.0 L471.3 449.5 L472.5 447.7 L472.8 447.0 L474.0 444.5 L475.0 443.1 L475.5 442.0 L477.5 439.6 L477.5 439.5 L478.8 437.0 L480.0 435.6 L480.7 434.5 L482.5 432.5 L482.9 432.0 L485.0 429.8 L485.2 429.5 L487.5 427.2 L487.7 427.0 L490.0 424.8 L490.4 424.5 L492.5 422.6 L493.5 422.0 L495.0 420.8 L497.5 419.6 L497.7 419.5 L500.0 417.7 L502.1 417.0 L502.5 416.8 L505.0 415.1 L507.4 414.5 L507.5 414.4 L510.0 412.7 L512.5 412.1 L512.8 412.0 L515.0 410.7 L517.5 409.9 L519.3 409.5 L520.0 409.2 L522.5 407.9 L525.0 407.2 L525.9 407.0 L527.5 406.3 L530.0 405.3 L532.5 404.7 L533.4 404.5 L535.0 403.9 L537.5 403.1 L540.0 402.5 L542.5 402.1 L543.2 402.0Z" fill="#fed39c"/><path d="M546.4 409.5 L547.5 409.3 L550.0 409.0 L552.5 408.8 L555.0 408.6 L557.5 408.5 L560.0 408.5 L562.5 408.5 L565.0 408.7 L567.5 408.9 L570.0 409.3 L571.5 409.5 L572.5 409.7 L575.0 410.1 L577.5 410.7 L580.0 411.3 L582.5 411.9 L582.8 412.0 L585.0 412.6 L587.5 413.3 L590.0 414.0 L591.6 414.5 L592.5 414.8 L595.0 415.5 L597.5 416.2 L600.0 417.0 L600.2 417.0 L602.5 417.7 L605.0 418.4 L607.5 419.0 L609.4 419.5 L610.0 419.7 L612.5 420.3 L615.0 420.9 L617.5 421.5 L619.8 422.0 L620.0 422.0 L622.5 422.6 L625.0 423.1 L627.5 423.6 L630.0 424.2 L631.7 424.5 L632.5 424.7 L635.0 425.2 L637.5 425.7 L640.0 426.2 L642.5 426.7 L643.9 427.0 L645.0 427.2 L647.5 427.8 L650.0 428.3 L652.5 428.9 L655.0 429.5 L655.1 429.5 L657.5 430.1 L660.0 430.7 L662.5 431.3 L665.0 432.0 L665.1 432.0 L667.5 432.6 L670.0 433.4 L672.5 434.1 L673.9 434.5 L675.0 434.8 L677.5 435.6 L680.0 436.4 L681.8 437.0 L682.5 437.2 L685.0 438.1 L687.5 438.9 L689.2 439.5 L690.0 439.8 L692.5 440.6 L695.0 441.5 L696.7 442.0 L697.5 442.3 L700.0 443.1 L702.5 443.9 L704.2 444.5 L705.0 444.8 L707.5 445.7 L710.0 446.6 L711.1 447.0 L712.5 447.6 L715.0 448.6 L717.0 449.5 L717.5 449.7 L720.0 451.0 L721.8 452.0 L722.5 452.4 L725.0 454.0 L725.7 454.5 L727.5 455.9 L728.8 457.0 L730.0 458.0 L731.5 459.5 L732.5 460.6 L733.7 462.0 L735.0 463.5 L735.8 464.5 L737.5 466.9 L737.6 467.0 L739.2 469.5 L740.0 470.8 L740.7 472.0 L742.1 474.5 L742.5 475.3 L743.3 477.0 L744.4 479.5 L745.0 480.8 L745.5 482.0 L746.4 484.5 L747.2 487.0 L747.5 488.1 L747.9 489.5 L748.5 492.0 L749.0 494.5 L749.4 497.0 L749.7 499.5 L750.0 502.0 L750.0 502.8 L750.1 504.5 L750.1 507.0 L750.1 509.5 L750.0 512.0 L750.0 512.2 L749.8 514.5 L749.6 517.0 L749.3 519.5 L749.0 522.0 L748.6 524.5 L748.2 527.0 L747.7 529.5 L747.5 530.2 L747.1 532.0 L746.5 534.5 L745.8 537.0 L745.1 539.5 L745.0 539.9 L744.3 542.0 L743.5 544.5 L742.7 547.0 L742.5 547.6 L741.8 549.5 L740.9 552.0 L740.0 554.3 L739.9 554.5 L738.9 557.0 L737.8 559.5 L737.5 560.1 L736.6 562.0 L735.5 564.5 L735.0 565.4 L734.2 567.0 L732.9 569.5 L732.5 570.2 L731.5 572.0 L730.1 574.5 L730.0 574.7 L728.6 577.0 L727.5 578.9 L727.1 579.5 L725.5 582.0 L725.0 582.8 L723.9 584.5 L722.5 586.5 L722.2 587.0 L720.4 589.5 L720.0 590.0 L718.5 592.0 L717.5 593.3 L716.5 594.5 L715.0 596.3 L714.4 597.0 L712.5 599.2 L712.2 599.5 L710.0 601.7 L709.7 602.0 L707.5 604.0 L707.0 604.5 L705.0 606.2 L703.9 607.0 L702.5 608.1 L700.4 609.5 L700.0 609.8 L697.5 611.3 L696.2 612.0 L695.0 612.7 L692.5 613.9 L691.1 614.5 L690.0 615.0 L687.5 616.0 L685.0 616.9 L684.8 617.0 L682.5 617.8 L680.0 618.5 L677.5 619.3 L676.5 619.5 L675.0 619.9 L672.5 620.5 L670.0 621.0 L667.5 621.5 L665.0 621.9 L664.5 622.0 L662.5 622.3 L660.0 622.7 L657.5 623.0 L655.0 623.2 L652.5 623.4 L650.0 623.5 L647.5 623.5 L645.0 623.5 L642.5 623.4 L640.0 623.3 L637.5 623.1 L635.0 622.9 L632.5 622.7 L630.0 622.4 L627.5 622.1 L627.1 622.0 L625.0 621.7 L622.5 621.3 L620.0 620.9 L617.5 620.4 L615.0 619.9 L613.4 619.5 L612.5 619.3 L610.0 618.7 L607.5 618.0 L605.0 617.3 L604.1 617.0 L602.5 616.5 L600.0 615.6 L597.5 614.7 L596.9 614.5 L595.0 613.7 L592.5 612.6 L591.2 612.0 L590.0 611.5 L587.5 610.2 L586.2 609.5 L585.0 608.9 L582.5 607.5 L581.7 607.0 L580.0 606.0 L577.5 604.5 L577.5 604.5 L575.0 602.9 L573.6 602.0 L572.5 601.3 L570.0 599.6 L569.8 599.5 L567.5 597.9 L566.2 597.0 L565.0 596.1 L562.8 594.5 L562.5 594.3 L560.0 592.5 L559.4 592.0 L557.5 590.6 L556.1 589.5 L555.0 588.6 L552.9 587.0 L552.5 586.6 L550.0 584.6 L549.9 584.5 L547.5 582.5 L546.9 582.0 L545.0 580.4 L544.0 579.5 L542.5 578.2 L541.1 577.0 L540.0 576.0 L538.4 574.5 L537.5 573.7 L535.6 572.0 L535.0 571.4 L533.0 569.5 L532.5 569.0 L530.4 567.0 L530.0 566.6 L527.8 564.5 L527.5 564.2 L525.4 562.0 L525.0 561.6 L522.9 559.5 L522.5 559.1 L520.5 557.0 L520.0 556.5 L518.2 554.5 L517.5 553.8 L515.9 552.0 L515.0 551.0 L513.6 549.5 L512.5 548.2 L511.5 547.0 L510.0 545.3 L509.3 544.5 L507.5 542.2 L507.3 542.0 L505.4 539.5 L505.0 539.0 L503.5 537.0 L502.5 535.6 L501.7 534.5 L500.0 532.0 L500.0 532.0 L498.3 529.5 L497.5 528.2 L496.8 527.0 L495.2 524.5 L495.0 524.1 L493.8 522.0 L492.5 519.8 L492.3 519.5 L491.0 517.0 L490.0 515.1 L489.7 514.5 L488.5 512.0 L487.5 509.8 L487.4 509.5 L486.3 507.0 L485.4 504.5 L485.0 503.4 L484.5 502.0 L483.7 499.5 L483.1 497.0 L482.6 494.5 L482.5 494.0 L482.2 492.0 L481.9 489.5 L481.7 487.0 L481.7 484.5 L481.7 482.0 L481.8 479.5 L482.0 477.0 L482.2 474.5 L482.5 472.1 L482.5 472.0 L482.8 469.5 L483.2 467.0 L483.6 464.5 L484.1 462.0 L484.6 459.5 L485.0 457.8 L485.2 457.0 L485.9 454.5 L486.6 452.0 L487.5 449.5 L487.5 449.4 L488.4 447.0 L489.5 444.5 L490.0 443.4 L490.6 442.0 L491.8 439.5 L492.5 438.2 L493.1 437.0 L494.6 434.5 L495.0 433.8 L496.2 432.0 L497.5 430.5 L498.3 429.5 L500.0 427.9 L500.9 427.0 L502.5 425.8 L504.3 424.5 L505.0 424.0 L507.5 422.4 L508.3 422.0 L510.0 421.1 L512.5 419.8 L513.1 419.5 L515.0 418.6 L517.5 417.5 L518.8 417.0 L520.0 416.5 L522.5 415.6 L525.0 414.7 L525.7 414.5 L527.5 413.9 L530.0 413.2 L532.5 412.5 L534.3 412.0 L535.0 411.8 L537.5 411.2 L540.0 410.6 L542.5 410.2 L545.0 409.7 L546.4 409.5Z" fill="#fdbf72"/><path d="M547.0 417.0 L547.5 416.9 L550.0 416.8 L552.5 416.7 L555.0 416.7 L557.5 416.6 L560.0 416.6 L562.5 416.6 L565.0 416.7 L567.5 416.8 L570.0 417.0 L570.2 417.0 L572.5 417.4 L575.0 418.0 L577.5 418.5 L580.0 419.0 L582.5 419.4 L582.9 419.5 L585.0 420.3 L587.5 421.1 L590.0 421.7 L591.0 422.0 L592.5 422.6 L595.0 423.5 L597.5 424.2 L598.5 424.5 L600.0 425.1 L602.5 426.0 L605.0 426.8 L605.8 427.0 L607.5 427.7 L610.0 428.5 L612.5 429.2 L613.4 429.5 L615.0 430.0 L617.5 430.8 L620.0 431.5 L622.5 432.0 L622.5 432.0 L625.0 432.7 L627.5 433.3 L630.0 433.8 L632.5 434.3 L633.8 434.5 L635.0 434.8 L637.5 435.3 L640.0 435.8 L642.5 436.3 L645.0 436.8 L646.2 437.0 L647.5 437.3 L650.0 437.9 L652.5 438.5 L655.0 439.1 L657.1 439.5 L657.5 439.6 L660.0 440.4 L662.5 441.2 L665.0 441.8 L665.5 442.0 L667.5 442.7 L670.0 443.6 L672.5 444.4 L672.9 444.5 L675.0 445.3 L677.5 446.2 L679.8 447.0 L680.0 447.1 L682.5 448.1 L685.0 449.0 L686.2 449.5 L687.5 450.0 L690.0 451.1 L692.3 452.0 L692.5 452.1 L695.0 453.2 L697.5 454.3 L697.9 454.5 L700.0 455.5 L702.5 456.7 L703.0 457.0 L705.0 458.1 L707.5 459.4 L707.6 459.5 L710.0 460.9 L711.8 462.0 L712.5 462.5 L715.0 464.2 L715.5 464.5 L717.5 465.9 L719.0 467.0 L720.0 467.8 L722.2 469.5 L722.5 469.7 L725.0 471.8 L725.2 472.0 L727.5 474.1 L727.9 474.5 L730.0 476.6 L730.3 477.0 L732.5 479.3 L732.6 479.5 L734.6 482.0 L735.0 482.6 L736.1 484.5 L737.5 486.4 L737.8 487.0 L738.9 489.5 L740.0 491.4 L740.2 492.0 L740.8 494.5 L741.7 497.0 L742.5 499.1 L742.6 499.5 L742.8 502.0 L743.0 504.5 L743.1 507.0 L743.2 509.5 L743.2 512.0 L743.2 514.5 L743.1 517.0 L742.9 519.5 L742.8 522.0 L742.6 524.5 L742.5 527.0 L742.5 527.0 L741.5 529.5 L740.8 532.0 L740.3 534.5 L740.0 537.0 L740.0 537.0 L738.5 539.5 L737.8 542.0 L737.5 543.3 L736.9 544.5 L735.6 547.0 L735.0 549.5 L735.0 549.6 L733.4 552.0 L732.6 554.5 L732.5 554.8 L731.0 557.0 L730.1 559.5 L730.0 559.7 L728.4 562.0 L727.5 564.5 L727.5 564.5 L725.6 567.0 L725.0 568.6 L724.4 569.5 L722.9 572.0 L722.5 572.7 L721.2 574.5 L720.1 577.0 L720.0 577.1 L718.0 579.5 L717.5 580.4 L716.2 582.0 L715.0 584.2 L714.8 584.5 L712.7 587.0 L712.5 587.2 L710.4 589.5 L710.0 589.9 L708.0 592.0 L707.5 592.5 L705.4 594.5 L705.0 594.9 L702.6 597.0 L702.5 597.1 L700.0 598.4 L698.5 599.5 L697.5 600.0 L695.0 601.4 L693.9 602.0 L692.5 602.5 L690.0 603.5 L687.8 604.5 L687.5 604.6 L685.0 605.2 L682.5 605.9 L680.0 606.7 L678.9 607.0 L677.5 607.3 L675.0 607.8 L672.5 608.3 L670.0 608.8 L667.5 609.3 L666.3 609.5 L665.0 609.7 L662.5 609.9 L660.0 610.2 L657.5 610.4 L655.0 610.6 L652.5 610.8 L650.0 610.9 L647.5 611.0 L645.0 611.0 L642.5 611.0 L640.0 610.9 L637.5 610.8 L635.0 610.6 L632.5 610.4 L630.0 610.0 L627.5 609.7 L626.7 609.5 L625.0 609.2 L622.5 608.6 L620.0 608.0 L617.5 607.3 L616.6 607.0 L615.0 606.5 L612.5 605.7 L610.0 604.7 L609.6 604.5 L607.5 603.7 L605.0 602.7 L603.5 602.0 L602.5 601.6 L600.0 600.4 L598.3 599.5 L597.5 599.1 L595.0 597.9 L593.5 597.0 L592.5 596.5 L590.0 595.0 L589.2 594.5 L587.5 593.5 L585.3 592.0 L585.0 591.8 L582.5 590.3 L581.3 589.5 L580.0 588.7 L577.8 587.0 L577.5 586.8 L575.0 585.1 L574.2 584.5 L572.5 583.4 L570.7 582.0 L570.0 581.5 L567.6 579.5 L567.5 579.4 L565.0 577.6 L564.3 577.0 L562.5 575.7 L561.1 574.5 L560.0 573.6 L558.1 572.0 L557.5 571.5 L555.3 569.5 L555.0 569.3 L552.5 567.0 L552.5 567.0 L550.0 564.8 L549.7 564.5 L547.5 562.5 L546.9 562.0 L545.0 560.2 L544.3 559.5 L542.5 557.7 L541.8 557.0 L540.0 555.2 L539.3 554.5 L537.5 552.5 L537.0 552.0 L535.0 549.8 L534.7 549.5 L532.6 547.0 L532.5 546.9 L530.4 544.5 L530.0 544.0 L528.3 542.0 L527.5 541.0 L526.2 539.5 L525.0 537.8 L524.4 537.0 L522.6 534.5 L522.5 534.4 L520.7 532.0 L520.0 531.0 L518.9 529.5 L517.5 527.2 L517.4 527.0 L515.7 524.5 L515.0 523.4 L514.0 522.0 L512.6 519.5 L512.5 519.3 L511.0 517.0 L510.0 515.1 L509.6 514.5 L508.2 512.0 L507.5 510.5 L506.9 509.5 L505.7 507.0 L505.0 505.5 L504.6 504.5 L503.5 502.0 L502.5 499.5 L502.5 499.4 L501.7 497.0 L501.0 494.5 L500.5 492.0 L500.1 489.5 L500.0 488.7 L499.8 487.0 L499.6 484.5 L499.5 482.0 L499.4 479.5 L499.4 477.0 L499.4 474.5 L499.3 472.0 L499.3 469.5 L499.3 467.0 L499.3 464.5 L499.4 462.0 L499.6 459.5 L499.8 457.0 L500.0 454.5 L500.0 454.4 L500.5 452.0 L501.1 449.5 L501.7 447.0 L502.1 444.5 L502.5 442.0 L502.5 442.0 L503.6 439.5 L504.6 437.0 L505.0 436.1 L506.1 434.5 L507.5 432.5 L508.0 432.0 L510.0 430.4 L511.1 429.5 L512.5 428.6 L514.6 427.0 L515.0 426.8 L517.5 425.6 L519.2 424.5 L520.0 424.2 L522.5 423.3 L524.7 422.0 L525.0 421.9 L527.5 421.4 L530.0 420.6 L532.4 419.5 L532.5 419.5 L535.0 419.2 L537.5 418.8 L540.0 418.4 L542.5 417.9 L545.0 417.4 L547.0 417.0Z" fill="#f3a649"/><path d="M556.8 432.0 L557.5 431.9 L560.0 431.7 L562.5 431.5 L565.0 431.4 L567.5 431.3 L570.0 431.3 L572.5 431.4 L575.0 431.5 L577.5 431.7 L580.0 431.9 L580.7 432.0 L582.5 432.3 L585.0 432.7 L587.5 433.2 L590.0 433.8 L592.5 434.5 L592.6 434.5 L595.0 435.2 L597.5 435.9 L600.0 436.7 L600.9 437.0 L602.5 437.5 L605.0 438.3 L607.5 439.1 L608.6 439.5 L610.0 440.0 L612.5 440.8 L615.0 441.5 L616.7 442.0 L617.5 442.2 L620.0 442.9 L622.5 443.6 L625.0 444.2 L626.5 444.5 L627.5 444.7 L630.0 445.3 L632.5 445.9 L635.0 446.4 L637.5 447.0 L637.6 447.0 L640.0 447.5 L642.5 448.1 L645.0 448.7 L647.5 449.3 L648.3 449.5 L650.0 449.9 L652.5 450.6 L655.0 451.3 L657.2 452.0 L657.5 452.1 L660.0 452.9 L662.5 453.8 L664.6 454.5 L665.0 454.6 L667.5 455.5 L670.0 456.5 L671.4 457.0 L672.5 457.4 L675.0 458.4 L677.5 459.4 L677.7 459.5 L680.0 460.5 L682.5 461.6 L683.4 462.0 L685.0 462.7 L687.5 463.9 L688.7 464.5 L690.0 465.1 L692.5 466.5 L693.5 467.0 L695.0 467.9 L697.5 469.4 L697.7 469.5 L700.0 471.0 L701.4 472.0 L702.5 472.8 L704.8 474.5 L705.0 474.6 L707.5 476.7 L707.9 477.0 L710.0 478.9 L710.6 479.5 L712.5 481.4 L713.1 482.0 L715.0 484.1 L715.4 484.5 L717.4 487.0 L717.5 487.2 L719.1 489.5 L720.0 491.0 L720.6 492.0 L721.9 494.5 L722.5 495.9 L723.0 497.0 L723.9 499.5 L724.6 502.0 L725.0 504.0 L725.1 504.5 L725.5 507.0 L725.8 509.5 L725.9 512.0 L726.0 514.5 L725.9 517.0 L725.8 519.5 L725.5 522.0 L725.2 524.5 L725.0 525.8 L724.8 527.0 L724.3 529.5 L723.6 532.0 L722.8 534.5 L722.5 535.4 L721.9 537.0 L720.9 539.5 L720.0 541.6 L719.8 542.0 L718.6 544.5 L717.5 546.7 L717.3 547.0 L716.0 549.5 L715.0 551.2 L714.5 552.0 L713.1 554.5 L712.5 555.4 L711.5 557.0 L710.0 559.3 L709.9 559.5 L708.2 562.0 L707.5 562.9 L706.4 564.5 L705.0 566.3 L704.5 567.0 L702.5 569.5 L702.5 569.5 L700.4 572.0 L700.0 572.4 L698.1 574.5 L697.5 575.2 L695.7 577.0 L695.0 577.7 L693.1 579.5 L692.5 580.0 L690.1 582.0 L690.0 582.1 L687.5 584.0 L686.7 584.5 L685.0 585.6 L682.7 587.0 L682.5 587.1 L680.0 588.4 L677.8 589.5 L677.5 589.6 L675.0 590.7 L672.5 591.6 L671.5 592.0 L670.0 592.5 L667.5 593.3 L665.0 594.1 L663.4 594.5 L662.5 594.7 L660.0 595.3 L657.5 595.8 L655.0 596.2 L652.5 596.6 L650.0 596.9 L649.4 597.0 L647.5 597.2 L645.0 597.4 L642.5 597.6 L640.0 597.7 L637.5 597.7 L635.0 597.7 L632.5 597.6 L630.0 597.4 L627.5 597.1 L626.7 597.0 L625.0 596.8 L622.5 596.3 L620.0 595.7 L617.5 595.0 L615.8 594.5 L615.0 594.2 L612.5 593.4 L610.0 592.4 L609.0 592.0 L607.5 591.4 L605.0 590.3 L603.3 589.5 L602.5 589.1 L600.0 587.9 L598.2 587.0 L597.5 586.6 L595.0 585.2 L593.7 584.5 L592.5 583.8 L590.0 582.2 L589.6 582.0 L587.5 580.6 L585.8 579.5 L585.0 578.9 L582.5 577.2 L582.2 577.0 L580.0 575.4 L578.8 574.5 L577.5 573.5 L575.6 572.0 L575.0 571.5 L572.5 569.5 L572.5 569.5 L570.0 567.4 L569.5 567.0 L567.5 565.2 L566.7 564.5 L565.0 563.0 L563.9 562.0 L562.5 560.7 L561.2 559.5 L560.0 558.4 L558.6 557.0 L557.5 555.9 L556.1 554.5 L555.0 553.4 L553.6 552.0 L552.5 550.8 L551.2 549.5 L550.0 548.1 L548.9 547.0 L547.5 545.4 L546.7 544.5 L545.0 542.5 L544.6 542.0 L542.5 539.5 L542.5 539.5 L540.5 537.0 L540.0 536.3 L538.6 534.5 L537.5 533.0 L536.8 532.0 L535.0 529.5 L535.0 529.5 L533.4 527.0 L532.5 525.6 L531.8 524.5 L530.3 522.0 L530.0 521.5 L528.9 519.5 L527.5 517.0 L527.5 516.9 L526.3 514.5 L525.1 512.0 L525.0 511.7 L524.0 509.5 L523.0 507.0 L522.5 505.7 L522.0 504.5 L521.2 502.0 L520.4 499.5 L520.0 497.7 L519.8 497.0 L519.3 494.5 L518.9 492.0 L518.5 489.5 L518.2 487.0 L518.0 484.5 L517.8 482.0 L517.6 479.5 L517.5 478.8 L517.4 477.0 L517.2 474.5 L517.1 472.0 L517.1 469.5 L517.1 467.0 L517.2 464.5 L517.4 462.0 L517.5 461.2 L517.7 459.5 L517.9 457.0 L518.3 454.5 L518.7 452.0 L519.3 449.5 L520.0 447.5 L520.2 447.0 L521.7 444.5 L522.5 443.5 L524.0 442.0 L525.0 441.3 L527.5 439.7 L527.8 439.5 L530.0 438.4 L532.5 437.4 L533.5 437.0 L535.0 436.5 L537.5 435.7 L540.0 435.0 L542.1 434.5 L542.5 434.4 L545.0 433.8 L547.5 433.3 L550.0 432.9 L552.5 432.5 L555.0 432.2 L556.8 432.0Z" fill="#e3881d"/><path d="M567.0 447.0 L567.5 446.9 L570.0 446.8 L572.5 446.6 L575.0 446.5 L577.5 446.4 L580.0 446.4 L582.5 446.4 L585.0 446.5 L587.5 446.6 L590.0 446.8 L591.4 447.0 L592.5 447.2 L595.0 447.7 L597.5 448.3 L600.0 448.9 L602.5 449.4 L602.8 449.5 L605.0 450.2 L607.5 451.0 L610.0 451.7 L611.2 452.0 L612.5 452.4 L615.0 453.2 L617.5 453.9 L620.0 454.5 L620.1 454.5 L622.5 455.2 L625.0 455.9 L627.5 456.5 L630.0 457.0 L630.0 457.0 L632.5 457.7 L635.0 458.4 L637.5 459.0 L639.7 459.5 L640.0 459.6 L642.5 460.3 L645.0 461.0 L647.5 461.7 L648.6 462.0 L650.0 462.5 L652.5 463.3 L655.0 464.1 L656.2 464.5 L657.5 465.0 L660.0 466.0 L662.5 466.9 L662.8 467.0 L665.0 468.0 L667.5 469.0 L668.8 469.5 L670.0 470.1 L672.5 471.2 L674.3 472.0 L675.0 472.3 L677.5 473.6 L679.2 474.5 L680.0 474.9 L682.5 476.4 L683.5 477.0 L685.0 478.0 L687.3 479.5 L687.5 479.6 L690.0 481.6 L690.5 482.0 L692.5 483.8 L693.2 484.5 L695.0 486.3 L695.7 487.0 L697.5 489.0 L697.9 489.5 L700.0 492.0 L700.0 492.1 L701.6 494.5 L702.5 496.0 L703.1 497.0 L704.4 499.5 L705.0 500.8 L705.5 502.0 L706.3 504.5 L707.1 507.0 L707.5 508.9 L707.6 509.5 L707.9 512.0 L708.0 514.5 L708.1 517.0 L708.0 519.5 L707.8 522.0 L707.5 524.5 L707.5 524.7 L707.0 527.0 L706.3 529.5 L705.5 532.0 L705.0 533.5 L704.6 534.5 L703.3 537.0 L702.5 538.7 L702.1 539.5 L700.6 542.0 L700.0 542.9 L698.9 544.5 L697.5 546.7 L697.3 547.0 L695.4 549.5 L695.0 550.0 L693.4 552.0 L692.5 553.0 L691.2 554.5 L690.0 555.8 L688.9 557.0 L687.5 558.4 L686.3 559.5 L685.0 560.8 L683.6 562.0 L682.5 563.0 L680.7 564.5 L680.0 565.1 L677.6 567.0 L677.5 567.0 L675.0 569.0 L674.3 569.5 L672.5 570.8 L670.8 572.0 L670.0 572.6 L667.5 574.2 L667.1 574.5 L665.0 575.7 L662.8 577.0 L662.5 577.2 L660.0 578.4 L657.6 579.5 L657.5 579.5 L655.0 580.4 L652.5 581.3 L650.1 582.0 L650.0 582.0 L647.5 582.6 L645.0 583.0 L642.5 583.5 L640.0 583.8 L637.5 584.1 L635.0 584.4 L632.7 584.5 L632.5 584.5 L630.0 584.5 L629.0 584.5 L627.5 584.4 L625.0 584.2 L622.5 583.8 L620.0 583.2 L617.5 582.6 L615.0 582.0 L614.9 582.0 L612.5 581.0 L610.0 580.0 L608.6 579.5 L607.5 579.0 L605.0 577.8 L603.0 577.0 L602.5 576.7 L600.0 575.4 L598.3 574.5 L597.5 574.1 L595.0 572.5 L594.1 572.0 L592.5 570.9 L590.2 569.5 L590.0 569.4 L587.5 567.5 L586.8 567.0 L585.0 565.5 L583.7 564.5 L582.5 563.5 L580.6 562.0 L580.0 561.5 L577.7 559.5 L577.5 559.3 L575.0 557.0 L575.0 557.0 L572.5 554.6 L572.4 554.5 L570.0 552.1 L569.9 552.0 L567.5 549.5 L567.5 549.4 L565.3 547.0 L565.0 546.7 L563.0 544.5 L562.5 543.9 L560.9 542.0 L560.0 541.0 L558.8 539.5 L557.5 538.0 L556.7 537.0 L555.0 534.9 L554.6 534.5 L552.7 532.0 L552.5 531.7 L551.0 529.5 L550.0 528.1 L549.3 527.0 L547.7 524.5 L547.5 524.2 L546.4 522.0 L545.0 519.5 L545.0 519.5 L544.0 517.0 L542.9 514.5 L542.5 513.3 L542.1 512.0 L541.3 509.5 L540.5 507.0 L540.0 505.1 L539.8 504.5 L539.2 502.0 L538.7 499.5 L538.1 497.0 L537.5 494.7 L537.5 494.5 L537.0 492.0 L536.6 489.5 L536.1 487.0 L535.7 484.5 L535.4 482.0 L535.0 479.5 L535.0 479.0 L534.9 477.0 L534.8 474.5 L534.8 472.0 L534.7 469.5 L534.7 467.0 L534.8 464.5 L534.9 462.0 L535.0 461.2 L535.4 459.5 L536.3 457.0 L537.5 454.8 L537.7 454.5 L540.0 452.8 L541.3 452.0 L542.5 451.5 L545.0 450.7 L547.5 450.0 L549.4 449.5 L550.0 449.4 L552.5 449.1 L555.0 448.7 L557.5 448.4 L560.0 448.0 L562.5 447.6 L565.0 447.2 L567.0 447.0Z" fill="#ce720f"/><path d="M572.7 467.0 L575.0 466.6 L577.5 466.2 L580.0 465.9 L582.5 465.6 L585.0 465.3 L587.5 465.1 L590.0 465.0 L592.5 464.9 L595.0 464.9 L597.5 465.0 L600.0 465.2 L602.5 465.5 L605.0 465.9 L607.5 466.4 L610.0 466.9 L610.5 467.0 L612.5 467.4 L615.0 468.0 L617.5 468.5 L620.0 469.1 L622.0 469.5 L622.5 469.6 L625.0 470.1 L627.5 470.7 L630.0 471.3 L632.5 471.9 L633.0 472.0 L635.0 472.5 L637.5 473.2 L640.0 473.9 L642.1 474.5 L642.5 474.6 L645.0 475.4 L647.5 476.3 L649.4 477.0 L650.0 477.3 L652.5 478.3 L655.0 479.4 L655.2 479.5 L657.5 480.6 L660.0 481.9 L660.2 482.0 L662.5 483.3 L664.4 484.5 L665.0 484.9 L667.5 486.6 L668.0 487.0 L670.0 488.6 L671.1 489.5 L672.5 490.8 L673.8 492.0 L675.0 493.3 L676.1 494.5 L677.5 496.2 L678.1 497.0 L679.9 499.5 L680.0 499.6 L681.5 502.0 L682.5 503.9 L682.8 504.5 L683.9 507.0 L684.7 509.5 L685.0 510.5 L685.4 512.0 L685.8 514.5 L686.0 517.0 L686.0 519.5 L685.8 522.0 L685.4 524.5 L685.0 526.2 L684.8 527.0 L684.0 529.5 L682.9 532.0 L682.5 532.8 L681.6 534.5 L680.2 537.0 L680.0 537.3 L678.6 539.5 L677.5 541.1 L676.8 542.0 L675.0 544.3 L674.9 544.5 L672.7 547.0 L672.5 547.2 L670.2 549.5 L670.0 549.7 L667.6 552.0 L667.5 552.0 L665.0 554.2 L664.6 554.5 L662.5 556.1 L661.2 557.0 L660.0 557.9 L657.5 559.5 L657.5 559.5 L655.0 560.9 L652.9 562.0 L652.5 562.2 L650.0 563.3 L647.5 564.2 L646.6 564.5 L645.0 565.0 L642.5 565.6 L640.0 566.1 L637.5 566.5 L635.0 566.9 L633.6 567.0 L632.5 567.1 L630.0 567.2 L627.5 567.3 L625.0 567.2 L622.5 567.0 L622.5 567.0 L620.0 566.6 L617.5 566.1 L615.0 565.5 L612.5 564.7 L612.0 564.5 L610.0 563.8 L607.5 562.8 L605.9 562.0 L605.0 561.6 L602.5 560.3 L601.1 559.5 L600.0 558.8 L597.5 557.2 L597.3 557.0 L595.0 555.3 L593.9 554.5 L592.5 553.4 L590.8 552.0 L590.0 551.3 L588.0 549.5 L587.5 549.0 L585.4 547.0 L585.0 546.6 L582.9 544.5 L582.5 544.1 L580.5 542.0 L580.0 541.5 L578.2 539.5 L577.5 538.7 L576.1 537.0 L575.0 535.7 L574.0 534.5 L572.5 532.5 L572.1 532.0 L570.3 529.5 L570.0 529.1 L568.6 527.0 L567.5 525.2 L567.1 524.5 L565.7 522.0 L565.0 520.5 L564.5 519.5 L563.5 517.0 L562.6 514.5 L562.5 514.1 L561.9 512.0 L561.2 509.5 L560.6 507.0 L560.1 504.5 L560.0 504.1 L559.6 502.0 L559.1 499.5 L558.7 497.0 L558.3 494.5 L558.0 492.0 L557.8 489.5 L557.7 487.0 L557.6 484.5 L557.7 482.0 L557.9 479.5 L558.2 477.0 L558.9 474.5 L560.0 472.3 L560.2 472.0 L562.5 470.0 L563.5 469.5 L565.0 468.8 L567.5 468.1 L570.0 467.5 L572.5 467.0 L572.7 467.0Z" fill="#b65a07"/><path d="M595.7 484.5 L597.5 484.4 L600.0 484.2 L602.5 484.1 L605.0 483.9 L607.5 483.8 L610.0 483.8 L612.5 483.8 L615.0 483.9 L617.5 484.0 L620.0 484.2 L622.5 484.3 L625.0 484.5 L625.2 484.5 L627.5 485.5 L630.0 486.2 L632.5 486.7 L635.0 486.9 L635.2 487.0 L637.5 488.4 L640.0 489.2 L641.3 489.5 L642.5 490.2 L645.0 491.7 L645.6 492.0 L647.5 493.6 L648.8 494.5 L650.0 495.6 L651.5 497.0 L652.5 498.1 L653.6 499.5 L655.0 501.1 L655.7 502.0 L657.5 504.1 L657.8 504.5 L659.6 507.0 L660.0 507.6 L660.7 509.5 L662.5 512.0 L662.5 512.0 L662.9 514.5 L663.3 517.0 L663.4 519.5 L663.1 522.0 L662.8 524.5 L662.5 526.1 L662.1 527.0 L660.6 529.5 L660.0 531.6 L659.8 532.0 L657.8 534.5 L657.5 535.0 L655.7 537.0 L655.0 537.8 L653.4 539.5 L652.5 540.3 L650.7 542.0 L650.0 542.5 L647.7 544.5 L647.5 544.6 L645.0 545.5 L642.7 547.0 L642.5 547.1 L640.0 547.4 L637.5 547.9 L635.0 548.7 L632.6 549.5 L632.5 549.5 L630.0 549.6 L627.5 549.7 L625.0 549.7 L622.5 549.7 L620.0 549.6 L617.5 549.5 L617.4 549.5 L615.0 548.5 L612.5 547.7 L610.0 547.2 L609.4 547.0 L607.5 545.7 L605.0 544.6 L604.8 544.5 L602.5 542.4 L601.9 542.0 L600.0 540.2 L599.2 539.5 L597.5 537.9 L596.6 537.0 L595.0 535.4 L594.2 534.5 L592.5 532.7 L591.9 532.0 L590.0 529.9 L589.7 529.5 L587.5 527.0 L587.5 527.0 L586.7 524.5 L585.0 522.2 L584.9 522.0 L584.4 519.5 L583.6 517.0 L582.5 514.7 L582.5 514.5 L582.2 512.0 L582.0 509.5 L581.7 507.0 L581.5 504.5 L581.2 502.0 L581.0 499.5 L581.0 497.0 L581.3 494.5 L581.9 492.0 L582.5 489.9 L582.8 489.5 L585.0 488.0 L586.5 487.0 L587.5 486.7 L590.0 486.2 L592.5 485.5 L595.0 484.6 L595.7 484.5Z" fill="#9c4b07"/></g>
<use href="#grid"/><use href="#coast"/>
</g>
<circle cx="569.4" cy="410.9" r="8.4" fill="#008000" stroke="#000" stroke-width="1.9"/>
<circle cx="384.0" cy="426.5" r="365.3" fill="none" stroke="#000" stroke-width="2.4"/>
<rect x="803.25" y="171.50" width="25.10" height="25.84" fill="#7f3b08"/>
<rect x="803.25" y="197.03" width="25.10" height="25.84" fill="#9c4b07"/>
<rect x="803.25" y="222.57" width="25.10" height="25.84" fill="#b65a07"/>
<rect x="803.25" y="248.11" width="25.10" height="25.84" fill="#ce720f"/>
<rect x="803.25" y="273.64" width="25.10" height="25.84" fill="#e3881d"/>
<rect x="803.25" y="299.18" width="25.10" height="25.84" fill="#f3a649"/>
<rect x="803.25" y="324.71" width="25.10" height="25.84" fill="#fdbf72"/>
<rect x="803.25" y="350.25" width="25.10" height="25.84" fill="#fed39c"/>
<rect x="803.25" y="375.78" width="25.10" height="25.84" fill="#fce5c5"/>
<rect x="803.25" y="401.32" width="25.10" height="25.84" fill="#f9f1e6"/>
<rect x="803.25" y="426.85" width="25.10" height="25.84" fill="#eeeef3"/>
<rect x="803.25" y="452.39" width="25.10" height="25.84" fill="#dee0ed"/>
<rect x="803.25" y="477.92" width="25.10" height="25.84" fill="#cbc9e2"/>
<rect x="803.25" y="503.46" width="25.10" height="25.84" fill="#b7b1d5"/>
<rect x="803.25" y="528.99" width="25.10" height="25.84" fill="#9f96c4"/>
<rect x="803.25" y="554.53" width="25.10" height="25.84" fill="#8477af"/>
<rect x="803.25" y="580.06" width="25.10" height="25.84" fill="#6d529c"/>
<rect x="803.25" y="605.60" width="25.10" height="25.84" fill="#552889"/>
<rect x="803.25" y="631.13" width="25.10" height="25.84" fill="#41146a"/>
<rect x="803.25" y="656.67" width="25.10" height="25.84" fill="#2d004b"/>
<rect x="803.25" y="171.5" width="25.10" height="510.70" fill="none" stroke="#000" stroke-width="2.5"/>
<path d="M828.35 171.50 H837.35" stroke="#000" stroke-width="2.2"/>
<text x="845.5" y="184.30" font-family="Liberation Sans, sans-serif" font-size="36">200</text>
<path d="M828.35 299.18 H837.35" stroke="#000" stroke-width="2.2"/>
<text x="845.5" y="311.98" font-family="Liberation Sans, sans-serif" font-size="36">100</text>
<path d="M828.35 426.85 H837.35" stroke="#000" stroke-width="2.2"/>
<text x="845.5" y="439.65" font-family="Liberation Sans, sans-serif" font-size="36">0</text>
<path d="M828.35 554.53 H837.35" stroke="#000" stroke-width="2.2"/>
<text x="845.5" y="567.33" font-family="Liberation Sans, sans-serif" font-size="36">−100</text>
<path d="M828.35 682.20 H837.35" stroke="#000" stroke-width="2.2"/>
<text x="845.5" y="695.00" font-family="Liberation Sans, sans-serif" font-size="36">−200</text>
<text transform="translate(959.5,427.0) rotate(-90)" x="0" y="0" font-family="Liberation Sans, sans-serif" font-size="35" text-anchor="middle">Mean 500 hPa GPH anomaly (m)</text>
</g>
<g transform="translate(1082.5,876.5)">
<text x="384.5" y="47" font-family="Liberation Sans, sans-serif" font-size="42.5" text-anchor="middle">SON</text>
<g clip-path="url(#cc)">
<rect x="0" y="0" width="800" height="820" fill="#f6f6f7"/><path d="M0.0 0.0 L382.0 0.0 L382.0 800.0 L0.0 800.0Z" fill="#faecd7"/><path d="M156.7 134.5 C173.4 133.4 199.3 141.9 214.5 147.8 C229.7 153.7 240.4 161.5 247.8 170.0 C255.2 178.5 257.0 184.8 258.9 198.9 C260.8 213.0 256.7 241.5 258.9 254.5 C261.1 267.5 266.6 270.0 272.2 276.7 C277.8 283.4 285.2 287.1 292.2 294.5 C299.2 301.9 308.8 311.1 314.4 321.1 C319.9 331.1 321.8 341.2 325.5 354.4 C329.2 367.5 334.8 388.4 336.7 400.0 C338.6 411.6 337.8 416.2 336.7 423.9 C335.6 431.6 335.6 440.3 330.0 446.2 C324.4 452.1 311.4 456.2 303.3 459.5 C295.2 462.8 292.2 465.1 281.1 466.2 C270.0 467.3 247.8 465.5 236.7 466.2 C225.6 466.9 221.9 468.6 214.5 470.6 C207.1 472.6 203.3 478.4 192.2 478.4 C181.1 478.4 161.5 477.5 147.8 470.6 C134.1 463.8 118.9 445.1 110.0 437.3 C101.1 429.5 101.2 428.4 94.5 423.9 C87.8 419.3 75.2 419.7 70.0 410.0 C64.8 400.3 64.5 384.0 63.4 365.5 C62.3 347.0 63.0 318.1 63.4 298.9 C63.8 279.6 62.6 266.7 65.6 250.0 C68.6 233.3 73.0 214.8 81.2 198.9 C89.4 183.0 101.9 165.2 114.5 154.5 C127.1 143.8 140.0 135.6 156.7 134.5Z" fill="#e7e8f1"/><path d="M130.0 321.1 C133.7 313.7 141.1 304.8 147.8 298.9 C154.5 293.0 160.8 287.5 170.0 285.6 C179.2 283.8 192.9 284.5 203.3 287.8 C213.7 291.1 225.2 298.1 232.2 305.5 C239.2 312.9 242.9 322.9 245.5 332.2 C248.1 341.5 249.3 351.8 247.8 361.1 C246.3 370.4 242.2 380.0 236.7 387.8 C231.1 395.6 223.8 404.0 214.5 407.7 C205.2 411.4 192.2 412.2 181.1 410.0 C170.0 407.8 156.3 401.9 147.8 394.5 C139.3 387.1 133.7 374.0 130.0 365.5 C126.3 357.0 125.6 350.7 125.6 343.3 C125.6 335.9 126.3 328.5 130.0 321.1Z" fill="#d8daeb"/><path d="M96.7 619.5 C100.0 612.5 106.0 600.2 114.5 595.0 C123.0 589.8 136.7 588.0 147.8 588.4 C158.9 588.8 170.0 593.5 181.1 597.2 C192.2 600.9 206.7 604.7 214.5 610.6 C222.3 616.5 226.3 625.4 227.8 632.8 C229.3 640.2 227.4 648.0 223.3 655.0 C219.2 662.0 212.2 670.5 203.3 675.0 C194.4 679.5 181.1 681.3 170.0 681.7 C158.9 682.1 147.1 680.9 136.7 677.2 C126.3 673.5 114.8 666.2 107.8 659.5 C100.8 652.8 96.3 643.9 94.5 637.2 C92.7 630.5 93.4 626.5 96.7 619.5Z" fill="#e7e8f1"/><path d="M399.5 572.8 C388.6 573.2 360.0 572.4 347.7 575.0 C335.4 577.6 329.9 581.0 325.5 588.4 C321.1 595.8 323.7 610.6 321.1 619.5 C318.5 628.4 311.9 634.3 310.0 641.7 C308.1 649.1 310.4 654.6 310.0 663.9 C309.6 673.1 305.2 686.1 307.8 697.2 C310.4 708.3 317.0 721.2 325.5 730.5 C334.0 739.8 349.6 746.8 358.9 752.7 C368.2 758.6 374.3 762.4 381.1 766.1 C387.9 769.8 388.0 769.4 399.5 775.0 C411.0 780.6 399.9 795.8 450.0 800.0 C500.1 804.2 669.2 819.0 700.0 800.0 C730.8 781.0 651.3 706.1 634.9 686.0 C618.5 665.9 612.7 683.0 601.6 679.3 C590.5 675.6 577.5 670.1 568.3 663.8 C559.0 657.5 553.5 649.0 546.1 641.6 C538.7 634.2 531.3 626.8 523.9 619.4 C516.5 612.0 509.0 603.5 501.6 597.2 C494.2 590.9 486.8 586.1 479.4 581.6 C472.0 577.1 468.3 572.0 457.2 570.5 C446.1 569.0 422.4 572.3 412.8 572.7 C403.2 573.1 410.4 572.4 399.5 572.8Z" fill="#e7e8f1"/><path d="M370.0 640.0 C372.7 630.4 379.1 641.4 386.2 639.4 C393.3 637.4 401.0 631.6 412.8 628.3 C424.6 625.0 445.0 619.8 457.2 619.4 C469.4 619.0 478.3 622.3 486.1 626.0 C493.9 629.7 498.7 635.3 503.9 641.6 C509.1 647.9 510.2 656.4 517.2 663.8 C524.2 671.2 537.2 678.6 546.1 686.0 C555.0 693.4 566.1 701.5 570.5 708.2 C574.9 714.9 574.9 721.2 572.7 726.0 C570.5 730.8 567.2 735.6 557.2 737.1 C547.2 738.6 527.5 736.8 512.7 734.9 C497.9 733.0 483.1 729.7 468.3 726.0 C453.5 722.3 436.5 717.9 423.9 712.7 C411.3 707.5 401.8 697.5 392.8 694.9 C383.8 692.3 373.8 706.1 370.0 697.0 C366.2 687.9 367.3 649.6 370.0 640.0Z" fill="#d8daeb"/><path d="M535.0 141.1 C528.2 157.9 524.6 152.6 519.4 161.1 C514.2 169.6 509.4 183.3 503.9 192.2 C498.3 201.1 495.7 207.7 486.1 214.4 C476.5 221.1 458.3 226.6 446.1 232.2 C433.9 237.8 420.9 238.4 412.8 247.7 C404.7 256.9 399.5 272.5 397.3 287.7 C395.1 302.9 395.1 328.8 399.5 338.8 C403.9 348.8 412.4 346.9 423.9 347.6 C435.4 348.3 453.5 343.9 468.3 343.2 C483.1 342.5 501.6 340.2 512.7 343.2 C523.8 346.2 523.9 354.3 535.0 361.0 C546.1 367.7 564.6 378.0 579.4 383.2 C594.2 388.4 609.0 390.6 623.8 392.1 C638.6 393.6 653.4 393.6 668.2 392.1 C683.0 390.6 700.0 384.7 712.6 383.2 C725.2 381.7 730.8 383.7 743.7 383.2 C756.6 382.7 782.3 427.2 790.0 380.0 C797.7 332.8 828.3 153.3 790.0 100.0 C751.7 46.7 602.5 53.1 560.0 60.0 C517.5 66.8 541.8 124.2 535.0 141.1Z" fill="#e7e8f1"/><path d="M472.8 276.6 C474.3 269.9 482.0 264.0 490.5 258.8 C499.0 253.6 512.0 251.4 523.9 245.5 C535.8 239.6 551.2 231.1 561.6 223.3 C572.0 215.5 579.3 205.1 586.0 198.8 C592.7 192.5 593.5 189.4 601.6 185.5 C609.8 181.6 618.5 181.4 634.9 175.5 C651.3 169.6 674.1 129.2 700.0 150.0 C725.9 170.8 775.0 270.0 790.0 300.0 C805.0 330.0 799.2 325.4 790.0 330.0 C780.8 334.6 751.4 324.4 734.8 327.7 C718.2 331.0 705.2 343.6 690.4 349.9 C675.6 356.2 660.8 361.3 646.0 365.4 C631.2 369.5 615.7 374.3 601.6 374.3 C587.5 374.3 572.7 370.6 561.6 365.4 C550.5 360.2 543.9 350.6 535.0 343.2 C526.1 335.8 517.2 328.4 508.3 321.0 C499.4 313.6 487.6 306.2 481.7 298.8 C475.8 291.4 471.3 283.3 472.8 276.6Z" fill="#d8daeb"/><path d="M530.5 298.8 C532.4 291.4 538.0 283.3 546.1 276.6 C554.2 269.9 566.5 264.4 579.4 258.8 C592.3 253.2 609.0 247.0 623.8 243.3 C638.6 239.6 655.2 235.5 668.2 236.6 C681.2 237.7 693.7 243.2 701.5 249.9 C709.3 256.6 713.7 266.6 714.8 276.6 C715.9 286.6 714.1 299.5 708.2 309.9 C702.3 320.3 689.7 330.6 679.3 338.8 C668.9 347.0 657.1 353.6 646.0 358.8 C634.9 364.0 623.8 369.4 612.7 369.8 C601.6 370.2 589.4 365.4 579.4 361.0 C569.4 356.6 560.1 349.9 552.7 343.2 C545.3 336.5 538.7 328.4 535.0 321.0 C531.3 313.6 528.6 306.2 530.5 298.8Z" fill="#c5c2de"/><path d="M577.2 321.0 C577.6 315.1 583.5 312.1 590.5 307.7 C597.5 303.2 611.3 296.5 619.4 294.3 C627.5 292.1 635.2 292.4 639.3 294.3 C643.4 296.2 645.3 299.9 643.8 305.5 C642.3 311.1 636.4 321.4 630.5 327.7 C624.6 334.0 615.2 340.6 608.2 343.2 C601.2 345.8 593.5 346.9 588.3 343.2 C583.1 339.5 576.8 326.9 577.2 321.0Z" fill="#b1aad1"/><path d="M372.0 505.0 C373.7 502.0 381.2 499.5 385.0 500.0 C388.8 500.5 394.2 505.0 395.0 508.0 C395.8 511.0 393.3 516.3 390.0 518.0 C386.7 519.7 378.0 520.2 375.0 518.0 C372.0 515.8 370.3 508.0 372.0 505.0Z" fill="#faecd7"/><clipPath id="clp52707"><path d="M410.0 360.0 C430.8 340.0 480.0 338.3 520.0 340.0 C560.0 341.7 603.3 365.0 650.0 370.0 C696.7 375.0 775.0 298.3 800.0 370.0 C825.0 441.7 830.0 728.3 800.0 800.0 C770.0 871.7 675.0 825.0 620.0 800.0 C565.0 775.0 506.7 690.0 470.0 650.0 C433.3 610.0 412.5 591.7 400.0 560.0 C387.5 528.3 393.3 493.3 395.0 460.0 C396.7 426.7 389.2 380.0 410.0 360.0Z"/></clipPath><g clip-path="url(#clp52707)"><path d="M482.0 372.0 L482.5 371.9 L485.0 371.4 L487.5 371.0 L490.0 370.6 L492.5 370.3 L495.0 370.0 L497.5 369.8 L500.0 369.7 L502.5 369.6 L505.0 369.5 L507.5 369.6 L510.0 369.7 L512.5 369.8 L515.0 370.1 L517.5 370.4 L520.0 370.7 L522.5 371.2 L525.0 371.7 L526.6 372.0 L527.5 372.2 L530.0 372.8 L532.5 373.4 L535.0 374.1 L536.6 374.5 L537.5 374.8 L540.0 375.5 L542.5 376.2 L545.0 377.0 L545.1 377.0 L547.5 377.8 L550.0 378.5 L552.5 379.3 L553.0 379.5 L555.0 380.2 L557.5 381.0 L560.0 381.8 L560.5 382.0 L562.5 382.7 L565.0 383.6 L567.5 384.4 L567.7 384.5 L570.0 385.3 L572.5 386.1 L575.0 387.0 L575.1 387.0 L577.5 387.9 L580.0 388.7 L582.5 389.5 L582.5 389.5 L585.0 390.4 L587.5 391.2 L590.0 392.0 L590.1 392.0 L592.5 392.8 L595.0 393.6 L597.5 394.4 L597.8 394.5 L600.0 395.1 L602.5 395.8 L605.0 396.6 L606.5 397.0 L607.5 397.3 L610.0 397.9 L612.5 398.5 L615.0 399.2 L616.8 399.5 L617.5 399.6 L620.0 400.1 L622.5 400.6 L625.0 401.0 L627.5 401.3 L630.0 401.7 L632.2 402.0 L632.5 402.0 L635.0 402.2 L637.5 402.5 L640.0 402.8 L642.5 402.9 L645.0 403.1 L647.5 403.3 L650.0 403.4 L652.5 403.5 L655.0 403.6 L657.5 403.7 L660.0 403.7 L662.5 403.7 L665.0 403.8 L667.5 403.7 L670.0 403.7 L672.5 403.7 L675.0 403.6 L677.5 403.5 L680.0 403.4 L682.5 403.3 L685.0 403.1 L687.5 403.0 L690.0 402.9 L692.5 402.7 L695.0 402.6 L697.5 402.3 L700.0 402.1 L701.4 402.0 L702.5 401.9 L705.0 401.7 L707.5 401.4 L710.0 401.2 L712.5 400.9 L715.0 400.5 L717.5 400.1 L719.5 399.5 L720.0 399.4 L722.5 398.5 L725.0 397.2 L725.3 397.0 L727.5 395.6 L728.9 394.5 L730.0 393.6 L732.0 392.0 L732.5 391.6 L735.0 389.9 L735.8 389.5 L737.5 388.7 L740.0 388.0 L742.5 387.7 L745.0 387.4 L747.0 387.0 L747.5 386.9 L750.0 386.0 L752.5 384.9 L753.4 384.5 L755.0 383.8 L757.5 382.5 L757.5 384.5 L757.5 387.0 L757.5 389.5 L757.5 392.0 L757.5 394.5 L757.5 397.0 L757.5 399.5 L757.5 402.0 L757.5 404.5 L757.5 407.0 L757.5 409.5 L757.5 412.0 L757.5 414.5 L757.5 417.0 L757.5 419.5 L757.5 422.0 L757.5 424.5 L757.5 427.0 L757.5 429.5 L757.5 432.0 L757.5 434.5 L757.5 437.0 L757.5 439.5 L757.5 442.0 L757.5 444.5 L757.5 447.0 L757.5 449.5 L757.5 452.0 L757.5 454.5 L757.5 457.0 L757.5 459.5 L757.5 462.0 L757.5 464.5 L757.5 467.0 L757.5 469.5 L757.5 472.0 L757.5 474.5 L757.5 477.0 L757.5 479.5 L757.5 482.0 L757.5 484.5 L757.5 487.0 L757.5 489.5 L757.5 492.0 L757.5 494.5 L757.5 497.0 L757.5 499.5 L757.5 502.0 L757.5 504.5 L757.5 507.0 L757.5 509.5 L757.5 512.0 L757.5 514.5 L757.5 517.0 L757.5 519.5 L757.5 522.0 L757.5 524.5 L757.5 527.0 L757.5 529.5 L757.5 532.0 L757.5 534.5 L757.5 537.0 L757.5 539.5 L757.5 542.0 L757.5 544.5 L757.5 547.0 L757.5 549.5 L757.5 552.0 L757.5 554.5 L757.5 557.0 L757.5 559.5 L757.5 562.0 L757.5 564.5 L757.5 567.0 L757.5 569.5 L757.5 572.0 L757.5 574.5 L757.5 577.0 L757.5 579.5 L757.5 582.0 L757.5 584.5 L757.5 587.0 L757.5 589.5 L757.5 592.0 L757.5 594.5 L757.5 597.0 L757.5 599.5 L757.5 602.0 L757.5 604.5 L757.5 607.0 L757.5 609.5 L757.5 612.0 L757.5 614.5 L757.5 617.0 L757.5 619.5 L757.5 622.0 L757.5 624.5 L757.5 627.0 L757.5 629.5 L757.5 632.0 L757.5 634.5 L757.5 637.0 L757.5 639.5 L757.5 642.0 L757.5 644.5 L757.5 647.0 L757.5 649.5 L757.5 652.0 L757.5 654.5 L757.5 657.0 L757.5 659.5 L757.5 662.0 L757.5 664.5 L757.5 667.0 L757.5 669.5 L757.5 672.0 L757.5 674.5 L757.5 677.0 L757.5 679.5 L757.5 682.0 L757.5 684.5 L757.5 687.0 L757.5 689.5 L757.5 692.0 L757.5 694.5 L757.5 697.0 L757.5 697.2 L755.7 697.0 L755.0 696.9 L752.5 696.6 L750.0 696.2 L747.5 695.7 L745.0 695.3 L742.5 694.7 L741.6 694.5 L740.0 694.1 L737.5 693.5 L735.0 692.9 L732.5 692.2 L731.9 692.0 L730.0 691.5 L727.5 690.7 L725.0 690.0 L723.5 689.5 L722.5 689.2 L720.0 688.3 L717.5 687.5 L716.0 687.0 L715.0 686.7 L712.5 685.9 L710.0 685.0 L708.6 684.5 L707.5 684.1 L705.0 683.1 L702.5 682.2 L701.9 682.0 L700.0 681.4 L697.5 680.5 L695.0 679.6 L694.8 679.5 L692.5 678.6 L690.0 677.6 L688.1 677.0 L687.5 676.8 L685.0 676.0 L682.5 675.1 L680.9 674.5 L680.0 674.2 L677.5 673.2 L675.0 672.5 L673.3 672.0 L672.5 671.8 L670.0 671.0 L667.5 670.2 L665.0 669.6 L664.6 669.5 L662.5 669.1 L660.0 668.6 L657.5 668.1 L655.0 667.8 L652.5 667.6 L650.0 667.3 L647.5 667.1 L646.6 667.0 L645.0 666.9 L642.5 666.6 L640.0 666.4 L637.5 666.1 L635.0 665.9 L632.5 665.6 L630.0 665.3 L627.5 665.1 L625.0 664.8 L623.0 664.5 L622.5 664.4 L620.0 664.1 L617.5 663.7 L615.0 663.3 L612.5 662.8 L610.0 662.2 L609.1 662.0 L607.5 661.6 L605.0 661.0 L602.5 660.3 L600.0 659.5 L599.9 659.5 L597.5 658.7 L595.0 657.9 L592.7 657.0 L592.5 656.9 L590.0 655.9 L587.5 654.9 L586.6 654.5 L585.0 653.8 L582.5 652.6 L581.4 652.0 L580.0 651.3 L577.5 650.0 L576.6 649.5 L575.0 648.6 L572.5 647.2 L572.1 647.0 L570.0 645.8 L567.7 644.5 L567.5 644.4 L565.0 642.9 L563.4 642.0 L562.5 641.5 L560.0 640.0 L559.1 639.5 L557.5 638.6 L555.0 637.1 L554.9 637.0 L552.5 635.6 L550.8 634.5 L550.0 634.0 L547.5 632.5 L546.7 632.0 L545.0 630.9 L542.8 629.5 L542.5 629.3 L540.0 627.7 L539.0 627.0 L537.5 626.0 L535.2 624.5 L535.0 624.4 L532.5 622.7 L531.5 622.0 L530.0 621.0 L527.9 619.5 L527.5 619.2 L525.0 617.4 L524.4 617.0 L522.5 615.6 L521.0 614.5 L520.0 613.8 L517.6 612.0 L517.5 611.9 L515.0 610.0 L514.4 609.5 L512.5 608.0 L511.2 607.0 L510.0 606.0 L508.2 604.5 L507.5 603.9 L505.3 602.0 L505.0 601.8 L502.5 599.6 L502.4 599.5 L500.0 597.3 L499.7 597.0 L497.5 595.0 L497.0 594.5 L495.0 592.7 L494.3 592.0 L492.5 590.3 L491.7 589.5 L490.0 587.8 L489.1 587.0 L487.5 585.4 L486.6 584.5 L485.0 582.9 L484.0 582.0 L482.5 580.5 L481.5 579.5 L480.0 578.0 L479.0 577.0 L477.5 575.6 L476.4 574.5 L475.0 573.1 L473.9 572.0 L472.5 570.6 L471.4 569.5 L470.0 568.1 L468.9 567.0 L467.5 565.6 L466.4 564.5 L465.0 563.0 L464.0 562.0 L462.5 560.4 L461.7 559.5 L460.0 557.7 L459.4 557.0 L457.5 554.8 L457.2 554.5 L455.1 552.0 L455.0 551.9 L453.1 549.5 L452.5 548.6 L451.3 547.0 L450.0 545.0 L449.6 544.5 L448.2 542.0 L447.5 540.7 L446.9 539.5 L445.7 537.0 L445.0 535.3 L444.7 534.5 L443.7 532.0 L442.7 529.5 L442.5 529.0 L441.7 527.0 L440.7 524.5 L440.0 523.1 L439.5 522.0 L438.3 519.5 L437.5 518.0 L437.0 517.0 L435.7 514.5 L435.0 513.3 L434.3 512.0 L433.0 509.5 L432.5 508.6 L431.7 507.0 L430.4 504.5 L430.0 503.6 L429.2 502.0 L428.1 499.5 L427.5 498.0 L427.1 497.0 L426.2 494.5 L425.4 492.0 L425.0 490.6 L424.7 489.5 L424.2 487.0 L423.8 484.5 L423.6 482.0 L423.4 479.5 L423.3 477.0 L423.3 474.5 L423.3 472.0 L423.4 469.5 L423.5 467.0 L423.7 464.5 L424.0 462.0 L424.3 459.5 L424.6 457.0 L425.0 454.5 L425.0 454.4 L425.4 452.0 L425.9 449.5 L426.5 447.0 L427.2 444.5 L427.5 443.6 L428.0 442.0 L429.2 439.5 L430.0 438.4 L431.1 437.0 L432.5 435.7 L434.0 434.5 L435.0 433.9 L437.5 432.4 L438.1 432.0 L440.0 430.9 L442.0 429.5 L442.5 429.0 L444.4 427.0 L445.0 426.0 L445.7 424.5 L446.3 422.0 L446.3 419.5 L445.9 417.0 L445.4 414.5 L445.0 413.0 L444.7 412.0 L444.0 409.5 L443.4 407.0 L442.7 404.5 L442.5 403.4 L442.2 402.0 L441.9 399.5 L441.8 397.0 L442.1 394.5 L442.5 393.0 L442.8 392.0 L444.4 389.5 L445.0 388.8 L446.9 387.0 L447.5 386.6 L450.0 384.8 L450.5 384.5 L452.5 383.2 L454.6 382.0 L455.0 381.8 L457.5 380.5 L459.5 379.5 L460.0 379.3 L462.5 378.2 L465.0 377.1 L465.3 377.0 L467.5 376.2 L470.0 375.3 L472.4 374.5 L472.5 374.5 L475.0 373.8 L477.5 373.1 L480.0 372.5 L482.0 372.0Z" fill="#faecd7"/><path d="M512.9 392.0 L515.0 391.6 L517.5 391.1 L520.0 390.7 L522.5 390.4 L525.0 390.2 L527.5 390.0 L530.0 389.8 L532.5 389.8 L535.0 389.8 L537.5 389.8 L540.0 390.0 L542.5 390.1 L545.0 390.4 L547.5 390.6 L550.0 390.9 L552.5 391.2 L555.0 391.6 L557.5 392.0 L557.8 392.0 L560.0 392.3 L562.5 392.8 L565.0 393.2 L567.5 393.6 L570.0 394.0 L572.5 394.5 L572.5 394.5 L575.0 395.0 L577.5 395.4 L580.0 395.9 L582.5 396.4 L585.0 396.8 L585.9 397.0 L587.5 397.3 L590.0 397.8 L592.5 398.3 L595.0 398.8 L597.5 399.3 L598.5 399.5 L600.0 399.8 L602.5 400.3 L605.0 400.8 L607.5 401.3 L610.0 401.7 L611.4 402.0 L612.5 402.2 L615.0 402.7 L617.5 403.1 L620.0 403.5 L622.5 403.9 L625.0 404.3 L626.4 404.5 L627.5 404.6 L630.0 405.0 L632.5 405.3 L635.0 405.6 L637.5 405.8 L640.0 406.1 L642.5 406.4 L645.0 406.6 L647.5 406.8 L649.8 407.0 L650.0 407.0 L652.5 407.1 L655.0 407.3 L657.5 407.4 L660.0 407.5 L662.5 407.5 L665.0 407.6 L667.5 407.5 L670.0 407.5 L672.5 407.5 L675.0 407.4 L677.5 407.3 L680.0 407.2 L682.5 407.1 L685.0 407.0 L685.3 407.0 L687.5 406.9 L690.0 406.8 L692.5 406.7 L695.0 406.6 L697.5 406.5 L700.0 406.5 L702.5 406.4 L705.0 406.4 L707.5 406.3 L710.0 406.3 L712.5 406.3 L715.0 406.2 L717.5 405.9 L720.0 405.4 L722.4 404.5 L722.5 404.5 L725.0 403.2 L727.5 402.0 L727.8 402.0 L730.0 401.6 L732.5 401.5 L735.0 401.6 L737.5 401.4 L740.0 401.0 L742.5 400.4 L745.0 399.6 L745.5 399.5 L747.5 398.9 L750.0 398.2 L752.5 397.6 L755.0 397.1 L755.9 397.0 L757.5 396.8 L757.5 397.0 L757.5 399.5 L757.5 402.0 L757.5 404.5 L757.5 407.0 L757.5 409.5 L757.5 412.0 L757.5 414.5 L757.5 417.0 L757.5 419.5 L757.5 422.0 L757.5 424.5 L757.5 427.0 L757.5 429.5 L757.5 432.0 L757.5 434.5 L757.5 437.0 L757.5 439.5 L757.5 442.0 L757.5 444.5 L757.5 447.0 L757.5 449.5 L757.5 452.0 L757.5 454.5 L757.5 457.0 L757.5 459.5 L757.5 462.0 L757.5 464.5 L757.5 467.0 L757.5 469.5 L757.5 472.0 L757.5 474.5 L757.5 477.0 L757.5 479.5 L757.5 482.0 L757.5 484.5 L757.5 487.0 L757.5 489.5 L757.5 492.0 L757.5 494.5 L757.5 497.0 L757.5 499.5 L757.5 502.0 L757.5 504.5 L757.5 507.0 L757.5 509.5 L757.5 512.0 L757.5 514.5 L757.5 517.0 L757.5 519.5 L757.5 522.0 L757.5 524.5 L757.5 527.0 L757.5 529.5 L757.5 532.0 L757.5 534.5 L757.5 537.0 L757.5 539.5 L757.5 542.0 L757.5 544.5 L757.5 547.0 L757.5 549.5 L757.5 552.0 L757.5 554.5 L757.5 557.0 L757.5 559.5 L757.5 562.0 L757.5 564.5 L757.5 567.0 L757.5 569.5 L757.5 572.0 L757.5 574.5 L757.5 577.0 L757.5 579.5 L757.5 582.0 L757.5 584.5 L757.5 587.0 L757.5 589.5 L757.5 592.0 L757.5 594.5 L757.5 597.0 L757.5 599.5 L757.5 602.0 L757.5 604.5 L757.5 607.0 L757.5 609.5 L757.5 612.0 L757.5 614.5 L757.5 617.0 L757.5 619.5 L757.5 622.0 L757.5 624.5 L757.5 627.0 L757.5 629.5 L757.5 632.0 L757.5 634.5 L757.5 637.0 L757.5 639.5 L757.5 642.0 L757.5 644.5 L757.5 647.0 L757.5 649.5 L757.5 652.0 L757.5 654.5 L757.5 657.0 L757.5 658.9 L755.2 659.5 L755.0 659.6 L752.5 660.0 L750.0 660.5 L747.5 661.0 L745.0 661.2 L742.5 661.4 L740.0 661.6 L737.5 661.7 L735.0 661.7 L732.5 661.6 L730.0 661.5 L727.5 661.3 L725.0 661.1 L722.5 660.8 L720.0 660.5 L717.5 660.2 L715.0 659.8 L712.6 659.5 L712.5 659.5 L710.0 659.1 L707.5 658.6 L705.0 658.2 L702.5 657.7 L700.0 657.3 L698.7 657.0 L697.5 656.8 L695.0 656.2 L692.5 655.7 L690.0 655.3 L687.5 654.7 L686.5 654.5 L685.0 654.2 L682.5 653.7 L680.0 653.2 L677.5 652.7 L675.0 652.2 L674.2 652.0 L672.5 651.7 L670.0 651.3 L667.5 650.8 L665.0 650.3 L662.5 650.0 L660.0 649.7 L658.8 649.5 L657.5 649.3 L655.0 649.1 L652.5 648.8 L650.0 648.6 L647.5 648.3 L645.0 648.1 L642.5 647.8 L640.0 647.5 L637.5 647.1 L636.6 647.0 L635.0 646.8 L632.5 646.4 L630.0 646.0 L627.5 645.5 L625.0 645.1 L622.5 644.5 L622.3 644.5 L620.0 644.0 L617.5 643.3 L615.0 642.7 L612.7 642.0 L612.5 641.9 L610.0 641.2 L607.5 640.4 L605.0 639.5 L605.0 639.5 L602.5 638.6 L600.0 637.6 L598.6 637.0 L597.5 636.6 L595.0 635.5 L592.9 634.5 L592.5 634.3 L590.0 633.1 L587.7 632.0 L587.5 631.9 L585.0 630.6 L582.9 629.5 L582.5 629.3 L580.0 627.9 L578.4 627.0 L577.5 626.5 L575.0 625.1 L574.0 624.5 L572.5 623.6 L570.0 622.1 L569.8 622.0 L567.5 620.6 L565.7 619.5 L565.0 619.1 L562.5 617.5 L561.8 617.0 L560.0 615.8 L558.0 614.5 L557.5 614.2 L555.0 612.5 L554.2 612.0 L552.5 610.8 L550.6 609.5 L550.0 609.1 L547.5 607.3 L547.1 607.0 L545.0 605.5 L543.6 604.5 L542.5 603.7 L540.1 602.0 L540.0 601.9 L537.5 600.0 L536.8 599.5 L535.0 598.1 L533.5 597.0 L532.5 596.2 L530.4 594.5 L530.0 594.2 L527.5 592.2 L527.3 592.0 L525.0 590.1 L524.3 589.5 L522.5 587.9 L521.4 587.0 L520.0 585.7 L518.6 584.5 L517.5 583.5 L515.9 582.0 L515.0 581.2 L513.2 579.5 L512.5 578.8 L510.6 577.0 L510.0 576.5 L508.0 574.5 L507.5 574.0 L505.4 572.0 L505.0 571.6 L502.9 569.5 L502.5 569.1 L500.5 567.0 L500.0 566.5 L498.0 564.5 L497.5 563.9 L495.6 562.0 L495.0 561.3 L493.3 559.5 L492.5 558.6 L491.0 557.0 L490.0 555.9 L488.8 554.5 L487.5 553.0 L486.7 552.0 L485.0 549.9 L484.7 549.5 L482.8 547.0 L482.5 546.6 L481.1 544.5 L480.0 542.8 L479.5 542.0 L478.1 539.5 L477.5 538.3 L476.8 537.0 L475.7 534.5 L475.0 532.7 L474.7 532.0 L473.8 529.5 L472.9 527.0 L472.5 526.0 L471.9 524.5 L471.0 522.0 L470.0 519.5 L470.0 519.5 L469.0 517.0 L467.9 514.5 L467.5 513.4 L466.9 512.0 L465.9 509.5 L465.0 507.0 L465.0 507.0 L464.1 504.5 L463.3 502.0 L462.5 499.5 L462.5 499.4 L461.9 497.0 L461.3 494.5 L460.9 492.0 L460.5 489.5 L460.2 487.0 L460.0 484.5 L460.0 484.1 L459.9 482.0 L459.7 479.5 L459.6 477.0 L459.6 474.5 L459.6 472.0 L459.6 469.5 L459.6 467.0 L459.6 464.5 L459.7 462.0 L459.8 459.5 L459.9 457.0 L460.0 456.1 L460.1 454.5 L460.5 452.0 L461.1 449.5 L462.2 447.0 L462.5 446.6 L463.8 444.5 L465.0 442.9 L465.6 442.0 L467.3 439.5 L467.5 439.0 L468.5 437.0 L469.3 434.5 L469.8 432.0 L470.0 430.2 L470.1 429.5 L470.2 427.0 L470.3 424.5 L470.4 422.0 L470.7 419.5 L471.2 417.0 L472.0 414.5 L472.5 413.3 L473.2 412.0 L475.0 409.7 L475.2 409.5 L477.5 407.5 L478.1 407.0 L480.0 405.7 L481.8 404.5 L482.5 404.0 L485.0 402.5 L485.9 402.0 L487.5 401.2 L490.0 399.9 L490.8 399.5 L492.5 398.7 L495.0 397.6 L496.5 397.0 L497.5 396.6 L500.0 395.7 L502.5 394.8 L503.5 394.5 L505.0 394.0 L507.5 393.3 L510.0 392.7 L512.5 392.1 L512.9 392.0Z" fill="#fee0b6"/><path d="M562.8 407.0 L565.0 406.6 L567.5 406.2 L570.0 405.9 L572.5 405.7 L575.0 405.5 L577.5 405.3 L580.0 405.1 L582.5 405.0 L585.0 404.9 L587.5 404.8 L590.0 404.8 L592.5 404.8 L595.0 404.9 L597.5 405.1 L600.0 405.4 L602.5 405.6 L605.0 405.9 L607.5 406.2 L610.0 406.4 L612.5 406.6 L615.0 406.8 L617.5 406.9 L620.0 407.0 L620.1 407.0 L622.5 407.8 L625.0 408.3 L627.5 408.7 L630.0 408.9 L632.5 409.1 L635.0 409.3 L637.5 409.4 L639.6 409.5 L640.0 409.6 L642.5 410.3 L645.0 410.8 L647.5 411.0 L650.0 411.3 L652.5 411.4 L655.0 411.6 L657.5 411.6 L660.0 411.7 L662.5 411.7 L665.0 411.8 L667.5 411.8 L670.0 411.7 L672.5 411.7 L675.0 411.7 L677.5 411.6 L680.0 411.6 L682.5 411.5 L685.0 411.5 L687.5 411.5 L690.0 411.4 L692.5 411.4 L695.0 411.4 L697.5 411.5 L700.0 411.5 L702.5 411.6 L705.0 411.8 L707.5 411.9 L708.3 412.0 L710.0 412.4 L712.5 413.0 L715.0 413.5 L717.5 413.9 L720.0 414.4 L720.3 414.5 L722.5 415.0 L725.0 415.5 L727.5 416.0 L730.0 416.6 L731.8 417.0 L732.5 417.1 L735.0 417.4 L737.5 417.7 L740.0 418.0 L742.5 418.6 L744.9 419.5 L745.0 419.5 L747.5 419.8 L750.0 420.1 L752.5 420.7 L755.0 421.8 L755.7 422.0 L757.5 422.3 L757.5 424.5 L757.5 427.0 L757.5 429.5 L757.5 432.0 L757.5 434.5 L757.5 437.0 L757.5 439.5 L757.5 442.0 L757.5 444.5 L757.5 447.0 L757.5 449.5 L757.5 452.0 L757.5 454.5 L757.5 457.0 L757.5 459.5 L757.5 462.0 L757.5 464.5 L757.5 467.0 L757.5 469.5 L757.5 472.0 L757.5 474.5 L757.5 477.0 L757.5 479.5 L757.5 482.0 L757.5 484.5 L757.5 487.0 L757.5 489.5 L757.5 492.0 L757.5 494.5 L757.5 497.0 L757.5 499.5 L757.5 502.0 L757.5 504.5 L757.5 507.0 L757.5 509.5 L757.5 512.0 L757.5 514.5 L757.5 517.0 L757.5 519.5 L757.5 522.0 L757.5 524.5 L757.5 527.0 L757.5 529.5 L757.5 532.0 L757.5 534.5 L757.5 537.0 L757.5 539.5 L757.5 542.0 L757.5 544.5 L757.5 547.0 L757.5 549.5 L757.5 552.0 L757.5 554.5 L757.5 557.0 L757.5 559.5 L757.5 562.0 L757.5 564.5 L757.5 567.0 L757.5 569.5 L757.5 572.0 L757.5 574.5 L757.5 577.0 L757.5 579.5 L757.5 582.0 L757.5 584.5 L757.5 587.0 L757.5 589.5 L757.5 592.0 L757.5 594.5 L757.5 597.0 L757.5 599.5 L757.5 602.0 L757.5 604.5 L757.5 607.0 L757.5 609.5 L757.5 612.0 L757.5 614.5 L757.5 617.0 L757.5 619.5 L757.5 621.9 L756.1 622.0 L755.0 622.2 L752.5 622.6 L750.0 622.9 L747.5 623.2 L745.0 623.4 L742.5 623.5 L740.0 623.7 L737.5 623.8 L735.0 623.9 L732.5 624.0 L730.0 624.2 L727.5 624.3 L725.0 624.4 L724.0 624.5 L722.5 624.9 L720.0 625.7 L717.5 626.3 L715.0 626.6 L712.5 626.8 L710.0 627.0 L709.9 627.0 L707.5 627.9 L705.0 628.4 L702.5 628.8 L700.0 629.0 L697.5 629.2 L695.0 629.3 L692.5 629.4 L691.4 629.5 L690.0 629.7 L687.5 630.1 L685.0 630.4 L682.5 630.6 L680.0 630.8 L677.5 630.9 L675.0 631.0 L672.5 631.0 L670.0 631.0 L667.5 631.0 L665.0 631.0 L662.5 630.9 L660.0 630.8 L657.5 630.7 L655.0 630.5 L652.5 630.3 L650.0 630.0 L647.5 629.6 L646.7 629.5 L645.0 629.3 L642.5 629.0 L640.0 628.7 L637.5 628.2 L635.0 627.5 L633.2 627.0 L632.5 626.9 L630.0 626.4 L627.5 625.7 L625.0 624.8 L624.2 624.5 L622.5 624.1 L620.0 623.3 L617.5 622.2 L616.9 622.0 L615.0 621.5 L612.5 620.6 L610.4 619.5 L610.0 619.3 L607.5 618.6 L605.0 617.3 L604.4 617.0 L602.5 616.4 L600.0 615.3 L598.5 614.5 L597.5 614.1 L595.0 613.0 L593.3 612.0 L592.5 611.6 L590.0 610.4 L588.6 609.5 L587.5 609.0 L585.0 607.4 L584.4 607.0 L582.5 606.1 L580.4 604.5 L580.0 604.3 L577.5 602.7 L576.5 602.0 L575.0 601.1 L572.9 599.5 L572.5 599.2 L570.0 597.5 L569.4 597.0 L567.5 595.9 L565.8 594.5 L565.0 594.0 L562.6 592.0 L562.5 591.9 L560.0 590.3 L559.0 589.5 L557.5 588.5 L555.6 587.0 L555.0 586.5 L552.6 584.5 L552.5 584.4 L550.0 582.7 L549.2 582.0 L547.5 580.8 L546.0 579.5 L545.0 578.7 L543.0 577.0 L542.5 576.6 L540.2 574.5 L540.0 574.3 L537.5 572.1 L537.3 572.0 L535.0 570.0 L534.4 569.5 L532.5 567.8 L531.7 567.0 L530.0 565.4 L529.1 564.5 L527.5 562.9 L526.6 562.0 L525.0 560.2 L524.3 559.5 L522.5 557.4 L522.1 557.0 L520.0 554.5 L520.0 554.5 L517.8 552.0 L517.5 551.7 L515.6 549.5 L515.0 548.7 L513.7 547.0 L512.5 545.1 L512.1 544.5 L510.4 542.0 L510.0 541.1 L508.9 539.5 L507.8 537.0 L507.5 536.3 L506.5 534.5 L505.5 532.0 L505.0 530.2 L504.7 529.5 L503.6 527.0 L502.9 524.5 L502.5 522.0 L502.5 522.0 L501.5 519.5 L500.9 517.0 L500.4 514.5 L500.1 512.0 L500.0 511.4 L499.5 509.5 L498.8 507.0 L498.3 504.5 L498.0 502.0 L497.7 499.5 L497.5 497.0 L497.5 496.9 L496.9 494.5 L496.3 492.0 L495.9 489.5 L495.6 487.0 L495.4 484.5 L495.2 482.0 L495.0 480.4 L494.8 479.5 L494.2 477.0 L493.7 474.5 L493.3 472.0 L492.9 469.5 L492.6 467.0 L492.5 466.0 L492.2 464.5 L491.7 462.0 L491.3 459.5 L491.1 457.0 L491.1 454.5 L491.2 452.0 L491.5 449.5 L492.0 447.0 L492.5 445.7 L492.9 444.5 L494.0 442.0 L495.0 440.3 L495.5 439.5 L497.5 437.1 L497.6 437.0 L499.9 434.5 L500.0 434.4 L502.5 432.1 L502.6 432.0 L505.0 429.8 L505.4 429.5 L507.5 427.8 L508.8 427.0 L510.0 426.0 L512.5 424.6 L512.7 424.5 L515.0 422.6 L516.3 422.0 L517.5 421.2 L520.0 419.8 L520.7 419.5 L522.5 418.3 L525.0 417.3 L525.8 417.0 L527.5 416.0 L530.0 414.9 L532.5 414.5 L532.6 414.5 L535.0 413.0 L537.5 412.4 L540.0 412.0 L540.1 412.0 L542.5 410.8 L545.0 410.2 L547.5 409.8 L550.0 409.5 L550.0 409.5 L552.5 408.6 L555.0 408.0 L557.5 407.6 L560.0 407.3 L562.5 407.0 L562.8 407.0Z" fill="#fecd8f"/><path d="M548.8 419.5 L550.0 419.3 L552.5 418.9 L555.0 418.6 L557.5 418.3 L560.0 418.0 L562.5 417.8 L565.0 417.6 L567.5 417.5 L570.0 417.4 L572.5 417.3 L575.0 417.2 L577.5 417.2 L580.0 417.1 L582.5 417.1 L585.0 417.1 L587.5 417.1 L590.0 417.2 L592.5 417.2 L595.0 417.3 L597.5 417.4 L600.0 417.5 L602.5 417.6 L605.0 417.7 L607.5 417.9 L610.0 418.1 L612.5 418.3 L615.0 418.5 L617.5 418.7 L620.0 418.9 L622.5 419.2 L625.0 419.4 L625.7 419.5 L627.5 419.7 L630.0 419.9 L632.5 420.2 L635.0 420.5 L637.5 420.7 L640.0 420.9 L642.5 421.2 L645.0 421.4 L647.5 421.6 L650.0 421.9 L651.8 422.0 L652.5 422.1 L655.0 422.3 L657.5 422.4 L660.0 422.6 L662.5 422.6 L665.0 422.7 L667.5 422.7 L670.0 422.8 L672.5 422.8 L675.0 422.8 L677.5 422.8 L680.0 422.9 L682.5 422.9 L685.0 422.9 L687.5 423.0 L690.0 423.1 L692.5 423.2 L695.0 423.4 L697.5 423.5 L700.0 423.8 L702.5 424.0 L705.0 424.4 L706.0 424.5 L707.5 424.7 L710.0 425.1 L712.5 425.6 L715.0 425.9 L717.5 426.3 L720.0 426.6 L722.5 426.8 L724.6 427.0 L725.0 427.0 L727.5 427.2 L730.0 427.5 L732.5 427.7 L735.0 428.0 L737.5 428.3 L740.0 428.7 L742.5 429.2 L743.8 429.5 L745.0 429.8 L747.5 430.6 L750.0 431.5 L751.1 432.0 L752.5 432.7 L755.0 434.1 L755.8 434.5 L757.5 435.6 L757.5 437.0 L757.5 439.5 L757.5 442.0 L757.5 444.5 L757.5 447.0 L757.5 449.5 L757.5 452.0 L757.5 454.5 L757.5 457.0 L757.5 459.5 L757.5 462.0 L757.5 464.5 L757.5 467.0 L757.5 469.5 L757.5 472.0 L757.5 474.5 L757.5 477.0 L757.5 479.5 L757.5 482.0 L757.5 484.5 L757.5 487.0 L757.5 489.5 L757.5 492.0 L757.5 494.5 L757.5 497.0 L757.5 499.5 L757.5 502.0 L757.5 504.5 L757.5 507.0 L757.5 509.5 L757.5 512.0 L757.5 514.5 L757.5 517.0 L757.5 519.5 L757.5 522.0 L757.5 524.5 L757.5 527.0 L757.5 529.5 L757.5 532.0 L757.5 534.5 L757.5 537.0 L757.5 539.5 L757.5 542.0 L757.5 544.5 L757.5 547.0 L757.5 549.5 L757.5 552.0 L757.5 554.5 L757.5 557.0 L757.5 559.5 L757.5 562.0 L757.5 564.5 L757.5 567.0 L757.5 569.5 L757.5 572.0 L757.5 574.5 L757.5 577.0 L757.5 579.5 L757.5 582.0 L757.5 584.5 L757.5 587.0 L757.5 589.5 L757.5 592.0 L757.5 594.5 L757.5 597.0 L757.5 599.5 L757.5 600.1 L755.2 602.0 L755.0 602.1 L752.5 603.8 L751.3 604.5 L750.0 605.2 L747.5 606.4 L746.1 607.0 L745.0 607.4 L742.5 608.3 L740.0 609.0 L738.3 609.5 L737.5 609.7 L735.0 610.3 L732.5 610.8 L730.0 611.2 L727.5 611.7 L725.9 612.0 L725.0 612.1 L722.5 612.6 L720.0 613.0 L717.5 613.4 L715.0 614.0 L712.5 614.4 L712.3 614.5 L710.0 615.0 L707.5 615.6 L705.0 616.1 L702.5 616.6 L700.8 617.0 L700.0 617.1 L697.5 617.6 L695.0 618.0 L692.5 618.3 L690.0 618.5 L687.5 618.8 L685.0 618.9 L682.5 619.1 L680.0 619.2 L677.5 619.2 L675.0 619.2 L672.5 619.2 L670.0 619.2 L667.5 619.1 L665.0 619.0 L662.5 618.8 L660.0 618.6 L657.5 618.4 L655.0 618.2 L652.5 618.0 L650.0 617.7 L647.5 617.3 L645.6 617.0 L645.0 616.9 L642.5 616.5 L640.0 616.0 L637.5 615.4 L635.0 614.8 L633.8 614.5 L632.5 614.2 L630.0 613.5 L627.5 612.7 L625.1 612.0 L625.0 612.0 L622.5 611.1 L620.0 610.3 L617.8 609.5 L617.5 609.4 L615.0 608.5 L612.5 607.5 L611.3 607.0 L610.0 606.5 L607.5 605.5 L605.2 604.5 L605.0 604.4 L602.5 603.3 L600.0 602.1 L599.8 602.0 L597.5 600.9 L595.0 599.5 L594.9 599.5 L592.5 598.1 L590.6 597.0 L590.0 596.6 L587.5 595.1 L586.6 594.5 L585.0 593.4 L583.0 592.0 L582.5 591.7 L580.0 589.9 L579.5 589.5 L577.5 588.0 L576.2 587.0 L575.0 586.1 L573.0 584.5 L572.5 584.1 L570.0 582.2 L569.8 582.0 L567.5 580.2 L566.6 579.5 L565.0 578.2 L563.5 577.0 L562.5 576.2 L560.4 574.5 L560.0 574.1 L557.5 572.0 L557.5 572.0 L555.0 569.9 L554.6 569.5 L552.5 567.7 L551.8 567.0 L550.0 565.4 L549.0 564.5 L547.5 563.0 L546.4 562.0 L545.0 560.6 L543.9 559.5 L542.5 558.1 L541.5 557.0 L540.0 555.4 L539.2 554.5 L537.5 552.6 L536.9 552.0 L535.0 549.8 L534.8 549.5 L532.7 547.0 L532.5 546.7 L530.7 544.5 L530.0 543.5 L528.9 542.0 L527.5 540.0 L527.2 539.5 L525.7 537.0 L525.0 535.8 L524.3 534.5 L523.1 532.0 L522.5 530.5 L522.1 529.5 L521.2 527.0 L520.3 524.5 L520.0 523.4 L519.6 522.0 L518.9 519.5 L518.3 517.0 L517.7 514.5 L517.5 513.4 L517.2 512.0 L516.7 509.5 L516.2 507.0 L515.8 504.5 L515.3 502.0 L515.0 500.0 L514.9 499.5 L514.5 497.0 L514.1 494.5 L513.8 492.0 L513.4 489.5 L513.1 487.0 L512.8 484.5 L512.5 482.4 L512.5 482.0 L512.1 479.5 L511.8 477.0 L511.5 474.5 L511.2 472.0 L510.9 469.5 L510.7 467.0 L510.6 464.5 L510.5 462.0 L510.6 459.5 L510.8 457.0 L511.1 454.5 L511.7 452.0 L512.4 449.5 L512.5 449.3 L513.3 447.0 L514.4 444.5 L515.0 443.4 L515.7 442.0 L517.1 439.5 L517.5 438.9 L518.7 437.0 L520.0 435.1 L520.4 434.5 L522.3 432.0 L522.5 431.8 L524.4 429.5 L525.0 429.0 L527.1 427.0 L527.5 426.7 L530.0 424.9 L530.7 424.5 L532.5 423.6 L535.0 422.5 L536.5 422.0 L537.5 421.7 L540.0 421.1 L542.5 420.5 L545.0 420.1 L547.5 419.7 L548.8 419.5Z" fill="#fdb965"/><path d="M562.3 427.0 L562.5 427.0 L565.0 427.0 L566.1 427.0 L567.5 427.0 L570.0 427.2 L572.5 427.5 L575.0 427.7 L577.5 427.9 L580.0 428.2 L582.5 428.4 L585.0 428.6 L587.5 428.8 L590.0 429.0 L592.5 429.1 L595.0 429.3 L597.5 429.5 L597.9 429.5 L600.0 429.8 L602.5 430.1 L605.0 430.3 L607.5 430.5 L610.0 430.7 L612.5 430.8 L615.0 431.0 L617.5 431.2 L620.0 431.3 L622.5 431.5 L625.0 431.6 L627.5 431.7 L630.0 431.8 L632.5 432.0 L633.0 432.0 L635.0 432.2 L637.5 432.4 L640.0 432.6 L642.5 432.8 L645.0 433.0 L647.5 433.2 L650.0 433.4 L652.5 433.6 L655.0 433.7 L657.5 433.9 L660.0 434.0 L662.5 434.1 L665.0 434.2 L667.5 434.3 L670.0 434.4 L671.6 434.5 L672.5 434.6 L675.0 434.8 L677.5 435.0 L680.0 435.2 L682.5 435.3 L685.0 435.5 L687.5 435.7 L690.0 435.8 L692.5 436.0 L695.0 436.2 L697.5 436.4 L700.0 436.5 L702.5 436.7 L705.0 436.9 L707.5 437.0 L710.0 437.0 L712.5 437.0 L715.0 437.0 L717.5 436.9 L720.0 436.9 L722.5 436.9 L725.0 436.9 L727.5 436.9 L729.4 437.0 L730.0 437.0 L732.5 437.6 L735.0 438.2 L737.5 438.9 L740.0 439.5 L740.1 439.5 L742.5 441.3 L743.6 442.0 L745.0 443.2 L746.5 444.5 L747.5 445.4 L749.0 447.0 L750.0 448.1 L751.1 449.5 L752.5 451.3 L752.9 452.0 L754.4 454.5 L755.0 455.7 L755.5 457.0 L756.5 459.5 L757.4 462.0 L757.5 462.4 L757.5 464.5 L757.5 467.0 L757.5 469.5 L757.5 472.0 L757.5 474.5 L757.5 477.0 L757.5 479.5 L757.5 482.0 L757.5 484.5 L757.5 487.0 L757.5 489.5 L757.5 492.0 L757.5 494.5 L757.5 497.0 L757.5 499.5 L757.5 502.0 L757.5 504.5 L757.5 504.5 L757.3 507.0 L757.1 509.5 L756.8 512.0 L756.5 514.5 L756.2 517.0 L755.7 519.5 L755.0 522.0 L755.0 522.0 L754.8 524.5 L754.5 527.0 L754.2 529.5 L753.7 532.0 L753.1 534.5 L752.5 536.7 L752.4 537.0 L752.1 539.5 L751.7 542.0 L751.3 544.5 L750.5 547.0 L750.0 548.6 L749.8 549.5 L749.5 552.0 L749.0 554.5 L748.2 557.0 L747.5 558.8 L747.3 559.5 L746.9 562.0 L746.2 564.5 L745.0 567.0 L745.0 567.0 L744.5 569.5 L743.8 572.0 L742.5 574.3 L742.4 574.5 L741.7 577.0 L740.4 579.5 L740.0 580.2 L739.3 582.0 L737.5 584.5 L737.5 584.5 L736.0 587.0 L735.0 588.3 L734.0 589.5 L732.5 591.1 L731.6 592.0 L730.0 593.4 L728.6 594.5 L727.5 595.3 L725.0 596.8 L724.7 597.0 L722.5 598.2 L720.0 599.3 L719.6 599.5 L717.5 600.3 L715.0 601.2 L712.5 602.0 L712.3 602.0 L710.0 602.6 L707.5 603.3 L705.0 603.9 L702.6 604.5 L702.5 604.5 L700.0 605.2 L697.5 605.8 L695.0 606.5 L692.6 607.0 L692.5 607.0 L690.0 607.4 L687.5 607.7 L685.0 607.9 L682.5 608.1 L680.0 608.2 L677.5 608.2 L675.0 608.2 L672.5 608.1 L670.0 607.9 L667.5 607.7 L665.0 607.5 L662.5 607.2 L660.9 607.0 L660.0 606.9 L657.5 606.6 L655.0 606.3 L652.5 605.9 L650.0 605.5 L647.5 605.1 L645.0 604.5 L644.8 604.5 L642.5 604.1 L640.0 603.5 L637.5 603.0 L635.0 602.2 L634.1 602.0 L632.5 601.6 L630.0 600.9 L627.5 600.2 L625.5 599.5 L625.0 599.3 L622.5 598.6 L620.0 597.7 L618.1 597.0 L617.5 596.8 L615.0 595.9 L612.5 594.9 L611.6 594.5 L610.0 593.9 L607.5 592.8 L605.8 592.0 L605.0 591.6 L602.5 590.4 L600.8 589.5 L600.0 589.1 L597.5 587.6 L596.5 587.0 L595.0 586.0 L592.8 584.5 L592.5 584.3 L590.0 582.5 L589.3 582.0 L587.5 580.6 L586.1 579.5 L585.0 578.6 L583.1 577.0 L582.5 576.5 L580.2 574.5 L580.0 574.3 L577.5 572.2 L577.3 572.0 L575.0 570.1 L574.3 569.5 L572.5 567.9 L571.5 567.0 L570.0 565.7 L568.7 564.5 L567.5 563.4 L566.0 562.0 L565.0 561.1 L563.4 559.5 L562.5 558.6 L560.9 557.0 L560.0 556.1 L558.4 554.5 L557.5 553.5 L556.1 552.0 L555.0 550.8 L553.8 549.5 L552.5 548.0 L551.6 547.0 L550.0 545.0 L549.6 544.5 L547.5 542.0 L547.5 541.9 L545.6 539.5 L545.0 538.8 L543.7 537.0 L542.5 535.2 L542.0 534.5 L540.6 532.0 L540.0 530.8 L539.4 529.5 L538.4 527.0 L537.5 524.5 L537.5 524.5 L536.8 522.0 L536.1 519.5 L535.4 517.0 L535.0 515.5 L534.8 514.5 L534.2 512.0 L533.7 509.5 L533.2 507.0 L532.7 504.5 L532.5 503.2 L532.3 502.0 L532.0 499.5 L531.6 497.0 L531.3 494.5 L531.0 492.0 L530.7 489.5 L530.5 487.0 L530.3 484.5 L530.1 482.0 L530.0 480.0 L530.0 479.5 L529.9 477.0 L529.8 474.5 L529.8 472.0 L529.8 469.5 L529.7 467.0 L529.7 464.5 L529.8 462.0 L529.8 459.5 L529.9 457.0 L530.0 454.5 L530.0 454.1 L530.2 452.0 L530.6 449.5 L531.0 447.0 L531.5 444.5 L531.9 442.0 L532.3 439.5 L532.5 439.0 L533.6 437.0 L534.7 434.5 L535.0 434.1 L536.9 432.0 L537.5 431.5 L539.9 429.5 L540.0 429.4 L542.5 429.0 L545.0 428.6 L547.5 428.3 L550.0 428.0 L552.5 427.8 L555.0 427.7 L557.5 427.4 L560.0 427.2 L562.3 427.0Z" fill="#ef9e3c"/><path d="M570.1 447.0 L572.5 446.9 L575.0 446.9 L577.5 446.9 L580.0 446.9 L582.5 446.9 L585.0 447.0 L585.1 447.0 L587.5 447.1 L590.0 447.2 L592.5 447.3 L595.0 447.4 L597.5 447.6 L600.0 447.7 L602.5 447.9 L605.0 448.0 L607.5 448.2 L610.0 448.4 L612.5 448.5 L615.0 448.7 L617.5 448.8 L620.0 448.9 L622.5 449.1 L625.0 449.2 L627.5 449.3 L630.0 449.5 L630.3 449.5 L632.5 449.6 L635.0 449.8 L637.5 449.9 L640.0 450.1 L642.5 450.2 L645.0 450.4 L647.5 450.5 L650.0 450.7 L652.5 450.9 L655.0 451.0 L657.5 451.2 L660.0 451.4 L662.5 451.5 L665.0 451.7 L667.5 451.9 L669.7 452.0 L670.0 452.0 L672.5 452.2 L675.0 452.4 L677.5 452.5 L680.0 452.7 L682.5 452.9 L685.0 453.1 L687.5 453.3 L690.0 453.6 L692.5 453.8 L695.0 454.1 L697.5 454.3 L700.0 454.4 L701.6 454.5 L702.5 454.5 L705.0 454.7 L707.5 454.8 L710.0 455.0 L712.5 455.3 L715.0 455.7 L717.5 456.3 L719.9 457.0 L720.0 457.0 L722.5 458.1 L724.9 459.5 L725.0 459.6 L727.5 461.2 L728.5 462.0 L730.0 463.1 L731.6 464.5 L732.5 465.4 L734.1 467.0 L735.0 468.0 L736.2 469.5 L737.5 471.3 L737.9 472.0 L739.4 474.5 L740.0 475.6 L740.6 477.0 L741.7 479.5 L742.5 482.0 L742.5 482.1 L743.1 484.5 L743.6 487.0 L743.9 489.5 L744.1 492.0 L744.3 494.5 L744.3 497.0 L744.4 499.5 L744.4 502.0 L744.3 504.5 L744.2 507.0 L744.1 509.5 L743.9 512.0 L743.7 514.5 L743.5 517.0 L743.2 519.5 L742.9 522.0 L742.6 524.5 L742.5 524.9 L742.2 527.0 L741.8 529.5 L741.4 532.0 L740.9 534.5 L740.4 537.0 L740.0 538.9 L739.9 539.5 L739.4 542.0 L738.8 544.5 L738.1 547.0 L737.5 549.5 L737.5 549.5 L736.8 552.0 L736.0 554.5 L735.3 557.0 L735.0 557.8 L734.4 559.5 L733.5 562.0 L732.5 564.4 L732.5 564.5 L731.4 567.0 L730.1 569.5 L730.0 569.7 L728.7 572.0 L727.5 574.0 L727.2 574.5 L725.4 577.0 L725.0 577.5 L723.3 579.5 L722.5 580.4 L720.9 582.0 L720.0 582.8 L717.9 584.5 L717.5 584.8 L715.0 586.5 L714.2 587.0 L712.5 588.0 L710.0 589.2 L709.3 589.5 L707.5 590.2 L705.0 591.1 L702.5 591.9 L702.3 592.0 L700.0 592.7 L697.5 593.3 L695.0 594.0 L692.8 594.5 L692.5 594.6 L690.0 595.2 L687.5 595.6 L685.0 596.0 L682.5 596.4 L680.0 596.6 L677.5 596.7 L675.0 596.8 L672.5 596.9 L670.0 596.8 L667.5 596.7 L665.0 596.6 L662.5 596.4 L660.0 596.2 L657.5 596.0 L655.0 595.6 L652.5 595.3 L650.0 594.9 L647.5 594.5 L647.4 594.5 L645.0 594.0 L642.5 593.5 L640.0 592.9 L637.5 592.3 L636.4 592.0 L635.0 591.6 L632.5 590.9 L630.0 590.1 L628.3 589.5 L627.5 589.2 L625.0 588.4 L622.5 587.4 L621.4 587.0 L620.0 586.4 L617.5 585.4 L615.4 584.5 L615.0 584.3 L612.5 583.2 L610.0 582.0 L610.0 582.0 L607.5 580.7 L605.4 579.5 L605.0 579.3 L602.5 577.7 L601.4 577.0 L600.0 576.1 L597.8 574.5 L597.5 574.3 L595.0 572.4 L594.5 572.0 L592.5 570.3 L591.5 569.5 L590.0 568.2 L588.7 567.0 L587.5 565.9 L586.0 564.5 L585.0 563.6 L583.4 562.0 L582.5 561.1 L580.9 559.5 L580.0 558.6 L578.5 557.0 L577.5 555.9 L576.2 554.5 L575.0 553.2 L574.0 552.0 L572.5 550.3 L571.8 549.5 L570.0 547.2 L569.8 547.0 L567.9 544.5 L567.5 543.9 L566.1 542.0 L565.0 540.5 L564.3 539.5 L562.6 537.0 L562.5 536.8 L561.0 534.5 L560.0 532.7 L559.6 532.0 L558.4 529.5 L557.5 527.4 L557.3 527.0 L556.4 524.5 L555.7 522.0 L555.0 519.7 L554.9 519.5 L554.3 517.0 L553.8 514.5 L553.4 512.0 L553.1 509.5 L552.9 507.0 L552.8 504.5 L552.7 502.0 L552.6 499.5 L552.5 497.0 L552.5 494.5 L552.5 492.0 L552.6 489.5 L552.7 487.0 L552.8 484.5 L552.9 482.0 L553.1 479.5 L553.2 477.0 L553.5 474.5 L553.7 472.0 L554.0 469.5 L554.3 467.0 L554.7 464.5 L555.0 463.0 L555.2 462.0 L555.8 459.5 L556.6 457.0 L557.5 454.7 L557.6 454.5 L559.1 452.0 L560.0 451.0 L561.7 449.5 L562.5 449.0 L565.0 447.9 L567.5 447.3 L570.0 447.0 L570.1 447.0Z" fill="#e08214"/><path d="M588.3 467.0 L590.0 466.6 L592.5 466.4 L595.0 466.4 L597.5 466.6 L600.0 466.8 L602.5 467.0 L603.3 467.0 L605.0 467.1 L607.5 467.1 L610.0 467.0 L612.5 467.0 L615.0 467.0 L617.5 467.0 L620.0 467.1 L622.5 467.1 L625.0 467.2 L627.5 467.2 L630.0 467.3 L632.5 467.4 L635.0 467.5 L637.5 467.6 L640.0 467.7 L642.5 467.8 L645.0 467.9 L647.5 468.1 L650.0 468.2 L652.5 468.4 L655.0 468.6 L657.5 468.7 L660.0 468.9 L662.5 469.2 L665.0 469.3 L667.1 469.5 L667.5 469.5 L670.0 469.7 L672.5 469.9 L675.0 470.1 L677.5 470.4 L680.0 470.7 L682.5 471.0 L685.0 471.4 L687.5 471.8 L688.7 472.0 L690.0 472.2 L692.5 472.7 L695.0 473.3 L697.5 474.0 L699.2 474.5 L700.0 474.7 L702.5 475.5 L705.0 476.4 L706.5 477.0 L707.5 477.4 L710.0 478.5 L712.1 479.5 L712.5 479.7 L715.0 481.0 L716.7 482.0 L717.5 482.5 L720.0 484.2 L720.4 484.5 L722.5 486.3 L723.2 487.0 L725.0 489.0 L725.4 489.5 L727.0 492.0 L727.5 493.0 L728.0 494.5 L728.8 497.0 L729.5 499.5 L730.0 501.6 L730.1 502.0 L730.3 504.5 L730.5 507.0 L730.6 509.5 L730.7 512.0 L730.7 514.5 L730.7 517.0 L730.6 519.5 L730.4 522.0 L730.3 524.5 L730.1 527.0 L730.0 527.9 L729.7 529.5 L729.1 532.0 L728.5 534.5 L728.1 537.0 L727.7 539.5 L727.5 540.5 L727.0 542.0 L726.1 544.5 L725.5 547.0 L725.0 549.4 L725.0 549.5 L723.7 552.0 L722.8 554.5 L722.5 555.3 L721.6 557.0 L720.3 559.5 L720.0 560.1 L718.7 562.0 L717.5 564.0 L717.2 564.5 L715.2 567.0 L715.0 567.2 L712.9 569.5 L712.5 569.9 L710.3 572.0 L710.0 572.3 L707.5 574.5 L707.5 574.5 L705.0 576.0 L703.5 577.0 L702.5 577.5 L700.0 578.9 L698.9 579.5 L697.5 580.0 L695.0 580.9 L692.6 582.0 L692.5 582.0 L690.0 582.5 L687.5 583.0 L685.0 583.6 L682.5 584.2 L680.8 584.5 L680.0 584.6 L677.5 584.8 L675.0 585.0 L672.5 585.1 L670.0 585.2 L667.5 585.2 L665.0 585.3 L662.5 585.2 L660.0 585.1 L657.5 585.0 L655.0 584.8 L652.5 584.7 L650.5 584.5 L650.0 584.4 L647.5 583.8 L645.0 583.2 L642.5 582.7 L640.0 582.2 L639.0 582.0 L637.5 581.5 L635.0 580.5 L632.5 579.8 L631.4 579.5 L630.0 578.9 L627.5 577.8 L625.0 577.0 L624.9 577.0 L622.5 575.6 L620.0 574.7 L619.6 574.5 L617.5 573.3 L615.0 572.2 L614.7 572.0 L612.5 570.6 L610.1 569.5 L610.0 569.4 L607.5 567.6 L606.5 567.0 L605.0 565.8 L603.0 564.5 L602.5 564.1 L600.0 562.1 L599.9 562.0 L597.5 559.6 L597.4 559.5 L595.0 557.0 L595.0 557.0 L592.9 554.5 L592.5 554.0 L591.0 552.0 L590.0 550.7 L589.1 549.5 L587.5 547.4 L587.2 547.0 L585.5 544.5 L585.0 543.7 L584.0 542.0 L582.5 539.7 L582.4 539.5 L581.1 537.0 L580.0 535.1 L579.7 534.5 L578.6 532.0 L577.5 529.8 L577.3 529.5 L576.4 527.0 L575.5 524.5 L575.0 523.1 L574.7 522.0 L574.0 519.5 L573.5 517.0 L573.3 514.5 L573.3 512.0 L573.5 509.5 L573.7 507.0 L574.1 504.5 L574.4 502.0 L574.8 499.5 L575.0 497.9 L575.1 497.0 L575.6 494.5 L576.0 492.0 L576.5 489.5 L577.0 487.0 L577.5 485.0 L577.6 484.5 L578.3 482.0 L579.0 479.5 L579.9 477.0 L580.0 476.6 L580.9 474.5 L582.2 472.0 L582.5 471.6 L584.2 469.5 L585.0 468.8 L587.5 467.3 L588.3 467.0Z" fill="#cb6e0d"/><path d="M624.8 484.5 L625.0 484.5 L627.5 484.4 L630.0 484.3 L632.5 484.2 L635.0 484.2 L637.5 484.2 L640.0 484.2 L642.5 484.2 L645.0 484.2 L647.5 484.3 L650.0 484.4 L651.2 484.5 L652.5 484.6 L655.0 484.7 L657.5 484.9 L660.0 485.1 L662.5 485.4 L665.0 485.6 L667.5 485.9 L670.0 486.2 L672.5 486.6 L674.7 487.0 L675.0 487.1 L677.5 487.6 L680.0 488.2 L682.5 488.9 L684.3 489.5 L685.0 489.8 L687.5 490.7 L690.0 491.8 L690.4 492.0 L692.5 493.0 L695.0 494.4 L695.1 494.5 L697.5 496.1 L698.7 497.0 L700.0 498.2 L701.3 499.5 L702.5 501.1 L703.1 502.0 L704.3 504.5 L705.0 506.4 L705.2 507.0 L705.8 509.5 L706.3 512.0 L706.5 514.5 L706.7 517.0 L706.7 519.5 L706.6 522.0 L706.4 524.5 L706.1 527.0 L705.7 529.5 L705.3 532.0 L705.0 533.1 L704.7 534.5 L704.0 537.0 L703.2 539.5 L702.5 541.4 L702.3 542.0 L701.2 544.5 L700.0 546.8 L699.9 547.0 L698.3 549.5 L697.5 550.6 L696.4 552.0 L695.0 553.6 L694.1 554.5 L692.5 556.0 L691.3 557.0 L690.0 558.0 L687.8 559.5 L687.5 559.7 L685.0 561.0 L682.8 562.0 L682.5 562.1 L680.0 563.0 L677.5 563.7 L675.0 564.3 L673.7 564.5 L672.5 564.7 L670.0 565.1 L667.5 565.3 L665.0 565.5 L662.5 565.5 L660.0 565.5 L657.5 565.4 L655.0 565.3 L652.5 565.0 L650.0 564.7 L649.0 564.5 L647.5 564.2 L645.0 563.7 L642.5 563.1 L640.0 562.4 L638.8 562.0 L637.5 561.6 L635.0 560.7 L632.5 559.7 L631.9 559.5 L630.0 558.7 L627.5 557.6 L626.2 557.0 L625.0 556.4 L622.5 555.1 L621.5 554.5 L620.0 553.6 L617.6 552.0 L617.5 551.9 L615.0 550.0 L614.5 549.5 L612.5 547.7 L611.8 547.0 L610.0 545.1 L609.5 544.5 L607.5 542.1 L607.4 542.0 L605.5 539.5 L605.0 538.7 L603.9 537.0 L602.5 534.5 L602.5 534.5 L601.3 532.0 L600.2 529.5 L600.0 529.0 L599.3 527.0 L598.5 524.5 L597.9 522.0 L597.5 519.5 L597.5 518.9 L597.4 517.0 L597.5 515.2 L597.5 514.5 L597.9 512.0 L598.3 509.5 L598.7 507.0 L599.2 504.5 L599.8 502.0 L600.0 501.2 L600.4 499.5 L601.2 497.0 L602.1 494.5 L602.5 493.6 L603.2 492.0 L604.7 489.5 L605.0 489.1 L607.0 487.0 L607.5 486.6 L610.0 485.5 L612.5 485.0 L615.0 484.9 L617.5 484.9 L620.0 484.8 L622.5 484.6 L624.8 484.5Z" fill="#b45906"/><path d="M637.3 502.0 L637.5 502.0 L640.0 501.6 L642.5 501.4 L645.0 501.2 L647.5 501.0 L650.0 501.0 L652.5 501.1 L655.0 501.2 L657.5 501.5 L660.0 501.7 L662.1 502.0 L662.5 502.1 L665.0 503.0 L667.5 503.9 L669.4 504.5 L670.0 504.8 L672.5 506.4 L673.5 507.0 L675.0 508.2 L676.6 509.5 L677.5 510.4 L678.9 512.0 L680.0 513.6 L680.5 514.5 L681.5 517.0 L682.1 519.5 L682.4 522.0 L682.3 524.5 L681.8 527.0 L681.2 529.5 L680.4 532.0 L680.0 533.0 L679.1 534.5 L677.6 537.0 L677.5 537.1 L675.1 539.5 L675.0 539.6 L672.5 541.4 L671.6 542.0 L670.0 542.7 L667.5 543.8 L665.5 544.5 L665.0 544.6 L662.5 545.0 L660.0 545.2 L657.5 545.3 L655.0 545.2 L652.5 545.0 L650.0 544.8 L647.9 544.5 L647.5 544.4 L645.0 543.7 L642.5 543.0 L640.0 542.4 L638.4 542.0 L637.5 541.7 L635.0 540.5 L632.5 539.6 L632.4 539.5 L630.0 537.7 L629.0 537.0 L627.5 535.6 L626.4 534.5 L625.0 532.9 L624.4 532.0 L622.8 529.5 L622.5 528.6 L622.1 527.0 L621.8 524.5 L621.8 522.0 L621.9 519.5 L622.2 517.0 L622.5 515.5 L622.8 514.5 L623.8 512.0 L624.8 509.5 L625.0 509.1 L626.7 507.0 L627.5 506.3 L629.9 504.5 L630.0 504.5 L632.5 503.6 L635.0 502.8 L637.3 502.0Z" fill="#9a4a07"/></g>
<use href="#grid"/><use href="#coast"/>
</g>
<circle cx="569.4" cy="410.9" r="8.4" fill="#008000" stroke="#000" stroke-width="1.9"/>
<circle cx="384.0" cy="426.5" r="365.3" fill="none" stroke="#000" stroke-width="2.4"/>
<rect x="803.25" y="195.40" width="25.10" height="24.65" fill="#9a4a07"/>
<rect x="803.25" y="219.75" width="25.10" height="24.65" fill="#b45906"/>
<rect x="803.25" y="244.10" width="25.10" height="24.65" fill="#cb6e0d"/>
<rect x="803.25" y="268.45" width="25.10" height="24.65" fill="#e08214"/>
<rect x="803.25" y="292.80" width="25.10" height="24.65" fill="#ef9e3c"/>
<rect x="803.25" y="317.15" width="25.10" height="24.65" fill="#fdb965"/>
<rect x="803.25" y="341.50" width="25.10" height="24.65" fill="#fecd8f"/>
<rect x="803.25" y="365.85" width="25.10" height="24.65" fill="#fee0b6"/>
<rect x="803.25" y="390.20" width="25.10" height="24.65" fill="#faecd7"/>
<rect x="803.25" y="414.55" width="25.10" height="24.65" fill="#f6f6f7"/>
<rect x="803.25" y="438.90" width="25.10" height="24.65" fill="#e7e8f1"/>
<rect x="803.25" y="463.25" width="25.10" height="24.65" fill="#d8daeb"/>
<rect x="803.25" y="487.60" width="25.10" height="24.65" fill="#c5c2de"/>
<rect x="803.25" y="511.95" width="25.10" height="24.65" fill="#b1aad1"/>
<rect x="803.25" y="536.30" width="25.10" height="24.65" fill="#988dbe"/>
<rect x="803.25" y="560.65" width="25.10" height="24.65" fill="#8073ac"/>
<rect x="803.25" y="585.00" width="25.10" height="24.65" fill="#6a4c9a"/>
<rect x="803.25" y="609.35" width="25.10" height="24.65" fill="#532687"/>
<rect x="803.25" y="633.70" width="25.10" height="24.65" fill="#3f1268"/>
<rect x="803.25" y="658.05" width="25.10" height="24.65" fill="#2d004b"/>
<path d="M803.25 195.4000000000001 L815.8 170.20000000000005 L828.35 195.4000000000001Z" fill="#7f3b08"/>
<path d="M803.25 682.4000000000001 L803.25 195.4000000000001 L815.8 170.20000000000005 L828.35 195.4000000000001 L828.35 682.4000000000001Z" fill="none" stroke="#000" stroke-width="2.5" stroke-linejoin="miter"/>
<path d="M828.35 195.40 H837.35" stroke="#000" stroke-width="2.2"/>
<text x="845.5" y="208.20" font-family="Liberation Sans, sans-serif" font-size="36">200</text>
<path d="M828.35 317.15 H837.35" stroke="#000" stroke-width="2.2"/>
<text x="845.5" y="329.95" font-family="Liberation Sans, sans-serif" font-size="36">100</text>
<path d="M828.35 438.90 H837.35" stroke="#000" stroke-width="2.2"/>
<text x="845.5" y="451.70" font-family="Liberation Sans, sans-serif" font-size="36">0</text>
<path d="M828.35 560.65 H837.35" stroke="#000" stroke-width="2.2"/>
<text x="845.5" y="573.45" font-family="Liberation Sans, sans-serif" font-size="36">−100</text>
<path d="M828.35 682.40 H837.35" stroke="#000" stroke-width="2.2"/>
<text x="845.5" y="695.20" font-family="Liberation Sans, sans-serif" font-size="36">−200</text>
<text transform="translate(959.5,427.0) rotate(-90)" x="0" y="0" font-family="Liberation Sans, sans-serif" font-size="35" text-anchor="middle">Mean 500 hPa GPH anomaly (m)</text>
</g>
</svg></body></html>
